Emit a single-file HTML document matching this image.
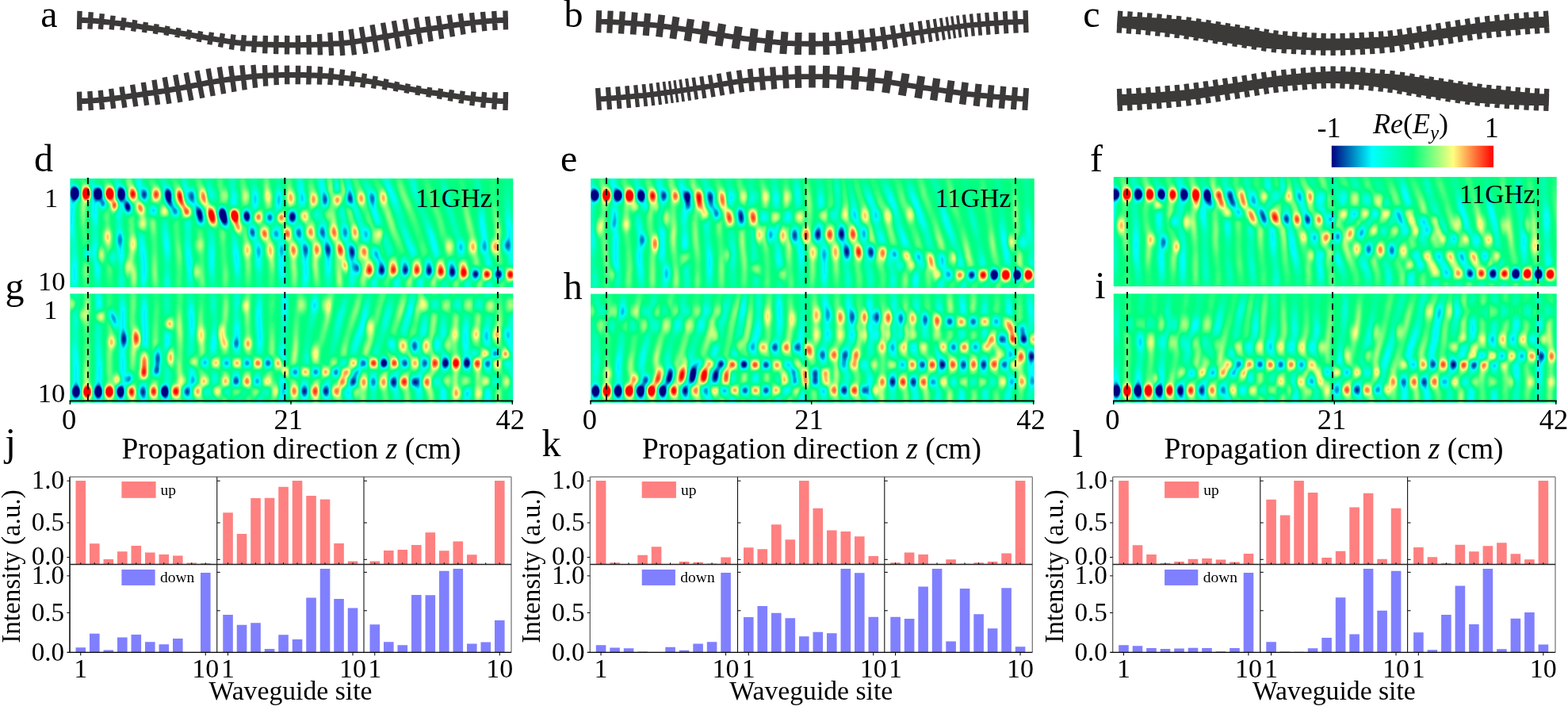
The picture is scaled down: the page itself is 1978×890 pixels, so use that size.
<!DOCTYPE html>
<html lang="en"><head><meta charset="utf-8"><title>Figure</title>
<style>html,body{margin:0;padding:0;background:#fff}body{width:1978px;height:890px;overflow:hidden}svg{display:block}text{font-family:"Liberation Serif",serif;fill:#000}.p1{fill:url(#p1)}.n1{fill:url(#n1)}.p2{fill:url(#p2)}.n2{fill:url(#n2)}.p3{fill:url(#p3)}.n3{fill:url(#n3)}.p4{fill:url(#p4)}.n4{fill:url(#n4)}.bg{fill:none;stroke-width:7.4;stroke-linecap:butt;stroke-linejoin:round;filter:url(#bb)}.w{stroke:#fff;stroke-width:6.4}.k{stroke:#000;stroke-width:8.2}</style></head><body>
<svg width="1978" height="890" viewBox="0 0 1978 890">
<rect width="1978" height="890" fill="#fff"/>
<path fill="#3b3a39" d="M97.23,21.9 101.82,21.98 106.39,22.12 110.94,22.3 115.56,22.55 120.14,22.9 124.69,23.28 129.27,23.7 133.83,24.17 138.36,24.66 142.9,25.16 147.46,25.67 152.03,26.24 156.62,26.87 161.19,27.57 165.72,28.29 170.25,28.99 174.78,29.71 179.31,30.42 183.82,31.11 188.33,31.77 192.86,32.41 197.41,33.07 201.98,33.77 206.54,34.52 211.09,35.29 215.63,36.09 220.17,36.9 224.71,37.72 229.23,38.53 233.76,39.33 238.29,40.13 242.83,40.94 247.36,41.75 251.89,42.56 256.41,43.36 260.93,44.14 265.45,44.91 269.96,45.64 274.52,46.4 279.05,47.17 283.57,47.93 288.07,48.66 292.56,49.34 297.02,49.94 301.47,50.43 305.95,50.83 310.46,51.2 314.97,51.54 319.48,51.85 323.98,52.13 328.48,52.37 332.98,52.56 337.47,52.7 341.99,52.81 346.52,52.91 351.04,53.01 355.56,53.09 360.08,53.15 364.59,53.19 369.1,53.2 373.61,53.19 378.12,53.15 382.64,53.09 387.16,53.01 391.68,52.91 396.21,52.81 400.73,52.7 405.22,52.56 409.72,52.37 414.22,52.13 418.72,51.85 423.23,51.54 427.74,51.2 432.25,50.83 436.73,50.43 441.18,49.94 445.64,49.34 450.13,48.66 454.63,47.93 459.15,47.17 463.68,46.4 468.24,45.64 472.75,44.91 477.27,44.14 481.79,43.36 486.31,42.56 490.84,41.75 495.37,40.94 499.91,40.13 504.44,39.33 508.97,38.53 513.49,37.72 518.03,36.9 522.57,36.09 527.11,35.29 531.66,34.52 536.22,33.77 540.79,33.07 545.34,32.41 549.87,31.77 554.38,31.11 558.89,30.42 563.42,29.71 567.95,28.99 572.48,28.29 577.01,27.57 581.58,26.87 586.17,26.24 590.74,25.67 595.3,25.16 599.84,24.66 604.37,24.17 608.93,23.7 613.51,23.28 618.06,22.9 622.64,22.55 627.26,22.3 631.81,22.12 636.38,21.98 640.97,21.9 641.03,28.9 636.56,28.98 632.06,29.12 627.55,29.29 623.11,29.54 618.63,29.87 614.11,30.25 609.62,30.66 605.12,31.13 600.59,31.62 596.07,32.12 591.56,32.63 587.07,33.18 582.6,33.8 578.1,34.49 573.57,35.21 569.03,35.91 564.51,36.62 559.97,37.33 555.42,38.03 550.86,38.7 546.33,39.34 541.82,39.99 537.32,40.68 532.82,41.42 528.31,42.19 523.79,42.98 519.26,43.79 514.73,44.61 510.2,45.42 505.66,46.23 501.13,47.02 496.6,47.83 492.07,48.64 487.54,49.45 483,50.25 478.45,51.04 473.9,51.81 469.36,52.55 464.85,53.3 460.32,54.07 455.78,54.84 451.21,55.58 446.63,56.27 442.04,56.88 437.42,57.4 432.84,57.81 428.29,58.18 423.73,58.52 419.18,58.84 414.62,59.12 410.05,59.36 405.48,59.55 400.91,59.7 396.37,59.81 391.84,59.91 387.29,60.01 382.75,60.08 378.2,60.15 373.65,60.19 369.1,60.2 364.55,60.19 360,60.15 355.45,60.08 350.91,60.01 346.36,59.91 341.83,59.81 337.29,59.7 332.72,59.55 328.15,59.36 323.58,59.12 319.02,58.84 314.47,58.52 309.91,58.18 305.36,57.81 300.78,57.4 296.16,56.88 291.57,56.27 286.99,55.58 282.42,54.84 277.88,54.07 273.35,53.3 268.84,52.55 264.3,51.81 259.75,51.04 255.2,50.25 250.66,49.45 246.13,48.64 241.6,47.83 237.07,47.02 232.54,46.23 228,45.42 223.47,44.61 218.94,43.79 214.41,42.98 209.89,42.19 205.38,41.42 200.88,40.68 196.38,39.99 191.87,39.34 187.34,38.7 182.78,38.03 178.23,37.33 173.69,36.62 169.17,35.91 164.63,35.21 160.1,34.49 155.6,33.8 151.13,33.18 146.64,32.63 142.13,32.12 137.61,31.62 133.08,31.13 128.58,30.66 124.09,30.25 119.57,29.87 115.09,29.54 110.65,29.29 106.14,29.12 101.64,28.98 97.17,28.9ZM97.33,13.86 103.73,13.99 103.27,37.03 96.87,36.9ZM111.54,15.07 117.92,15.46 116.62,36.86 110.24,36.47ZM125.61,16.96 131.98,17.57 130.11,37.2 123.74,36.59ZM139.43,19.38 145.79,20.07 143.85,37.71 137.49,37.01ZM153.4,21.92 159.73,22.84 157.44,38.54 151.11,37.62ZM167.15,24.76 173.47,25.74 171.25,39.98 164.93,39ZM180.81,27.47 187.14,28.42 185.15,41.58 178.82,40.62ZM194.5,29.88 200.84,30.82 199.02,43.13 192.68,42.2ZM208.41,32.29 214.72,33.38 212.67,45.21 206.36,44.12ZM222.24,34.71 228.54,35.84 226.4,47.7 220.1,46.57ZM236.01,37.09 242.31,38.2 240.19,50.22 233.89,49.1ZM249.92,38.86 256.22,39.98 253.84,53.36 247.54,52.24ZM263.79,40.19 270.1,41.24 267.53,56.78 261.22,55.74ZM277.76,41.57 284.07,42.65 281.12,59.99 274.81,58.92ZM291.37,43.01 297.71,43.89 295.07,62.93 288.73,62.05ZM304.65,44.02 311.03,44.54 309.35,64.85 302.97,64.32ZM318.26,44.57 324.64,44.98 323.3,66.32 316.92,65.92ZM331.73,44.72 338.13,44.93 337.39,67.51 330.99,67.3ZM345.39,44.69 351.78,44.82 351.29,68.22 344.9,68.09ZM359.03,44.86 365.43,44.92 365.21,68.47 358.81,68.41ZM372.6,44.85 379,44.79 379.2,68.49 372.8,68.55ZM386.22,44.2 392.62,44.07 393.14,68.71 386.74,68.85ZM399.84,43.02 406.23,42.81 407.08,69.22 400.69,69.43ZM413.14,41.16 419.53,40.77 421.34,69.75 414.95,70.15ZM426.55,39.17 432.93,38.64 435.49,69.72 429.11,70.25ZM439.38,37.14 445.72,36.27 450.22,68.84 443.88,69.71ZM452.56,34.49 458.87,33.42 464.6,67.13 458.29,68.21ZM466.35,31.77 472.67,30.73 478.37,65.27 472.05,66.31ZM479.9,29.3 486.2,28.18 492.38,62.99 486.08,64.11ZM493.67,26.76 499.98,25.65 506.17,60.6 499.86,61.72ZM507.45,24.59 513.75,23.46 519.95,57.88 513.65,59.02ZM521.43,22.65 527.74,21.56 533.53,54.91 527.22,56.01ZM535.78,21.37 542.11,20.43 546.74,51.7 540.41,52.64ZM549.7,20.59 556.03,19.64 560.38,48.51 554.05,49.46ZM563.51,19.15 569.84,18.16 574.13,45.65 567.8,46.64ZM577.51,17.54 583.84,16.61 587.69,42.98 581.36,43.9ZM591.83,16.41 598.19,15.71 600.93,40.71 594.57,41.41ZM605.82,15.36 612.19,14.74 614.5,38.83 608.13,39.44ZM620.01,14.2 626.39,13.8 627.87,37.75 621.49,38.15ZM634.27,13.57 640.67,13.43 641.17,37.33 634.77,37.46Z"/>
<path fill="#3b3a39" d="M97.17,124.1 101.64,124.02 106.14,123.88 110.65,123.71 115.09,123.46 119.57,123.13 124.09,122.75 128.58,122.34 133.08,121.88 137.59,121.38 142.08,120.84 146.58,120.26 151.1,119.63 155.59,118.99 160.11,118.3 164.64,117.59 169.17,116.89 173.69,116.18 178.23,115.47 182.78,114.77 187.34,114.1 191.87,113.46 196.38,112.81 200.88,112.12 205.39,111.39 209.9,110.63 214.42,109.85 218.94,109.05 223.46,108.23 227.99,107.41 232.52,106.59 237.03,105.75 241.54,104.87 246.06,103.97 250.59,103.06 255.13,102.15 259.69,101.27 264.26,100.43 268.83,99.65 273.37,98.9 277.91,98.16 282.46,97.45 287.02,96.76 291.58,96.11 296.15,95.5 300.72,94.94 305.28,94.44 309.81,93.95 314.36,93.47 318.92,93.01 323.48,92.6 328.06,92.23 332.65,91.93 337.24,91.71 341.78,91.53 346.32,91.37 350.87,91.22 355.42,91.09 359.97,90.99 364.53,90.92 369.1,90.9 373.67,90.92 378.23,90.99 382.78,91.09 387.33,91.22 391.88,91.37 396.42,91.53 400.96,91.71 405.55,91.93 410.14,92.23 414.72,92.6 419.28,93.01 423.84,93.47 428.39,93.95 432.92,94.44 437.48,94.94 442.05,95.5 446.62,96.11 451.18,96.76 455.74,97.45 460.29,98.16 464.83,98.9 469.37,99.65 473.94,100.43 478.51,101.27 483.07,102.15 487.61,103.06 492.14,103.97 496.66,104.87 501.17,105.75 505.68,106.59 510.21,107.41 514.74,108.23 519.26,109.05 523.78,109.85 528.3,110.63 532.81,111.39 537.32,112.12 541.82,112.81 546.33,113.46 550.86,114.1 555.42,114.77 559.97,115.47 564.51,116.18 569.03,116.89 573.56,117.59 578.09,118.3 582.61,118.99 587.1,119.63 591.62,120.26 596.12,120.84 600.61,121.38 605.12,121.88 609.62,122.34 614.11,122.75 618.63,123.13 623.11,123.46 627.55,123.71 632.06,123.88 636.56,124.02 641.03,124.1 640.97,131.1 636.38,131.02 631.81,130.88 627.26,130.7 622.64,130.45 618.06,130.1 613.51,129.72 608.94,129.31 604.37,128.84 599.82,128.34 595.25,127.79 590.68,127.19 586.14,126.57 581.57,125.91 577.02,125.21 572.49,124.51 567.95,123.81 563.42,123.09 558.89,122.38 554.38,121.69 549.87,121.03 545.34,120.39 540.79,119.73 536.22,119.03 531.67,118.29 527.12,117.53 522.57,116.74 518.03,115.94 513.49,115.12 508.95,114.3 504.42,113.47 499.86,112.63 495.31,111.74 490.77,110.83 486.23,109.92 481.72,109.02 477.21,108.15 472.71,107.32 468.23,106.55 463.7,105.81 459.18,105.08 454.67,104.37 450.16,103.69 445.66,103.04 441.16,102.44 436.67,101.9 432.16,101.4 427.64,100.91 423.12,100.43 418.61,99.98 414.12,99.57 409.63,99.21 405.15,98.92 400.68,98.7 396.16,98.53 391.64,98.36 387.12,98.21 382.61,98.09 378.1,97.99 373.6,97.92 369.1,97.9 364.6,97.92 360.1,97.99 355.59,98.09 351.08,98.21 346.56,98.36 342.04,98.53 337.52,98.7 333.05,98.92 328.57,99.21 324.08,99.57 319.59,99.98 315.08,100.43 310.56,100.91 306.04,101.4 301.53,101.9 297.04,102.44 292.54,103.04 288.04,103.69 283.53,104.37 279.02,105.08 274.5,105.81 269.97,106.55 265.49,107.32 260.99,108.15 256.48,109.02 251.97,109.92 247.43,110.83 242.89,111.74 238.34,112.63 233.78,113.47 229.25,114.3 224.71,115.12 220.17,115.94 215.63,116.74 211.08,117.53 206.53,118.29 201.98,119.03 197.41,119.73 192.86,120.39 188.33,121.03 183.82,121.69 179.31,122.38 174.78,123.09 170.25,123.81 165.71,124.51 161.18,125.21 156.63,125.91 152.06,126.57 147.52,127.19 142.95,127.79 138.38,128.34 133.83,128.84 129.26,129.31 124.69,129.72 120.14,130.1 115.56,130.45 110.94,130.7 106.39,130.88 101.82,131.02 97.23,131.1ZM96.86,115.67 103.26,115.54 103.74,139.44 97.34,139.57ZM110.16,115.25 116.55,114.87 118,138.82 111.61,139.21ZM123.54,114.18 129.91,113.58 132.18,137.67 125.81,138.27ZM136.92,112.35 143.27,111.56 146.36,136.51 140.01,137.29ZM150.31,109.85 156.64,108.91 160.53,135.25 154.2,136.19ZM163.9,107.18 170.22,106.2 174.5,133.68 168.18,134.66ZM177.64,104.33 183.96,103.38 188.32,132.22 182,133.18ZM191.28,101.14 197.62,100.21 202.24,131.44 195.9,132.38ZM204.54,97.93 210.85,96.85 216.54,130.21 210.23,131.29ZM218.06,95 224.36,93.86 230.58,128.27 224.28,129.41ZM231.63,92.27 237.91,91.07 244.57,125.94 238.29,127.14ZM245.27,89.67 251.54,88.41 258.49,123.08 252.22,124.33ZM259.47,87.05 265.78,85.94 271.85,120.43 265.54,121.53ZM273.6,85.07 279.92,84.07 285.28,117.86 278.96,118.86ZM287.84,83.55 294.18,82.69 298.6,115.29 292.26,116.15ZM302.13,82.61 308.49,81.92 311.87,112.94 305.51,113.63ZM316.25,82.18 322.62,81.59 325.31,110.53 318.94,111.12ZM330.69,82.29 337.08,81.96 338.43,108.38 332.04,108.7ZM344.73,82.58 351.13,82.36 351.95,107.02 345.55,107.24ZM358.75,82.65 365.15,82.56 365.49,106.26 359.09,106.35ZM372.87,82.63 379.27,82.72 378.93,106.27 372.53,106.18ZM386.87,82.99 393.27,83.2 392.49,106.6 386.09,106.39ZM400.83,83.87 407.23,84.19 406.09,106.78 399.69,106.46ZM415.04,85.39 421.41,85.98 419.44,107.28 413.07,106.7ZM428.94,87.27 435.31,87.97 433.1,108.23 426.73,107.54ZM442.92,89.43 449.26,90.29 446.68,109.35 440.34,108.5ZM456.8,92.23 463.12,93.24 460.36,110.64 454.04,109.64ZM470.57,95.38 476.88,96.49 474.15,112.03 467.84,110.92ZM484.34,99.03 490.62,100.29 487.94,113.64 481.66,112.38ZM497.92,102.48 504.21,103.68 501.92,115.67 495.63,114.47ZM511.62,105.1 517.92,106.24 515.78,118.1 509.48,116.96ZM525.34,107.58 531.64,108.66 529.62,120.49 523.32,119.41ZM539.01,109.65 545.34,110.58 543.51,122.89 537.18,121.95ZM552.87,111.2 559.2,112.16 557.21,125.3 550.88,124.34ZM566.77,112.8 573.09,113.78 570.87,128.01 564.55,127.02ZM580.6,114.22 586.93,115.16 584.6,130.83 578.27,129.89ZM594.3,115.22 600.65,116.01 598.46,133.59 592.11,132.8ZM607.9,115.8 614.27,116.41 612.42,136.01 606.05,135.41ZM621.41,116.14 627.79,116.53 626.47,137.91 620.09,137.52ZM634.76,115.98 641.16,116.11 640.68,139.12 634.28,138.99Z"/>
<path fill="#3b3a39" d="M752.09,23.6 756.65,23.73 761.21,23.89 765.78,24.08 770.34,24.3 774.89,24.54 779.45,24.8 784.01,25.08 788.56,25.38 793.12,25.7 797.67,26.03 802.22,26.37 806.77,26.73 811.32,27.1 815.87,27.48 820.45,27.88 825.02,28.34 829.6,28.85 834.17,29.4 838.74,29.98 843.3,30.6 847.86,31.24 852.42,31.91 856.97,32.59 861.52,33.29 866.06,33.99 870.6,34.69 875.14,35.39 879.68,36.09 884.21,36.77 888.73,37.43 893.29,38.09 897.85,38.78 902.41,39.5 906.96,40.23 911.5,40.96 916.04,41.7 920.58,42.43 925.11,43.15 929.64,43.85 934.16,44.52 938.67,45.16 943.18,45.76 947.69,46.31 952.21,46.82 956.76,47.33 961.3,47.84 965.83,48.35 970.36,48.85 974.89,49.32 979.41,49.77 983.93,50.19 988.44,50.58 992.94,50.91 997.44,51.2 1001.94,51.42 1006.43,51.58 1010.96,51.7 1015.48,51.8 1020,51.87 1024.5,51.9 1029,51.87 1033.52,51.8 1038.04,51.7 1042.57,51.58 1047.06,51.42 1051.56,51.2 1056.06,50.91 1060.56,50.58 1065.07,50.19 1069.59,49.77 1074.11,49.32 1078.64,48.85 1083.17,48.35 1087.7,47.84 1092.24,47.33 1096.79,46.82 1101.31,46.31 1105.82,45.76 1110.33,45.16 1114.84,44.52 1119.36,43.85 1123.89,43.15 1128.42,42.43 1132.96,41.7 1137.5,40.96 1142.04,40.23 1146.59,39.5 1151.15,38.78 1155.71,38.09 1160.27,37.43 1164.79,36.77 1169.32,36.09 1173.86,35.39 1178.4,34.69 1182.94,33.99 1187.48,33.29 1192.03,32.59 1196.58,31.91 1201.14,31.24 1205.7,30.6 1210.26,29.98 1214.83,29.4 1219.4,28.85 1223.98,28.34 1228.55,27.88 1233.13,27.48 1237.68,27.1 1242.23,26.73 1246.78,26.37 1251.33,26.03 1255.88,25.7 1260.44,25.38 1264.99,25.08 1269.55,24.8 1274.11,24.54 1278.66,24.3 1283.22,24.08 1287.79,23.89 1292.35,23.73 1296.91,23.6 1297.09,30.4 1292.57,30.53 1288.05,30.69 1283.53,30.88 1279,31.09 1274.48,31.32 1269.95,31.58 1265.43,31.86 1260.9,32.16 1256.37,32.48 1251.84,32.81 1247.3,33.15 1242.77,33.51 1238.24,33.88 1233.7,34.25 1229.2,34.65 1224.69,35.1 1220.18,35.6 1215.67,36.14 1211.15,36.72 1206.63,37.33 1202.11,37.97 1197.58,38.63 1193.05,39.31 1188.52,40.01 1183.98,40.71 1179.44,41.41 1174.89,42.11 1170.34,42.81 1165.79,43.49 1161.23,44.16 1156.71,44.82 1152.19,45.5 1147.66,46.21 1143.12,46.94 1138.59,47.67 1134.04,48.41 1129.5,49.14 1124.94,49.87 1120.39,50.57 1115.82,51.25 1111.26,51.9 1106.68,52.51 1102.1,53.07 1097.54,53.58 1093.01,54.09 1088.46,54.6 1083.92,55.11 1079.36,55.61 1074.81,56.09 1070.24,56.54 1065.68,56.97 1061.1,57.35 1056.53,57.7 1051.94,57.99 1047.36,58.22 1042.76,58.38 1038.21,58.5 1033.65,58.6 1029.08,58.67 1024.5,58.7 1019.92,58.67 1015.35,58.6 1010.79,58.5 1006.24,58.38 1001.64,58.22 997.06,57.99 992.47,57.7 987.9,57.35 983.32,56.97 978.76,56.54 974.19,56.09 969.64,55.61 965.08,55.11 960.54,54.6 955.99,54.09 951.46,53.58 946.9,53.07 942.32,52.51 937.74,51.9 933.18,51.25 928.61,50.57 924.06,49.87 919.5,49.14 914.96,48.41 910.41,47.67 905.88,46.94 901.34,46.21 896.81,45.5 892.29,44.82 887.77,44.16 883.21,43.49 878.66,42.81 874.11,42.11 869.56,41.41 865.02,40.71 860.48,40.01 855.95,39.31 851.42,38.63 846.89,37.97 842.37,37.33 837.85,36.72 833.33,36.14 828.82,35.6 824.31,35.1 819.8,34.65 815.3,34.25 810.76,33.88 806.23,33.51 801.7,33.15 797.16,32.81 792.63,32.48 788.1,32.16 783.57,31.86 779.05,31.58 774.52,31.32 770,31.09 765.47,30.88 760.95,30.69 756.43,30.53 751.91,30.4ZM752.25,12.99 759.2,13.2 758.35,41.19 751.4,40.98ZM766.62,13.5 773.75,13.85 772.38,41.82 765.25,41.47ZM781.61,14.3 788.99,14.78 787.19,42.72 779.81,42.24ZM796.91,15.34 804.61,15.92 802.49,43.84 794.79,43.26ZM812.99,16.6 821.15,17.28 818.81,45.18 810.65,44.5ZM830.55,18.27 839.06,19.32 835.65,47.11 827.14,46.06ZM848.56,20.62 857.33,21.92 853.24,49.62 844.47,48.32ZM866.86,23.39 876.03,24.81 871.74,52.48 862.57,51.06ZM886,26.33 895.58,27.7 891.6,55.42 882.02,54.04ZM906.09,29.35 915.99,30.95 911.51,58.59 901.61,56.99ZM926.78,32.7 936.81,34.21 932.62,61.9 922.59,60.38ZM946.84,35.57 956.63,36.65 953.56,64.48 943.77,63.4ZM966.69,37.79 976.11,38.8 973.11,66.64 963.69,65.63ZM985.47,39.71 994.51,40.42 992.33,68.33 983.29,67.63ZM1002.91,40.89 1011.63,41.12 1010.89,69.11 1002.17,68.88ZM1020.19,41.3 1028.81,41.3 1028.81,69.3 1020.19,69.3ZM1037.64,41.11 1045.82,40.89 1046.56,68.89 1038.38,69.1ZM1053.07,40.51 1060.69,39.95 1062.73,67.87 1055.11,68.43ZM1068.27,39.26 1075.51,38.53 1078.33,66.38 1071.09,67.12ZM1082.59,37.75 1089.48,36.98 1092.61,64.8 1085.72,65.58ZM1096.64,36.19 1103.31,35.41 1106.56,63.22 1099.89,64ZM1109.83,34.54 1116.16,33.62 1120.17,61.33 1113.84,62.25ZM1122.47,32.64 1128.52,31.68 1132.93,59.33 1126.88,60.3ZM1134.91,30.64 1140.61,29.72 1145.09,57.36 1139.39,58.28ZM1146.47,28.78 1151.84,27.95 1156.13,55.62 1150.76,56.45ZM1157.65,27.1 1162.72,26.36 1166.75,54.07 1161.68,54.81ZM1167.82,25.59 1172.35,24.9 1176.58,52.58 1172.05,53.27ZM1176.73,24.22 1180.78,23.6 1185.07,51.27 1181.02,51.89ZM1184.94,22.95 1188.62,22.39 1192.86,50.06 1189.18,50.63ZM1192.36,21.82 1195.71,21.32 1199.84,49.02 1196.49,49.51ZM1199.07,20.83 1202.37,20.36 1206.33,48.08 1203.03,48.55ZM1206.03,19.85 1209.67,19.37 1213.37,47.12 1209.73,47.61ZM1214.01,18.81 1218.07,18.33 1221.39,46.13 1217.33,46.61ZM1222.82,17.8 1227.18,17.36 1229.98,45.22 1225.62,45.66ZM1232.06,16.93 1236.83,16.53 1239.14,44.44 1234.37,44.83ZM1242.22,16.1 1247.4,15.69 1249.58,43.61 1244.4,44.01ZM1253.04,15.27 1258.58,14.88 1260.56,42.81 1255.02,43.2ZM1264.79,14.46 1270.71,14.11 1272.41,42.05 1266.49,42.41ZM1277.23,13.75 1283.45,13.46 1284.77,41.42 1278.55,41.72ZM1290.4,13.18 1296.77,12.99 1297.6,40.98 1291.23,41.17Z"/>
<path fill="#3b3a39" d="M751.8,121.71 756.33,121.43 760.86,121.14 765.39,120.83 769.92,120.51 774.45,120.17 778.98,119.81 783.51,119.43 788.04,119.05 792.57,118.64 797.1,118.23 801.64,117.8 806.17,117.36 810.7,116.91 815.23,116.45 819.75,115.96 824.27,115.44 828.79,114.89 833.32,114.32 837.84,113.73 842.37,113.12 846.9,112.5 851.44,111.86 855.97,111.21 860.51,110.55 865.05,109.88 869.59,109.21 874.13,108.54 878.67,107.87 883.22,107.21 887.76,106.55 892.26,105.87 896.78,105.14 901.31,104.38 905.84,103.61 910.38,102.82 914.93,102.03 919.48,101.26 924.04,100.51 928.61,99.8 933.19,99.12 937.78,98.51 942.37,97.96 946.97,97.49 951.52,97.06 956.07,96.64 960.62,96.24 965.17,95.85 969.73,95.47 974.29,95.12 978.85,94.79 983.41,94.48 987.97,94.2 992.54,93.95 997.1,93.74 1001.67,93.56 1006.24,93.42 1010.79,93.31 1015.35,93.2 1019.92,93.13 1024.5,93.1 1029.08,93.13 1033.65,93.2 1038.21,93.31 1042.76,93.42 1047.33,93.56 1051.9,93.74 1056.46,93.95 1061.03,94.2 1065.59,94.48 1070.15,94.79 1074.71,95.12 1079.27,95.47 1083.83,95.85 1088.38,96.24 1092.93,96.64 1097.48,97.06 1102.03,97.49 1106.63,97.96 1111.22,98.51 1115.81,99.12 1120.39,99.8 1124.96,100.51 1129.52,101.26 1134.07,102.03 1138.62,102.82 1143.16,103.61 1147.69,104.38 1152.22,105.14 1156.74,105.87 1161.24,106.55 1165.78,107.21 1170.33,107.87 1174.87,108.54 1179.41,109.21 1183.95,109.88 1188.49,110.55 1193.03,111.21 1197.56,111.86 1202.1,112.5 1206.63,113.12 1211.16,113.73 1215.68,114.32 1220.21,114.89 1224.73,115.44 1229.25,115.96 1233.77,116.45 1238.3,116.91 1242.83,117.36 1247.36,117.8 1251.9,118.23 1256.43,118.64 1260.96,119.05 1265.49,119.43 1270.02,119.81 1274.55,120.17 1279.08,120.51 1283.61,120.83 1288.14,121.14 1292.67,121.43 1297.2,121.71 1296.8,128.49 1292.25,128.22 1287.69,127.93 1283.14,127.62 1278.58,127.29 1274.03,126.95 1269.48,126.59 1264.92,126.21 1260.37,125.82 1255.82,125.42 1251.27,125 1246.72,124.57 1242.17,124.13 1237.62,123.68 1233.06,123.21 1228.5,122.72 1223.94,122.19 1219.38,121.64 1214.82,121.07 1210.26,120.47 1205.71,119.86 1201.15,119.23 1196.6,118.59 1192.06,117.94 1187.51,117.28 1182.96,116.61 1178.42,115.94 1173.88,115.27 1169.34,114.6 1164.8,113.94 1160.26,113.28 1155.68,112.59 1151.11,111.85 1146.56,111.09 1142,110.31 1137.46,109.52 1132.93,108.74 1128.4,107.97 1123.88,107.23 1119.36,106.52 1114.86,105.86 1110.36,105.25 1105.87,104.72 1101.39,104.26 1096.85,103.83 1092.32,103.42 1087.79,103.01 1083.26,102.62 1078.73,102.25 1074.2,101.9 1069.68,101.57 1065.16,101.26 1060.64,100.99 1056.12,100.74 1051.6,100.53 1047.09,100.35 1042.58,100.22 1038.04,100.1 1033.52,100 1029,99.93 1024.5,99.9 1020,99.93 1015.48,100 1010.96,100.1 1006.42,100.22 1001.91,100.35 997.4,100.53 992.88,100.74 988.36,100.99 983.84,101.26 979.32,101.57 974.8,101.9 970.27,102.25 965.74,102.62 961.21,103.01 956.68,103.42 952.15,103.83 947.61,104.26 943.13,104.72 938.64,105.25 934.14,105.86 929.64,106.52 925.12,107.23 920.6,107.97 916.07,108.74 911.54,109.52 907,110.31 902.44,111.09 897.89,111.85 893.32,112.59 888.74,113.28 884.2,113.94 879.66,114.6 875.12,115.27 870.58,115.94 866.04,116.61 861.49,117.28 856.94,117.94 852.4,118.59 847.85,119.23 843.29,119.86 838.74,120.47 834.18,121.07 829.62,121.64 825.06,122.19 820.5,122.72 815.94,123.21 811.38,123.68 806.83,124.13 802.28,124.57 797.73,125 793.18,125.42 788.63,125.82 784.08,126.21 779.52,126.59 774.97,126.95 770.42,127.29 765.86,127.62 761.31,127.93 756.75,128.22 752.2,128.49ZM750.97,111.14 757.33,110.75 759.03,138.7 752.67,139.09ZM763.89,110.32 770.1,109.87 772.11,137.8 765.9,138.24ZM776.31,109.39 782.22,108.91 784.49,136.82 778.58,137.3ZM788.18,108.4 793.72,107.9 796.22,135.79 790.68,136.28ZM799.17,107.39 804.35,106.89 807.03,134.76 801.85,135.26ZM809.6,106.37 814.36,105.89 817.2,133.75 812.44,134.23ZM818.82,105.4 823.18,104.9 826.38,132.72 822.02,133.22ZM827.52,104.37 831.58,103.86 835.08,131.64 831.02,132.15ZM835.62,103.34 839.27,102.85 842.98,130.6 839.33,131.09ZM842.72,102.38 846.02,101.92 849.88,129.65 846.58,130.11ZM849.25,101.46 852.59,100.98 856.55,128.7 853.21,129.18ZM856.24,100.46 859.92,99.92 863.96,127.63 860.28,128.16ZM864.04,99.32 868.08,98.72 872.16,126.42 868.12,127.02ZM872.5,98.07 877.03,97.4 881.1,125.1 876.57,125.77ZM882.27,96.64 887.34,95.91 891.33,123.62 886.26,124.35ZM892.74,95.06 898.1,94.18 902.66,121.8 897.3,122.69ZM903.76,93.21 909.46,92.22 914.24,119.81 908.54,120.8ZM915.99,91.1 922.03,90.09 926.61,117.72 920.57,118.72ZM928.89,89.02 935.23,88.14 939.11,115.87 932.77,116.75ZM942.74,87.24 949.43,86.61 952.06,114.48 945.37,115.12ZM956.73,85.94 963.64,85.33 966.07,113.23 959.16,113.83ZM971.04,84.73 978.29,84.19 980.36,112.11 973.11,112.65ZM986.54,83.65 994.17,83.25 995.66,111.21 988.03,111.61ZM1002.46,82.91 1010.64,82.7 1011.34,110.7 1003.16,110.9ZM1020.19,82.5 1028.81,82.5 1028.81,110.5 1020.19,110.5ZM1038.09,82.7 1046.81,82.92 1046.11,110.91 1037.39,110.69ZM1056.37,83.32 1065.42,83.83 1063.83,111.79 1054.78,111.27ZM1075.49,84.54 1084.95,85.29 1082.71,113.2 1073.25,112.45ZM1095.2,86.2 1105.01,87.12 1102.4,115 1092.59,114.08ZM1116.37,88.47 1126.4,89.98 1122.23,117.67 1112.2,116.16ZM1137.65,91.89 1147.53,93.6 1142.75,121.19 1132.87,119.48ZM1157.47,95.28 1167.04,96.7 1162.93,124.4 1153.36,122.97ZM1177.15,98.16 1186.34,99.52 1182.25,127.22 1173.06,125.86ZM1195.68,100.88 1204.46,102.13 1200.52,129.85 1191.74,128.61ZM1213.42,103.35 1221.93,104.44 1218.38,132.21 1209.87,131.12ZM1230.5,105.45 1238.64,106.31 1235.7,134.15 1227.56,133.29ZM1246.77,107.1 1254.46,107.83 1251.83,135.7 1244.14,134.98ZM1262.09,108.51 1269.47,109.13 1267.11,137.03 1259.73,136.41ZM1276.97,109.73 1284.08,110.25 1282.03,138.17 1274.92,137.65ZM1291.08,110.72 1298.03,111.14 1296.32,139.09 1289.37,138.67Z"/>
<path fill="#3b3a39" d="M1409.58,20.4 1414.17,20.51 1418.75,20.63 1423.33,20.78 1427.91,20.94 1432.5,21.12 1437.08,21.32 1441.66,21.54 1446.24,21.77 1450.82,22.02 1455.4,22.28 1459.98,22.56 1464.56,22.84 1469.14,23.14 1473.71,23.45 1478.29,23.78 1482.86,24.11 1487.43,24.46 1492.08,24.83 1496.72,25.23 1501.36,25.66 1506,26.13 1510.62,26.63 1515.23,27.19 1519.82,27.8 1524.4,28.46 1528.96,29.18 1533.51,29.91 1538.04,30.64 1542.57,31.37 1547.08,32.08 1551.59,32.78 1556.08,33.46 1560.56,34.12 1565.16,34.79 1569.77,35.49 1574.35,36.21 1578.91,36.98 1583.43,37.8 1587.92,38.67 1592.39,39.55 1596.82,40.43 1601.24,41.29 1605.64,42.09 1610.03,42.83 1614.4,43.5 1618.75,44.13 1623.15,44.7 1627.67,45.24 1632.19,45.71 1636.7,46.12 1641.21,46.49 1645.71,46.84 1650.21,47.16 1654.71,47.46 1659.2,47.72 1663.69,47.95 1668.17,48.14 1672.65,48.29 1677.13,48.41 1681.6,48.48 1686.07,48.51 1690.55,48.5 1695.03,48.45 1699.52,48.35 1704.02,48.23 1708.52,48.08 1713.02,47.9 1717.53,47.71 1722.05,47.49 1726.57,47.27 1731.1,47.04 1735.63,46.81 1740.17,46.58 1744.62,46.34 1749.05,46.03 1753.49,45.64 1757.95,45.18 1762.42,44.66 1766.91,44.09 1771.42,43.48 1775.94,42.83 1780.47,42.15 1785.02,41.45 1789.57,40.75 1794.14,40.04 1798.72,39.34 1803.29,38.67 1807.8,38 1812.31,37.3 1816.82,36.58 1821.35,35.85 1825.87,35.1 1830.41,34.35 1834.95,33.59 1839.5,32.84 1844.05,32.1 1848.61,31.36 1853.17,30.65 1857.75,29.96 1862.33,29.3 1866.91,28.67 1871.51,28.08 1876.1,27.54 1880.65,27.02 1885.2,26.51 1889.75,26.01 1894.3,25.53 1898.86,25.05 1903.41,24.58 1907.97,24.12 1912.53,23.68 1917.09,23.25 1921.65,22.83 1926.21,22.43 1930.78,22.05 1935.34,21.69 1939.91,21.34 1944.47,21.01 1949.04,20.7 1953.62,20.41 1954.38,34.59 1949.88,34.81 1945.37,35.06 1940.85,35.33 1936.34,35.61 1931.82,35.92 1927.31,36.24 1922.79,36.58 1918.27,36.93 1913.75,37.3 1909.23,37.69 1904.71,38.09 1900.18,38.5 1895.66,38.92 1891.13,39.36 1886.6,39.8 1882.07,40.26 1877.54,40.73 1873.05,41.21 1868.57,41.73 1864.07,42.29 1859.57,42.88 1855.07,43.5 1850.55,44.15 1846.03,44.81 1841.5,45.5 1836.97,46.19 1832.43,46.9 1827.89,47.61 1823.33,48.32 1818.78,49.02 1814.21,49.71 1809.64,50.39 1805.07,51.05 1800.56,51.7 1796.06,52.39 1791.55,53.11 1787.02,53.87 1782.49,54.64 1777.94,55.42 1773.38,56.19 1768.81,56.95 1764.22,57.67 1759.61,58.36 1754.99,58.99 1750.35,59.55 1745.7,60.03 1741.07,60.43 1736.53,60.79 1731.98,61.13 1727.43,61.46 1722.87,61.78 1718.31,62.07 1713.74,62.34 1709.16,62.6 1704.58,62.82 1700,63.02 1695.41,63.19 1690.81,63.34 1686.21,63.44 1681.6,63.52 1676.99,63.55 1672.39,63.54 1667.79,63.5 1663.19,63.43 1658.6,63.34 1654.01,63.22 1649.43,63.08 1644.85,62.94 1640.27,62.78 1635.7,62.62 1631.13,62.46 1626.57,62.36 1622.01,62.3 1617.33,62.24 1612.6,62.08 1607.89,61.8 1603.2,61.45 1598.52,61.05 1593.86,60.61 1589.21,60.12 1584.6,59.58 1580.01,58.98 1575.45,58.34 1570.93,57.64 1566.43,56.93 1561.96,56.25 1557.48,55.6 1552.88,54.93 1548.29,54.23 1543.72,53.52 1539.15,52.8 1534.6,52.07 1530.05,51.34 1525.52,50.61 1521,49.88 1516.5,49.11 1512.01,48.32 1507.54,47.52 1503.08,46.71 1498.64,45.93 1494.2,45.17 1489.76,44.46 1485.33,43.81 1480.82,43.17 1476.31,42.54 1471.81,41.92 1467.3,41.31 1462.8,40.7 1458.3,40.11 1453.8,39.52 1449.3,38.96 1444.8,38.41 1440.3,37.87 1435.8,37.35 1431.3,36.84 1426.81,36.36 1422.31,35.89 1417.81,35.44 1413.31,35.01 1408.82,34.6ZM1410.16,13.53 1416.45,13.89 1414.84,41.84 1408.55,41.48ZM1422.56,14.28 1428.84,14.71 1426.9,42.65 1420.62,42.21ZM1434.94,15.17 1441.22,15.67 1438.99,43.58 1432.71,43.08ZM1447.3,16.19 1453.58,16.75 1451.09,44.64 1444.82,44.08ZM1459.64,17.31 1465.91,17.92 1463.21,45.79 1456.94,45.18ZM1471.97,18.53 1478.23,19.18 1475.35,47.03 1469.08,46.38ZM1484.27,19.82 1490.54,20.5 1487.51,48.34 1481.25,47.66ZM1496.82,21.25 1503.07,22.07 1499.42,49.83 1493.18,49.01ZM1509.3,22.95 1515.53,23.88 1511.41,51.58 1505.18,50.65ZM1521.67,24.83 1527.89,25.82 1523.51,53.47 1517.28,52.48ZM1533.93,26.79 1540.15,27.79 1535.7,55.44 1529.48,54.43ZM1546.09,28.74 1552.32,29.71 1548.01,57.38 1541.78,56.41ZM1558.15,30.59 1564.39,31.49 1560.41,59.2 1554.18,58.31ZM1570.6,32.43 1576.82,33.42 1572.43,61.07 1566.2,60.08ZM1582.86,34.4 1589.08,35.4 1584.64,63.04 1578.41,62.04ZM1594.88,36.3 1601.12,37.21 1597.07,64.92 1590.84,64.01ZM1606.68,37.96 1612.94,38.68 1609.74,66.49 1603.48,65.77ZM1618.25,39.18 1624.53,39.61 1622.63,67.54 1616.35,67.12ZM1630.4,39.98 1636.69,40.37 1634.95,68.32 1628.66,67.93ZM1642.52,40.72 1648.81,41.06 1647.29,69.02 1641,68.68ZM1654.56,41.34 1660.86,41.6 1659.71,69.57 1653.41,69.31ZM1666.54,41.78 1672.84,41.93 1672.19,69.92 1665.9,69.78ZM1678.45,42 1684.75,42 1684.75,70 1678.45,70ZM1690.36,41.93 1696.66,41.78 1697.3,69.78 1691.01,69.92ZM1702.34,41.6 1708.64,41.34 1709.79,69.31 1703.49,69.57ZM1714.39,41.06 1720.68,40.72 1722.2,68.68 1715.91,69.02ZM1726.51,40.37 1732.8,39.98 1734.54,67.93 1728.25,68.32ZM1738.67,39.61 1744.95,39.18 1746.85,67.12 1740.57,67.54ZM1750.26,38.68 1756.52,37.96 1759.72,65.77 1753.46,66.49ZM1762.08,37.21 1768.32,36.3 1772.36,64.01 1766.13,64.92ZM1774.12,35.4 1780.34,34.4 1784.79,62.04 1778.56,63.04ZM1786.38,33.42 1792.6,32.43 1797,60.08 1790.77,61.07ZM1798.81,31.49 1805.05,30.59 1809.02,58.31 1802.79,59.2ZM1810.88,29.71 1817.11,28.74 1821.42,56.41 1815.19,57.38ZM1823.05,27.79 1829.27,26.79 1833.72,54.43 1827.5,55.44ZM1835.31,25.82 1841.53,24.83 1845.92,52.48 1839.69,53.47ZM1847.67,23.88 1853.9,22.95 1858.02,50.65 1851.79,51.58ZM1860.13,22.07 1866.38,21.25 1870.02,49.01 1863.78,49.83ZM1872.66,20.5 1878.93,19.82 1881.95,47.66 1875.69,48.34ZM1884.97,19.18 1891.23,18.53 1894.12,46.38 1887.85,47.03ZM1897.29,17.92 1903.56,17.31 1906.26,45.18 1899.99,45.79ZM1909.62,16.75 1915.9,16.19 1918.38,44.08 1912.11,44.64ZM1921.98,15.67 1928.26,15.17 1930.49,43.08 1924.21,43.58ZM1934.36,14.71 1940.64,14.28 1942.58,42.21 1936.3,42.65ZM1946.75,13.89 1953.04,13.53 1954.65,41.48 1948.36,41.84Z"/>
<path fill="#3b3a39" d="M1408.99,118.9 1413.49,118.79 1417.99,118.64 1422.5,118.48 1427,118.29 1431.51,118.07 1436.02,117.84 1440.54,117.58 1445.05,117.31 1449.57,117.02 1454.09,116.72 1458.61,116.4 1463.13,116.06 1467.66,115.71 1472.19,115.36 1476.72,114.99 1481.25,114.62 1485.76,114.23 1490.23,113.81 1494.71,113.35 1499.2,112.85 1503.7,112.31 1508.2,111.73 1512.71,111.13 1517.23,110.51 1521.75,109.87 1526.28,109.21 1530.81,108.54 1535.35,107.86 1539.9,107.18 1544.45,106.5 1549.01,105.83 1553.57,105.17 1558.1,104.52 1562.6,103.84 1567.1,103.12 1571.61,102.37 1576.14,101.59 1580.67,100.78 1585.22,99.98 1589.77,99.17 1594.34,98.38 1598.92,97.61 1603.51,96.88 1608.12,96.19 1612.75,95.56 1617.39,95.01 1621.92,94.51 1626.45,94.01 1630.99,93.51 1635.54,93.04 1640.1,92.57 1644.67,92.13 1649.25,91.72 1653.84,91.34 1658.44,90.99 1663.05,90.69 1667.67,90.43 1672.3,90.22 1676.95,90.07 1681.6,89.98 1686.26,89.97 1690.9,90.01 1695.54,90.12 1700.17,90.28 1704.79,90.48 1709.4,90.72 1714.01,90.98 1718.6,91.27 1723.19,91.57 1727.77,91.88 1732.34,92.19 1736.9,92.44 1741.46,92.64 1746.02,92.8 1750.74,93.04 1755.43,93.38 1760.11,93.79 1764.78,94.23 1769.43,94.72 1774.06,95.25 1778.67,95.82 1783.26,96.44 1787.81,97.12 1792.34,97.84 1796.84,98.58 1801.31,99.29 1805.77,99.97 1810.29,100.63 1814.87,101.31 1819.43,102 1823.99,102.7 1828.54,103.4 1833.07,104.1 1837.6,104.79 1842.11,105.48 1846.61,106.21 1851.08,106.95 1855.55,107.71 1860,108.47 1864.45,109.2 1868.88,109.9 1873.31,110.56 1877.73,111.15 1882.21,111.7 1886.72,112.25 1891.23,112.79 1895.74,113.33 1900.24,113.86 1904.75,114.37 1909.25,114.88 1913.75,115.36 1918.25,115.83 1922.75,116.29 1927.25,116.72 1931.74,117.14 1936.24,117.54 1940.73,117.91 1945.22,118.27 1949.72,118.59 1954.21,118.9 1953.79,133.1 1949.2,133.11 1944.62,133.09 1940.03,133.04 1935.44,132.98 1930.86,132.88 1926.27,132.77 1921.69,132.64 1917.11,132.49 1912.53,132.32 1907.95,132.14 1903.37,131.95 1898.8,131.74 1894.22,131.52 1889.65,131.29 1885.08,131.05 1880.51,130.79 1875.91,130.52 1871.25,130.21 1866.6,129.87 1861.95,129.5 1857.32,129.08 1852.69,128.62 1848.08,128.12 1843.47,127.55 1838.89,126.93 1834.32,126.24 1829.77,125.54 1825.22,124.84 1820.69,124.14 1816.17,123.45 1811.65,122.77 1807.15,122.1 1802.59,121.44 1797.97,120.73 1793.36,120 1788.78,119.25 1784.23,118.46 1779.7,117.6 1775.21,116.7 1770.74,115.79 1766.29,114.87 1761.86,113.97 1757.45,113.12 1753.05,112.32 1748.66,111.59 1744.3,110.88 1739.78,110.19 1735.26,109.52 1730.74,108.9 1726.23,108.35 1721.73,107.82 1717.24,107.33 1712.75,106.87 1708.28,106.45 1703.81,106.08 1699.35,105.75 1694.9,105.48 1690.46,105.26 1686.02,105.1 1681.6,105.02 1677.17,105 1672.74,105.05 1668.29,105.17 1663.83,105.34 1659.36,105.57 1654.88,105.83 1650.39,106.14 1645.89,106.47 1641.38,106.82 1636.86,107.19 1632.33,107.57 1627.79,107.95 1623.24,108.32 1618.69,108.68 1614.25,109.06 1609.8,109.52 1605.33,110.03 1600.84,110.6 1596.34,111.21 1591.83,111.86 1587.3,112.55 1582.77,113.26 1578.22,113.99 1573.67,114.72 1569.1,115.46 1564.52,116.19 1559.94,116.89 1555.39,117.57 1550.87,118.25 1546.35,118.95 1541.82,119.66 1537.29,120.38 1532.75,121.1 1528.2,121.83 1523.65,122.54 1519.09,123.25 1514.53,123.93 1509.96,124.6 1505.38,125.24 1500.8,125.85 1496.21,126.42 1491.61,126.95 1487,127.44 1482.43,127.88 1477.88,128.3 1473.33,128.72 1468.78,129.13 1464.23,129.53 1459.67,129.92 1455.11,130.3 1450.55,130.66 1445.99,131.01 1441.42,131.34 1436.86,131.66 1432.29,131.95 1427.72,132.23 1423.14,132.48 1418.57,132.71 1413.99,132.92 1409.41,133.1ZM1408.88,112.01 1415.17,111.8 1416.12,139.78 1409.83,139.99ZM1420.91,111.56 1427.2,111.25 1428.56,139.22 1422.26,139.52ZM1432.97,110.93 1439.26,110.55 1440.96,138.5 1434.67,138.88ZM1445.06,110.16 1451.34,109.72 1453.33,137.65 1447.05,138.09ZM1457.17,109.27 1463.45,108.77 1465.68,136.68 1459.4,137.18ZM1469.32,108.28 1475.6,107.74 1478,135.64 1471.72,136.18ZM1481.46,107.23 1487.73,106.65 1490.32,134.53 1484.05,135.11ZM1493.34,106.05 1499.59,105.3 1502.91,133.1 1496.65,133.85ZM1505.32,104.56 1511.56,103.69 1515.39,131.43 1509.15,132.29ZM1517.39,102.84 1523.62,101.91 1527.78,129.6 1521.55,130.53ZM1529.57,101 1535.79,100.04 1540.07,127.71 1533.84,128.67ZM1541.84,99.1 1548.07,98.16 1552.26,125.84 1546.03,126.79ZM1554.11,97.28 1560.34,96.36 1564.45,124.05 1558.22,124.98ZM1566.12,95.43 1572.34,94.41 1576.9,122.03 1570.69,123.06ZM1578.33,93.39 1584.54,92.35 1589.16,119.97 1582.95,121.01ZM1590.72,91.34 1596.95,90.38 1601.23,118.05 1595.01,119.01ZM1603.31,89.46 1609.56,88.66 1613.11,116.44 1606.86,117.24ZM1615.99,87.98 1622.26,87.38 1624.9,115.26 1618.62,115.85ZM1628.21,86.81 1634.49,86.21 1637.13,114.09 1630.86,114.68ZM1640.57,85.65 1646.85,85.12 1649.24,113.01 1642.96,113.55ZM1653.06,84.63 1659.35,84.21 1661.21,112.15 1654.92,112.57ZM1665.69,83.87 1671.98,83.63 1673.05,111.61 1666.75,111.85ZM1678.45,83.5 1684.75,83.5 1684.75,111.5 1678.45,111.5ZM1691.22,83.63 1697.51,83.87 1696.45,111.85 1690.15,111.61ZM1703.85,84.21 1710.14,84.63 1708.28,112.57 1701.99,112.15ZM1716.35,85.12 1722.63,85.65 1720.24,113.55 1713.96,113.01ZM1728.71,86.21 1734.99,86.81 1732.34,114.68 1726.07,114.09ZM1740.94,87.38 1747.21,87.98 1744.58,115.85 1738.3,115.26ZM1753.64,88.66 1759.89,89.46 1756.34,117.24 1750.09,116.44ZM1766.25,90.38 1772.48,91.34 1768.19,119.01 1761.97,118.05ZM1778.66,92.35 1784.87,93.39 1780.25,121.01 1774.04,119.97ZM1790.86,94.41 1797.08,95.43 1792.51,123.06 1786.3,122.03ZM1802.86,96.36 1809.09,97.28 1804.98,124.98 1798.75,124.05ZM1815.13,98.16 1821.36,99.1 1817.17,126.79 1810.94,125.84ZM1827.41,100.04 1833.63,101 1829.36,128.67 1823.13,127.71ZM1839.58,101.91 1845.81,102.84 1841.65,130.53 1835.42,129.6ZM1851.64,103.69 1857.88,104.56 1854.05,132.29 1847.81,131.43ZM1863.61,105.3 1869.86,106.05 1866.55,133.85 1860.29,133.1ZM1875.47,106.65 1881.74,107.23 1879.15,135.11 1872.88,134.53ZM1887.6,107.74 1893.88,108.28 1891.48,136.18 1885.2,135.64ZM1899.75,108.77 1906.03,109.27 1903.8,137.18 1897.52,136.68ZM1911.86,109.72 1918.14,110.16 1916.15,138.09 1909.87,137.65ZM1923.94,110.55 1930.23,110.93 1928.53,138.88 1922.24,138.5ZM1936,111.25 1942.29,111.56 1940.94,139.52 1934.64,139.22ZM1948.03,111.8 1954.32,112.01 1953.37,139.99 1947.08,139.78Z"/>
<defs><filter id="jet" x="0" y="0" width="100%" height="100%" filterUnits="objectBoundingBox" color-interpolation-filters="sRGB">
<feGaussianBlur stdDeviation="1.5 3"/>
<feComponentTransfer><feFuncR type="table" tableValues="0 0 0 0 1 1 1"/><feFuncG type="table" tableValues="0 0 1 1 1 0 0"/><feFuncB type="table" tableValues="0.5 0.5 1 0.5 0.5 0 0"/><feFuncA type="linear" slope="0" intercept="1"/></feComponentTransfer></filter>
<clipPath id="cd"><rect x="88.4" y="225" width="558.85" height="137.1"/></clipPath>
<clipPath id="cg"><rect x="88.4" y="370.3" width="558.85" height="137.5"/></clipPath>
<clipPath id="ce"><rect x="745.1" y="225" width="559.65" height="137.9"/></clipPath>
<clipPath id="ch"><rect x="745.1" y="370.6" width="559.65" height="137.2"/></clipPath>
<clipPath id="cf"><rect x="1404.75" y="223.1" width="559" height="137.9"/></clipPath>
<clipPath id="ci"><rect x="1404.75" y="370.3" width="559" height="137.5"/></clipPath>
<radialGradient id="p1"><stop offset="0" stop-color="#fff" stop-opacity="1"/><stop offset=".1" stop-color="#fff" stop-opacity=".99"/><stop offset=".2" stop-color="#fff" stop-opacity=".95"/><stop offset=".3" stop-color="#fff" stop-opacity=".89"/><stop offset=".4" stop-color="#fff" stop-opacity=".81"/><stop offset=".5" stop-color="#fff" stop-opacity=".71"/><stop offset=".6" stop-color="#fff" stop-opacity=".59"/><stop offset=".7" stop-color="#fff" stop-opacity=".45"/><stop offset=".8" stop-color="#fff" stop-opacity=".31"/><stop offset=".9" stop-color="#fff" stop-opacity=".16"/><stop offset="1" stop-color="#fff" stop-opacity="0"/></radialGradient><radialGradient id="n1"><stop offset="0" stop-color="#000" stop-opacity="1"/><stop offset=".1" stop-color="#000" stop-opacity=".99"/><stop offset=".2" stop-color="#000" stop-opacity=".95"/><stop offset=".3" stop-color="#000" stop-opacity=".89"/><stop offset=".4" stop-color="#000" stop-opacity=".81"/><stop offset=".5" stop-color="#000" stop-opacity=".71"/><stop offset=".6" stop-color="#000" stop-opacity=".59"/><stop offset=".7" stop-color="#000" stop-opacity=".45"/><stop offset=".8" stop-color="#000" stop-opacity=".31"/><stop offset=".9" stop-color="#000" stop-opacity=".16"/><stop offset="1" stop-color="#000" stop-opacity="0"/></radialGradient><radialGradient id="p2"><stop offset="0" stop-color="#fff" stop-opacity="1"/><stop offset=".3" stop-color="#fff" stop-opacity="1"/><stop offset=".4" stop-color="#fff" stop-opacity=".97"/><stop offset=".5" stop-color="#fff" stop-opacity=".85"/><stop offset=".6" stop-color="#fff" stop-opacity=".71"/><stop offset=".7" stop-color="#fff" stop-opacity=".54"/><stop offset=".8" stop-color="#fff" stop-opacity=".37"/><stop offset=".9" stop-color="#fff" stop-opacity=".19"/><stop offset="1" stop-color="#fff" stop-opacity="0"/></radialGradient><radialGradient id="n2"><stop offset="0" stop-color="#000" stop-opacity="1"/><stop offset=".3" stop-color="#000" stop-opacity="1"/><stop offset=".4" stop-color="#000" stop-opacity=".97"/><stop offset=".5" stop-color="#000" stop-opacity=".85"/><stop offset=".6" stop-color="#000" stop-opacity=".71"/><stop offset=".7" stop-color="#000" stop-opacity=".54"/><stop offset=".8" stop-color="#000" stop-opacity=".37"/><stop offset=".9" stop-color="#000" stop-opacity=".19"/><stop offset="1" stop-color="#000" stop-opacity="0"/></radialGradient><radialGradient id="p3"><stop offset="0" stop-color="#fff" stop-opacity="1"/><stop offset=".5" stop-color="#fff" stop-opacity="1"/><stop offset=".6" stop-color="#fff" stop-opacity=".88"/><stop offset=".7" stop-color="#fff" stop-opacity=".68"/><stop offset=".8" stop-color="#fff" stop-opacity=".46"/><stop offset=".9" stop-color="#fff" stop-opacity=".23"/><stop offset="1" stop-color="#fff" stop-opacity="0"/></radialGradient><radialGradient id="n3"><stop offset="0" stop-color="#000" stop-opacity="1"/><stop offset=".5" stop-color="#000" stop-opacity="1"/><stop offset=".6" stop-color="#000" stop-opacity=".88"/><stop offset=".7" stop-color="#000" stop-opacity=".68"/><stop offset=".8" stop-color="#000" stop-opacity=".46"/><stop offset=".9" stop-color="#000" stop-opacity=".23"/><stop offset="1" stop-color="#000" stop-opacity="0"/></radialGradient><radialGradient id="p4"><stop offset="0" stop-color="#fff" stop-opacity="1"/><stop offset=".6" stop-color="#fff" stop-opacity="1"/><stop offset=".7" stop-color="#fff" stop-opacity=".82"/><stop offset=".8" stop-color="#fff" stop-opacity=".56"/><stop offset=".9" stop-color="#fff" stop-opacity=".28"/><stop offset="1" stop-color="#fff" stop-opacity="0"/></radialGradient><radialGradient id="n4"><stop offset="0" stop-color="#000" stop-opacity="1"/><stop offset=".6" stop-color="#000" stop-opacity="1"/><stop offset=".7" stop-color="#000" stop-opacity=".82"/><stop offset=".8" stop-color="#000" stop-opacity=".56"/><stop offset=".9" stop-color="#000" stop-opacity=".28"/><stop offset="1" stop-color="#000" stop-opacity="0"/></radialGradient>
<filter id="bb" x="-5%" y="-10%" width="110%" height="120%"><feGaussianBlur stdDeviation="0.8 3.5"/></filter>
</defs>
<g clip-path="url(#cd)"><g filter="url(#jet)">
<rect x="68.4" y="205" width="598.85" height="177.1" fill="#808080"/>
<g class="bg"><path class="w" opacity=".04" d="M76 271L76 275L77 283L77 291L77 295M79 359L79 363M102 219L103 227L105 231M108 311L109 315L109 323L109 327M133 219L133 227L134 231M135 255L134 259L134 263M138 319L138 323L138 327M138 351L139 355L139 363M164 255L164 259L164 263M190 219L191 227L192 231M192 263L191 267L192 271M219 219L219 227L221 231M249 219L249 223M251 279L251 283L252 287M280 263L281 267L281 275L281 283L281 287M306 219L306 223M309 263L310 267L310 271M313 359L312 363M364 219L364 223M367 263L367 267L367 271M392 219L392 227L392 231M429 219L430 223M485 335L487 339L487 343M470 219L473 227L475 231M508 319L510 323L511 327M501 219L502 223M528 295L529 299L530 303M543 335L544 339L546 343M535 219L537 227L538 231M570 327L571 331L574 339L576 347L575 351M580 219L582 227L583 235L584 239M603 343L604 347L604 351M621 219L622 227L622 235L622 243L623 251L623 255M631 335L631 339L632 343M654 219L655 227L656 235L656 239"/><path class="w" opacity=".08" d="M73 219L73 223M75 263L75 267L76 271M77 295L76 299L76 303M80 351L80 355L79 359M106 287L106 291L107 299L108 307L108 311M108 351L109 355L109 363M135 279L135 283L136 287M138 327L138 331L138 335M138 343L138 347L138 351M164 263L164 267L165 271M193 255L192 259L192 263M194 295L194 299L195 307L195 315L195 319M223 271L223 275L222 283L223 291L223 299L224 303M226 335L226 339L226 347L225 355L225 359M249 223L250 227L251 231M253 295L253 299L254 307L254 315L254 323L254 331L254 335M278 219L277 227L278 231M278 239L278 243L279 251L280 259L280 263M281 303L281 307L282 315L282 323L283 331L284 335M306 223L306 227L306 231M310 279L310 283L310 287M313 351L313 355L313 359M336 219L336 223M339 263L339 267L339 271M343 343L343 347L342 355L342 363M364 223L364 227L364 231M367 279L367 283L366 287M394 263L394 267L395 275L394 279M400 359L400 363M415 219L415 223M430 223L430 227L431 231M448 303L448 307L449 311M445 219L448 227L449 231M461 263L463 267L464 271M476 311L478 315L479 319M488 351L488 355L487 363M475 231L477 235L479 239M505 311L507 315L508 319M502 223L503 227L504 231M523 279L524 283L527 291L528 295M530 303L532 307L533 311M536 319L538 323L539 327M538 231L539 235L541 239M559 295L560 299L562 303M584 239L585 243L585 247M623 255L623 259L624 263M656 239L657 243L657 247"/><path class="w" opacity=".12" d="M73 223L73 227L73 231M74 255L74 259L75 263M76 303L76 307L76 311M79 335L79 339L80 347L80 351M105 231L106 235L107 239M105 279L105 283L106 287M109 327L109 331L109 335M134 231L135 235L136 239M134 263L134 267L135 275L135 279M136 287L136 291L136 295M137 311L138 315L138 319M138 335L138 339L138 343M162 219L162 223M165 247L165 251L164 255M165 271L165 275L166 283L166 291L166 295M192 231L193 235L194 239M195 319L195 323L195 327M196 359L196 363M221 231L222 235L223 239M225 255L223 259L223 263M224 303L224 307L224 311M226 327L226 331L226 335M225 359L225 363M254 255L252 259L251 263M252 287L252 291L253 295M254 335L254 339L254 343M278 231L278 235L278 239M284 335L284 339L284 343M284 351L284 355L284 363M306 231L307 235L307 239M308 247L308 251L309 259L309 263M310 287L310 291L310 295M313 343L313 347L313 351M336 223L336 227L336 231M339 279L338 283L337 287M371 359L371 363M392 231L392 235L393 239M399 351L400 355L400 359M415 223L416 227L416 231M418 255L418 259L418 263M437 255L439 259L440 263M442 271L443 275L445 283L446 287M447 295L447 299L448 303M454 327L456 331L456 335M449 231L451 235L454 243L455 247M457 255L458 259L461 263M464 271L465 275L467 283L468 287M487 343L488 347L488 351M502 303L503 307L505 311M516 263L518 267L521 275L523 279M533 311L534 315L536 319M541 239L542 243L545 251L548 259L551 267L554 275L556 283L558 291L559 295M562 303L565 307L566 315L568 323L570 327M585 247L586 251L586 255M602 335L602 339L603 343M624 263L624 267L625 271M629 327L630 331L631 335M633 351L633 355L633 359M657 247L658 251L658 255M658 279L658 283L659 291L659 299L660 303M662 351L662 355L662 359"/><path class="w" opacity=".16" d="M73 247L73 251L74 255M76 311L77 315L77 323L78 331L79 335M107 239L108 243L107 247M105 271L105 275L105 279M108 343L108 347L108 351M136 239L137 243L137 247M136 295L136 299L137 307L137 311M162 223L162 227L163 231M165 239L166 243L165 247M166 295L167 299L167 307L167 311M168 359L168 363M194 239L195 243L194 251L193 255M192 271L192 275L192 279M193 287L194 291L194 295M195 327L195 331L195 335M196 351L196 355L196 359M223 239L225 243L227 251L225 255M224 311L225 315L226 323L226 327M251 231L252 235L255 243L257 251L254 255M254 343L254 347L255 355L255 363M281 287L281 291L281 299L281 303M284 343L285 347L284 351M307 239L307 243L308 247M310 295L310 299L311 307L312 315L312 323L312 327M313 335L313 339L313 343M337 287L336 291L336 295M341 311L341 315L341 319M343 335L343 339L343 343M364 231L364 235L365 239M366 247L367 251L367 259L367 263M366 287L365 291L365 299L368 307L370 315L370 319M371 351L371 355L371 359M394 247L395 251L394 259L394 263M394 279L394 283L393 291L395 299L398 307L399 315L398 319M417 247L417 251L418 255M418 263L419 267L419 271M421 287L422 291L422 295M427 311L428 315L427 323L426 331L426 335M446 287L447 291L447 295M458 359L458 363M455 247L456 251L457 255M479 319L481 323L482 327M479 239L482 243L484 251L484 255M498 295L500 299L502 303M504 231L505 235L507 239M586 255L587 259L588 267L589 271M595 295L596 299L597 307L597 315L599 323L600 327M625 271L626 275L626 279M627 303L626 307L627 315L629 323L629 327M658 255L658 259L659 267L658 275L658 279M663 343L662 347L662 351M662 359L662 363"/><path class="w" opacity=".2" d="M73 231L73 235L73 243L73 247M107 247L107 251L106 255M105 263L105 267L105 271M109 335L108 339L108 343M137 247L136 251L135 255M167 311L167 315L166 319M165 327L164 331L166 335M195 335L195 339L195 347L196 351M312 327L313 331L313 335M336 231L336 235L337 239M338 247L338 251L339 259L339 263M336 295L336 299L338 303M365 239L366 243L366 247M370 319L370 323L370 327M371 343L372 347L371 351M393 239L394 243L394 247M399 343L399 347L399 351M416 231L417 235L417 243L417 247M424 303L426 307L427 311M426 335L427 339L427 343M431 231L432 235L433 239M440 263L441 267L442 271M449 311L450 315L452 319M458 351L458 355L458 359M468 287L469 291L471 295M473 303L475 307L476 311M484 255L485 259L487 263M495 287L496 291L498 295M507 239L508 243L511 251L515 259L516 263M546 359L546 363M575 351L575 355L575 359M589 271L590 275L592 283L594 291L595 295M626 279L627 283L628 287M633 359L633 363M660 303L660 307L661 311"/><path class="w" opacity=".24" d="M106 255L105 259L105 263M163 231L164 235L165 239M166 319L166 323L165 327M169 351L169 355L168 359M192 279L193 283L193 287M337 239L337 243L338 247M341 319L342 323L343 331L343 335M370 327L370 331L371 339L371 343M398 319L398 323L398 327M398 335L398 339L399 343M419 271L420 275L421 283L421 287M422 295L423 299L424 303M429 359L429 363M452 319L453 323L454 327M471 295L472 299L473 303M487 263L489 267L491 275L494 283L495 287M516 343L517 347L516 355L516 363M547 351L547 355L546 359M575 359L575 363M600 327L601 331L602 335M604 351L605 355L605 359M628 295L628 299L627 303M663 335L663 339L663 343"/><path class="w" opacity=".28" d="M166 335L168 339L169 347L169 351M338 303L340 307L341 311M398 327L397 331L398 335M427 343L428 347L428 355L429 359M433 239L434 243L435 247M456 335L457 339L459 347L458 351M546 343L547 347L547 351M605 359L605 363M628 287L628 291L628 295M661 311L661 315L662 323L663 331L663 335"/><path class="k" opacity=".04" d="M178 279L178 283L178 287M210 263L208 267L208 271M264 263L264 267L264 275L264 279M324 271L324 275L323 279M352 271L352 275L352 279M382 271L382 275L381 279M427 247L428 251L429 255M470 335L471 339L472 343M456 219L458 223M497 335L498 339L499 343M525 327L526 331L529 339L530 343M553 327L555 331L558 339L561 347L561 351M586 335L587 339L589 347L589 351M617 343L617 347L617 351M638 219L639 227L640 231M669 219L670 227L671 235L672 243L672 247"/><path class="k" opacity=".08" d="M117 219L117 223M147 219L147 223M205 219L205 223M233 219L233 223M262 219L263 227L263 231M264 255L264 259L264 263M264 279L265 283L265 287M296 271L296 275L297 283L297 287M320 219L320 227L320 231M350 219L351 227L351 231M382 263L382 267L382 271M423 219L423 223M435 219L436 223M461 311L462 315L464 319M458 223L459 227L461 231M480 287L482 291L483 295M556 219L558 227L559 231M583 327L584 331L586 335M605 247L606 251L606 255M640 231L640 235L640 243L640 247M672 247L673 251L673 255"/><path class="k" opacity=".12" d="M58 219L59 227L59 231M63 303L64 307L64 315L65 323L65 327M87 219L88 227L89 231M117 223L116 227L116 231M123 359L123 363M179 255L178 259L178 267L178 275L178 279M178 287L178 291L178 295M205 223L205 227L207 231M208 271L208 275L208 279M211 335L211 339L211 343M233 223L233 227L233 231M264 247L264 251L264 255M268 351L268 355L269 363M297 287L296 291L296 295M300 351L300 355L299 363M320 231L320 235L320 239M327 343L327 347L327 355L326 363M351 231L352 235L352 239M357 359L357 363M414 359L414 363M531 263L533 267L535 271M600 219L601 227L602 231M604 239L604 243L605 247M606 255L607 259L607 263M640 247L640 251L640 255M645 335L646 339L646 343M647 351L647 355L647 359M673 255L673 259L673 263M676 319L676 323L677 331L676 339L676 343"/><path class="k" opacity=".16" d="M59 231L60 235L61 243L61 251L62 255M62 295L63 299L63 303M65 327L65 331L65 335M65 359L65 363M92 239L93 243L92 247M120 287L120 291L120 295M123 351L123 355L123 359M147 223L147 227L148 231M154 343L154 347L154 351M175 219L175 223M212 255L212 259L210 263M211 327L211 331L211 335M240 359L239 363M265 287L266 291L266 295M293 219L293 227L293 231M293 239L293 243L294 247M296 295L296 299L296 303M323 279L322 283L320 291L321 295M325 311L326 315L326 319M355 311L355 315L355 319M378 219L378 223M381 247L381 251L381 255M381 279L381 283L380 287M384 311L385 315L385 319M404 219L404 223M409 247L410 251L409 255M408 287L407 291L408 295M413 311L413 315L413 319M414 351L414 355L414 359M423 223L424 227L424 231M429 255L430 259L431 263M434 279L434 283L435 291L435 299L436 303M439 311L442 315L442 319M443 359L443 363M436 223L437 227L438 231M442 247L442 251L443 255M492 319L493 323L494 327M484 219L485 223M504 271L505 275L506 279M517 219L518 223M528 255L530 259L531 263M535 271L536 275L538 279M561 351L561 355L561 359M559 231L560 235L561 239M566 263L568 267L570 275L573 283L575 291L578 299L581 307L581 315L582 319M602 231L603 235L604 239M612 311L612 315L613 319M640 255L640 259L640 263M673 263L673 267L673 271M676 311L676 315L676 319"/><path class="k" opacity=".2" d="M62 255L62 259L62 263M62 287L62 291L62 295M65 335L65 339L65 347L65 355L65 359M89 231L91 235L92 239M92 303L93 307L93 315L94 319M120 279L120 283L120 287M120 295L120 299L120 303M150 239L151 243L151 247M150 271L150 275L150 283L150 287M151 295L151 299L151 303M154 335L154 339L154 343M181 359L181 363M209 239L211 243L212 251L212 255M208 279L208 283L208 287M211 343L211 347L211 351M234 247L234 251L235 255M236 271L237 275L237 279M237 287L237 291L237 299L237 303M240 351L240 355L240 359M263 231L264 235L264 239M266 295L267 299L267 303M267 343L268 347L268 351M293 231L293 235L293 239M295 263L296 267L296 271M300 343L300 347L300 351M323 263L323 267L324 271M321 295L321 299L323 303M352 279L352 283L351 291L353 295M355 303L355 307L355 311M356 351L357 355L357 359M378 223L378 227L378 231M381 255L381 259L382 263M380 287L378 291L379 295M409 255L409 259L408 267L408 275L408 279M432 271L433 275L434 279M451 271L452 275L453 279M468 247L469 251L470 255M487 303L488 307L490 311M499 343L500 347L500 351M501 263L503 267L504 271M506 279L507 283L509 287M530 343L531 347L531 351M518 223L520 227L521 231M525 247L527 251L528 255M538 279L539 283L541 287M564 255L565 259L566 263M582 319L582 323L583 327M607 263L607 267L607 271M611 303L612 307L612 311M640 263L641 267L641 271M642 303L642 307L642 311M647 359L647 363M673 271L673 275L673 279M676 343L676 347L676 351"/><path class="k" opacity=".24" d="M62 263L62 267L62 275L62 283L62 287M91 295L92 299L92 303M94 319L94 323L94 327M120 303L120 307L120 311M150 287L151 291L151 295M153 327L153 331L154 335M154 351L153 355L153 359M178 239L180 243L180 251L179 255M178 295L178 299L179 303M207 231L208 235L209 239M208 287L208 291L209 295M211 319L211 323L211 327M237 303L237 307L237 311M267 303L267 307L267 311M296 303L296 307L297 311M327 335L327 339L327 343M352 239L352 243L352 247M353 295L355 299L355 303M379 295L379 299L381 303M385 359L385 363M404 223L405 227L405 231M408 279L408 283L408 287M414 343L414 347L414 351M453 279L454 283L455 287M458 295L461 299L460 303M472 343L473 347L472 351M461 231L462 235L467 243L468 247M483 295L485 299L487 303M490 311L491 315L492 319M485 223L486 227L488 231M509 287L510 291L512 295M523 239L524 243L525 247M561 359L561 363M561 239L562 243L564 251L564 255M613 319L615 323L615 327M642 311L643 315L644 319M645 327L645 331L645 335M673 279L673 283L673 287M675 303L675 307L676 311M676 351L676 355L676 363"/><path class="k" opacity=".28" d="M92 247L92 251L91 255M94 359L94 363M116 231L116 235L117 239M122 327L122 331L123 335M123 343L123 347L123 351M151 303L151 307L151 311M153 359L153 363M175 223L175 227L175 231M211 351L211 355L211 359M235 255L236 259L236 263M237 279L237 283L237 287M264 239L264 243L264 247M267 335L267 339L267 343M294 247L294 251L294 255M320 239L321 243L321 247M323 303L324 307L325 311M326 319L326 323L326 327M352 263L352 267L352 271M379 239L380 243L381 247M381 303L383 307L384 311M408 295L409 299L411 303M426 239L426 243L427 247M431 263L432 267L432 271M436 303L436 307L439 311M442 319L442 323L442 327M445 343L446 347L444 355L443 359M472 351L472 355L472 359M477 279L478 283L480 287M498 255L500 259L501 263M512 295L513 299L515 303M521 231L522 235L523 239M551 319L552 323L553 327M616 335L617 339L617 343M641 271L641 275L642 279M673 287L673 291L674 299L675 303"/><path class="k" opacity=".32" d="M91 287L91 291L91 295M94 327L94 331L94 335M118 247L120 251L119 255M148 231L149 235L150 239M151 247L151 251L150 255M179 303L179 307L180 311M181 351L181 355L181 359M209 295L209 299L210 303M210 311L211 315L211 319M211 359L211 363M233 231L233 235L233 239M237 311L237 315L237 319M240 343L240 347L240 351M267 311L267 315L267 323L267 331L267 335M299 335L299 339L300 343M355 319L355 323L355 327M356 343L356 347L356 351M386 351L385 355L385 359M407 239L408 243L409 247M411 303L412 307L413 311M443 255L445 259L450 267L451 271M455 287L456 291L458 295M460 303L460 307L461 311M464 319L465 323L467 327M515 303L516 307L518 311M522 319L523 323L525 327M530 359L530 363M541 287L542 291L543 295M589 351L589 355L590 359M607 271L608 275L608 279M610 295L611 299L611 303M617 351L617 355L617 359M644 319L645 323L645 327"/><path class="k" opacity=".36" d="M91 255L91 259L91 267L90 275L90 283L91 287M94 335L94 339L94 347L94 355L94 359M117 239L117 243L118 247M119 255L119 259L119 267L120 275L120 279M120 311L120 315L121 323L122 327M123 335L123 339L123 343M150 255L150 259L150 267L150 271M151 311L152 315L153 323L153 327M175 231L175 235L178 239M180 311L180 315L181 323L182 331L182 339L182 347L181 351M210 303L210 307L210 311M233 239L233 243L234 247M237 319L238 323L239 331L240 339L240 343M294 255L295 259L295 263M297 311L297 315L298 323L299 331L299 335M321 247L321 251L322 259L323 263M326 327L326 331L327 335M352 247L352 251L351 259L352 263M355 327L355 331L355 339L356 343M378 231L379 235L379 239M385 319L385 323L385 331L386 339L386 347L386 351M405 231L406 235L407 239M413 319L414 323L414 331L414 339L414 343M424 231L425 235L426 239M442 327L442 331L443 339L445 343M438 231L439 235L441 243L442 247M472 359L472 363M470 255L470 259L472 267L475 275L477 279M500 351L501 355L501 363M488 231L490 235L493 243L497 251L498 255M518 311L520 315L522 319M531 351L530 355L530 359M543 295L545 299L547 307L549 315L551 319M590 359L590 363M608 279L608 283L610 291L610 295M615 327L616 331L616 335M617 359L617 363M642 279L642 283L643 291L643 299L642 303"/></g><ellipse class="n1" cx="297.4" cy="247" rx="7" ry="10.5" opacity=".14"/><ellipse class="n1" cx="324.5" cy="247.6" rx="7" ry="10.5" opacity=".14"/><ellipse class="n1" cx="351.6" cy="248.2" rx="7" ry="10.5" opacity=".14"/><ellipse class="n1" cx="270.3" cy="246.4" rx="7" ry="10.5" opacity=".19"/><ellipse class="p1" cx="365.1" cy="248.5" rx="7" ry="10.5" opacity=".19"/><ellipse class="p1" cx="283.9" cy="246.7" rx="7" ry="10.5" opacity=".24"/><ellipse class="p1" cx="310.9" cy="247.3" rx="7" ry="10.5" opacity=".24"/><ellipse class="p1" cx="338" cy="247.9" rx="7" ry="10.5" opacity=".24"/><ellipse class="p1" cx="251.9" cy="308.7" rx="7" ry="11" opacity=".24"/><ellipse class="p1" cx="411.4" cy="270.2" rx="7" ry="11" opacity=".24" transform="rotate(-10 411.4 270.2)"/><ellipse class="p1" cx="168.3" cy="307.1" rx="7" ry="12" opacity=".29"/><ellipse class="n1" cx="141.8" cy="324.8" rx="7" ry="12" opacity=".29"/><ellipse class="p1" cx="160.3" cy="337.7" rx="7" ry="12" opacity=".29"/><ellipse class="p1" cx="247" cy="342.5" rx="7" ry="11" opacity=".29"/><ellipse class="p1" cx="368" cy="250.1" rx="7" ry="11" opacity=".29"/><ellipse class="n1" cx="381.7" cy="250.9" rx="7" ry="11" opacity=".29"/><ellipse class="n1" cx="398.5" cy="270.2" rx="7" ry="11" opacity=".29" transform="rotate(-10 398.5 270.2)"/><ellipse class="p1" cx="567.2" cy="310.4" rx="7.6" ry="11" opacity=".29"/><ellipse class="p1" cx="135.4" cy="298.3" rx="7" ry="12" opacity=".35"/><ellipse class="p1" cx="126.6" cy="321.6" rx="7" ry="12" opacity=".35"/><ellipse class="n1" cx="110.5" cy="320" rx="7" ry="12" opacity=".35"/><ellipse class="p1" cx="312.1" cy="315.2" rx="7" ry="11" opacity=".35"/><ellipse class="n1" cx="326.6" cy="316" rx="7" ry="11" opacity=".35"/><ellipse class="p1" cx="341" cy="316" rx="7" ry="11" opacity=".35"/><ellipse class="n1" cx="355.5" cy="314.4" rx="7" ry="11" opacity=".35"/><ellipse class="n1" cx="581.7" cy="311.2" rx="7.6" ry="11" opacity=".35"/><ellipse class="n1" cx="244.6" cy="255.7" rx="6" ry="10" opacity=".4" transform="rotate(-25 244.6 255.7)"/><ellipse class="p1" cx="259.9" cy="255.7" rx="6" ry="10" opacity=".4" transform="rotate(-25 259.9 255.7)"/><ellipse class="p1" cx="179.6" cy="281.4" rx="7" ry="13" opacity=".4"/><ellipse class="n1" cx="151.5" cy="301.5" rx="7" ry="12" opacity=".4"/><ellipse class="p1" cx="483.7" cy="249.3" rx="7" ry="11" opacity=".4"/><ellipse class="n1" cx="463.6" cy="293.5" rx="7" ry="11" opacity=".4" transform="rotate(-8 463.6 293.5)"/><ellipse class="p1" cx="478.8" cy="294.3" rx="7" ry="11" opacity=".4" transform="rotate(-8 478.8 294.3)"/><ellipse class="p1" cx="465.3" cy="332" rx="6.5" ry="11" opacity=".4" transform="rotate(-8 465.3 332)"/><ellipse class="p1" cx="495.6" cy="332" rx="6.5" ry="11" opacity=".4" transform="rotate(-8 495.6 332)"/><ellipse class="n1" cx="510.5" cy="332" rx="6.5" ry="11" opacity=".4" transform="rotate(-8 510.5 332)"/><ellipse class="p1" cx="525.3" cy="332" rx="6.5" ry="11" opacity=".4" transform="rotate(-8 525.3 332)"/><ellipse class="p1" cx="596.1" cy="311.2" rx="7.6" ry="11" opacity=".4"/><ellipse class="n1" cx="610.6" cy="311.2" rx="7.6" ry="11" opacity=".4"/><ellipse class="n1" cx="480.8" cy="332" rx="6.5" ry="11" opacity=".43" transform="rotate(-8 480.8 332)"/><ellipse class="n1" cx="540.5" cy="332.8" rx="6.5" ry="11" opacity=".43" transform="rotate(-8 540.5 332.8)"/><ellipse class="p1" cx="555.3" cy="333.6" rx="6.5" ry="11" opacity=".43" transform="rotate(-8 555.3 333.6)"/><ellipse class="p1" cx="256.4" cy="246.1" rx="7" ry="10.5" opacity=".46"/><ellipse class="p1" cx="207.7" cy="266.2" rx="7" ry="9.5" opacity=".46"/><ellipse class="p1" cx="396.1" cy="251.7" rx="7" ry="11" opacity=".46"/><ellipse class="p1" cx="455.6" cy="250.1" rx="7" ry="11" opacity=".46"/><ellipse class="n1" cx="470" cy="249.3" rx="7" ry="11" opacity=".46"/><ellipse class="n1" cx="435.5" cy="292.7" rx="7" ry="11" opacity=".46" transform="rotate(-8 435.5 292.7)"/><ellipse class="p1" cx="448.3" cy="292.7" rx="7" ry="11" opacity=".46" transform="rotate(-8 448.3 292.7)"/><ellipse class="n1" cx="569.8" cy="334.4" rx="6.5" ry="11" opacity=".46" transform="rotate(-8 569.8 334.4)"/><ellipse class="p1" cx="624.2" cy="311.2" rx="7.6" ry="11" opacity=".46"/><ellipse class="p1" cx="584.2" cy="335.3" rx="6.5" ry="11" opacity=".48" transform="rotate(-8 584.2 335.3)"/><ellipse class="n1" cx="193.2" cy="265.4" rx="7" ry="9.5" opacity=".51"/><ellipse class="n1" cx="347.4" cy="295.1" rx="6.5" ry="10" opacity=".51" transform="rotate(-12 347.4 295.1)"/><ellipse class="p1" cx="384.1" cy="272.6" rx="7" ry="11" opacity=".51" transform="rotate(-10 384.1 272.6)"/><ellipse class="n1" cx="376" cy="293.5" rx="7" ry="11" opacity=".51" transform="rotate(-8 376 293.5)"/><ellipse class="p1" cx="391.3" cy="292.7" rx="7" ry="11" opacity=".51" transform="rotate(-8 391.3 292.7)"/><ellipse class="n1" cx="406.2" cy="292.7" rx="7" ry="11" opacity=".51" transform="rotate(-8 406.2 292.7)"/><ellipse class="p1" cx="421" cy="292.7" rx="7" ry="11" opacity=".51" transform="rotate(-8 421 292.7)"/><ellipse class="p1" cx="370.4" cy="315.2" rx="7" ry="11" opacity=".51" transform="rotate(-8 370.4 315.2)"/><ellipse class="n1" cx="385.7" cy="314.4" rx="7" ry="11" opacity=".51" transform="rotate(-8 385.7 314.4)"/><ellipse class="p1" cx="400.1" cy="314.4" rx="7" ry="11" opacity=".51" transform="rotate(-8 400.1 314.4)"/><ellipse class="n1" cx="474.8" cy="320" rx="7" ry="13" opacity=".51" transform="rotate(-10 474.8 320)"/><ellipse class="p1" cx="435.5" cy="334.4" rx="6.5" ry="11" opacity=".51" transform="rotate(-20 435.5 334.4)"/><ellipse class="n1" cx="639.5" cy="309.6" rx="7.6" ry="11" opacity=".51"/><ellipse class="n1" cx="410.6" cy="251.7" rx="7" ry="11" opacity=".55"/><ellipse class="n1" cx="182.7" cy="245" rx="7" ry="10.5" opacity=".6"/><ellipse class="n1" cx="241.6" cy="245.9" rx="7" ry="10.5" opacity=".6"/><ellipse class="n1" cx="130.1" cy="256.5" rx="7" ry="9.5" opacity=".6"/><ellipse class="n1" cx="221.3" cy="266.7" rx="7" ry="9.5" opacity=".6"/><ellipse class="n1" cx="214.9" cy="256.5" rx="6" ry="10" opacity=".6" transform="rotate(-25 214.9 256.5)"/><ellipse class="n1" cx="253.5" cy="277.4" rx="7" ry="9.5" opacity=".6"/><ellipse class="p1" cx="300" cy="286.3" rx="6.5" ry="10" opacity=".6" transform="rotate(-12 300 286.3)"/><ellipse class="n1" cx="317.7" cy="292.7" rx="6.5" ry="10" opacity=".6" transform="rotate(-12 317.7 292.7)"/><ellipse class="p1" cx="333" cy="294.3" rx="6.5" ry="10" opacity=".6" transform="rotate(-12 333 294.3)"/><ellipse class="p1" cx="425.8" cy="251.7" rx="7" ry="11" opacity=".6"/><ellipse class="n1" cx="441.1" cy="250.9" rx="7" ry="11" opacity=".6"/><ellipse class="n1" cx="369.6" cy="271.8" rx="7" ry="11" opacity=".6" transform="rotate(-10 369.6 271.8)"/><ellipse class="n1" cx="413.8" cy="314.4" rx="7" ry="11" opacity=".6" transform="rotate(-8 413.8 314.4)"/><ellipse class="n1" cx="368" cy="275" rx="7" ry="10" opacity=".63"/><ellipse class="p1" cx="361.9" cy="294.3" rx="6.5" ry="10" opacity=".63" transform="rotate(-12 361.9 294.3)"/><ellipse class="p1" cx="429.8" cy="315.2" rx="7" ry="13" opacity=".63" transform="rotate(-10 429.8 315.2)"/><ellipse class="p1" cx="459.9" cy="316.8" rx="7" ry="13" opacity=".63" transform="rotate(-10 459.9 316.8)"/><ellipse class="n1" cx="450.7" cy="337.7" rx="6.5" ry="11" opacity=".63" transform="rotate(-20 450.7 337.7)"/><ellipse class="p1" cx="197.5" cy="245.2" rx="7" ry="10.5" opacity=".66"/><ellipse class="p1" cx="177.2" cy="262.2" rx="7" ry="12" opacity=".66" transform="rotate(-14 177.2 262.2)"/><ellipse class="p1" cx="325.8" cy="273.4" rx="7" ry="10" opacity=".66"/><ellipse class="n1" cx="340.2" cy="274.2" rx="7" ry="10" opacity=".66"/><ellipse class="p1" cx="354.7" cy="274.2" rx="7" ry="10" opacity=".66"/><ellipse class="p1" cx="230.2" cy="256.5" rx="6" ry="10" opacity=".66" transform="rotate(-25 230.2 256.5)"/><ellipse class="p1" cx="268.7" cy="278.2" rx="7" ry="9.5" opacity=".66"/><ellipse class="p1" cx="226.9" cy="245.7" rx="7" ry="10.5" opacity=".69"/><ellipse class="n1" cx="444.8" cy="316.8" rx="7" ry="13" opacity=".69" transform="rotate(-10 444.8 316.8)"/><ellipse class="p1" cx="145" cy="258.9" rx="7" ry="9.5" opacity=".72"/><ellipse class="p1" cx="235.8" cy="267" rx="7" ry="9.5" opacity=".72"/><ellipse class="n1" cx="284" cy="279.8" rx="7" ry="9.5" opacity=".72"/><ellipse class="p1" cx="466.3" cy="341.7" rx="7.6" ry="9.5" opacity=".72"/><ellipse class="p1" cx="496.5" cy="341.7" rx="7.6" ry="9.5" opacity=".72"/><ellipse class="n1" cx="511.5" cy="341.7" rx="7.6" ry="9.5" opacity=".72"/><ellipse class="p1" cx="526.2" cy="341.7" rx="7.6" ry="9.5" opacity=".72"/><ellipse class="p1" cx="168" cy="244.8" rx="7" ry="10.5" opacity=".76"/><ellipse class="n1" cx="481.7" cy="341.7" rx="7.6" ry="9.5" opacity=".76"/><ellipse class="n1" cx="541.5" cy="342.5" rx="7.6" ry="9.5" opacity=".76"/><ellipse class="p1" cx="556.3" cy="343.3" rx="7.6" ry="9.5" opacity=".76"/><ellipse class="n1" cx="251.1" cy="267.8" rx="7" ry="11.5" opacity=".79" transform="rotate(-8 251.1 267.8)"/><ellipse class="n1" cx="570.7" cy="344.1" rx="7.6" ry="9.5" opacity=".79"/><ellipse class="n1" cx="161.1" cy="260.6" rx="7" ry="12" opacity=".83" transform="rotate(-14 161.1 260.6)"/><ellipse class="p1" cx="585.2" cy="344.9" rx="7.6" ry="9.5" opacity=".83"/><ellipse class="n1" cx="600.1" cy="345.4" rx="7.6" ry="9.5" opacity=".83"/><ellipse class="n1" cx="212.2" cy="245.4" rx="7" ry="10.5" opacity=".87"/><ellipse class="p1" cx="266.3" cy="269.4" rx="7" ry="11.5" opacity=".87" transform="rotate(-8 266.3 269.4)"/><ellipse class="p1" cx="614.6" cy="345.7" rx="7.6" ry="9.5" opacity=".87"/><ellipse class="n1" cx="629" cy="345.7" rx="7.6" ry="9.5" opacity=".87"/><ellipse class="p1" cx="644" cy="346" rx="7.6" ry="9.5" opacity=".87"/><ellipse class="n1" cx="311.3" cy="272.6" rx="7" ry="11.5" opacity=".91" transform="rotate(-8 311.3 272.6)"/><ellipse class="n2" cx="153.3" cy="244.6" rx="7" ry="10.5"/><ellipse class="n2" cx="280.8" cy="270.2" rx="7" ry="11.5" transform="rotate(-8 280.8 270.2)"/><ellipse class="p2" cx="296" cy="271.8" rx="7" ry="11.5" transform="rotate(-8 296 271.8)"/><ellipse class="p2" cx="109.1" cy="243.9" rx="7.6" ry="10.5"/><ellipse class="n2" cx="123.9" cy="244.1" rx="7.6" ry="10.5"/><ellipse class="p2" cx="138.6" cy="244.3" rx="7.6" ry="10.5"/><ellipse class="n3" cx="94.4" cy="243.7" rx="7.6" ry="10.5"/>
</g></g>
<g clip-path="url(#cg)"><g filter="url(#jet)">
<rect x="68.4" y="350.3" width="598.85" height="177.5" fill="#808080"/>
<g class="bg"><path class="w" opacity=".04" d="M80 364L81 372L81 376M139 364L138 372L138 376M138 384L138 388L138 392M138 400L138 404L139 408M196 364L197 372L197 380L197 384M255 364L255 372L254 380L254 384M254 456L254 460L254 464M284 364L284 368M284 448L285 452L285 460L284 464M284 488L283 492L283 496M314 364L314 368M313 456L313 460L313 464M344 364L344 372L344 376M342 392L342 396L342 404L342 408M342 456L341 460L341 464M431 456L430 460L430 464M458 456L458 460L458 464M512 364L511 368M495 424L494 428L493 436L492 440M516 456L515 460L515 464M548 364L548 368M549 376L549 380L549 384M574 364L574 372L574 380L575 388L575 392M602 364L602 372L602 380L603 384M602 440L602 444L602 448M629 364L630 372L630 376M629 440L629 444L629 452L629 456M630 472L630 476L629 484L629 488M659 504L659 508"/><path class="w" opacity=".08" d="M80 424L80 428L80 436L80 440M110 364L110 368M109 416L109 420L110 428L110 432M138 376L138 380L138 384M168 364L168 368M167 464L167 468L167 472M167 480L167 484L167 488M197 384L198 388L197 396L197 404L197 408M197 456L198 460L197 464M196 504L196 508M227 364L227 372L227 380L226 388L226 392M254 384L254 388L254 392M254 448L254 452L254 456M284 368L284 372L284 376M313 448L313 452L313 456M314 504L314 508M344 376L343 380L343 388L342 392M342 408L343 412L343 416M342 448L342 452L342 456M344 504L343 508M379 364L378 372L378 380L376 388L375 396L374 404L374 408M419 364L418 368M456 364L454 372L453 376M440 416L439 420L438 424M485 364L484 368M511 368L510 372L509 376M488 456L487 460L487 464M530 364L530 368M525 400L525 404L523 412L522 416M548 368L548 372L549 376M549 384L549 388L548 392M603 384L603 388L603 392M602 448L602 452L602 456M630 376L630 380L630 384M659 364L659 372L658 376M658 400L659 404L659 412L659 420L659 428L659 432M659 496L659 500L659 504"/><path class="w" opacity=".12" d="M81 376L81 380L81 384M80 416L80 420L80 424M80 440L81 444L81 448M110 368L110 372L110 376M109 408L109 412L109 416M110 432L110 436L110 444L110 448M139 408L139 412L139 416M138 472L139 476L139 484L139 488M138 496L138 500L138 508M168 368L168 372L168 376M167 392L167 396L167 404L167 408M197 408L196 412L196 420L196 424M197 440L197 444L197 448M197 472L197 476L196 480M195 496L195 500L196 504M227 440L227 444L227 448M225 496L225 500L227 508M254 392L253 396L253 400M254 464L254 468L255 472M284 440L284 444L284 448M284 464L284 468L284 472M283 496L283 500L284 504M314 368L313 372L313 376M312 408L312 412L313 420L313 428L313 432M313 440L314 444L313 448M343 416L343 420L343 424M341 464L341 468L340 472M342 480L344 484L345 488M346 496L345 500L344 504M374 408L374 412L373 420L373 424M370 472L370 476L370 480M371 504L371 508M418 368L418 372L417 376M409 416L408 420L406 428L402 436L400 440M399 456L400 460L400 464M443 408L442 412L440 416M438 424L437 428L436 432M433 448L432 452L431 456M484 368L483 372L480 380L478 388L476 396L474 404L471 408M460 448L459 452L458 456M458 464L458 468L459 472M500 408L498 412L496 420L495 424M490 448L489 452L488 456M485 488L485 492L486 500L487 504M520 424L519 428L518 432M517 448L516 452L516 456M515 464L515 468L513 472M573 440L574 444L574 448M601 424L601 428L601 436L602 440M630 384L630 388L630 392M629 456L628 460L630 468L630 472M658 392L658 396L658 400M659 432L659 436L659 440M659 488L659 492L659 496"/><path class="w" opacity=".16" d="M81 448L81 452L81 456M80 480L80 484L80 492L80 496M110 448L110 452L110 456M109 488L110 492L110 500L110 508M139 416L140 420L140 428L140 436L139 440M138 448L138 452L138 460L138 468L138 472M139 488L138 492L138 496M168 376L168 380L168 388L167 392M167 408L168 412L169 416M170 424L171 428L170 432M168 456L167 460L167 464M167 488L166 492L167 496M196 424L196 428L196 432M196 480L195 484L194 492L195 496M226 392L226 396L226 400M227 432L227 436L227 440M227 448L226 452L226 456M227 480L227 484L225 492L225 496M253 400L253 404L253 412L254 420L254 424M255 472L256 476L255 484L250 492L252 500L255 508M284 376L285 380L285 384M284 400L284 404L282 412L280 420L282 428L284 436L284 440M284 472L284 476L284 484L284 488M313 376L312 380L311 388L312 392M312 400L312 404L312 408M313 432L313 436L313 440M313 464L312 468L312 472M312 480L312 484L312 488M313 496L313 500L314 504M343 424L343 428L343 432M340 472L339 476L342 480M345 488L347 492L346 496M371 488L371 492L371 500L371 504M411 408L410 412L409 416M400 440L399 444L399 452L399 456M400 472L401 476L400 480M399 488L398 492L398 496M453 376L452 380L451 384M446 400L444 404L443 408M436 432L435 436L434 440M431 472L433 476L430 484L427 492L427 500L429 508M471 408L468 412L469 420L468 424M459 472L459 476L459 484L459 492L458 496M502 400L501 404L500 408M492 440L492 444L490 448M485 480L484 484L485 488M487 504L487 508M530 368L530 372L532 380L530 384M527 392L526 396L525 400M522 416L521 420L520 424M513 472L512 476L512 484L513 492L513 496M545 424L545 428L545 436L545 444L547 452L547 460L547 464M544 504L544 508M575 392L575 396L575 400M574 416L574 420L573 428L573 436L573 440M574 448L575 452L575 460L575 464M574 504L573 508M602 408L602 412L601 420L601 424M602 456L602 460L603 464M603 480L603 484L603 492L603 500L602 508M630 392L630 396L630 400M628 416L627 420L628 424M629 432L629 436L629 440M658 376L658 380L658 388L658 392M659 480L659 484L659 488"/><path class="w" opacity=".2" d="M81 408L80 412L80 416M81 472L81 476L80 480M110 376L110 380L110 384M109 400L109 404L109 408M110 456L109 460L109 464M139 440L138 444L138 448M169 416L170 420L170 424M168 448L168 452L168 456M196 432L196 436L197 440M227 424L227 428L227 432M226 456L226 460L226 464M227 472L228 476L227 480M254 424L254 428L254 432M285 384L285 388L284 396L284 400M312 392L312 396L312 400M312 472L312 476L312 480M312 488L313 492L313 496M343 432L343 436L343 444L342 448M373 424L373 428L373 432M371 456L370 460L370 464M370 480L370 484L371 488M413 400L412 404L411 408M451 384L450 388L447 396L446 400M430 464L430 468L431 472M458 496L458 500L458 504M509 376L509 380L507 384M487 464L486 468L485 476L485 480M513 496L514 500L514 504M548 392L548 396L548 400M547 408L546 412L545 420L545 424M544 472L541 476L540 484L541 488M575 408L574 412L574 416M575 464L575 468L575 472M575 488L575 492L575 500L574 504M603 392L603 396L603 400M603 472L603 476L603 480M628 424L628 428L629 432M629 488L629 492L629 496M629 504L629 508M659 440L658 444L658 448M658 464L658 468L659 476L659 480"/><path class="w" opacity=".24" d="M81 384L81 388L81 392M81 400L81 404L81 408M81 456L81 460L81 468L81 472M80 496L80 500L80 504M109 392L109 396L109 400M109 464L109 468L109 472M109 480L109 484L109 488M167 496L167 500L168 504M226 400L226 404L226 408M226 464L226 468L227 472M254 432L255 436L255 444L254 448M284 504L284 508M373 432L373 436L373 440M417 376L416 380L415 384M414 392L414 396L413 400M400 480L399 484L399 488M434 440L434 444L433 448M468 424L467 428L466 432M458 504L458 508M505 392L504 396L502 400M530 384L527 388L527 392M514 504L514 508M548 400L547 404L547 408M547 464L546 468L544 472M543 496L544 500L544 504M575 400L575 404L575 408M575 472L574 476L574 484L575 488M603 400L603 404L602 408M603 464L603 468L603 472M630 400L630 404L629 412L628 416M629 496L629 500L629 504M658 448L658 452L658 460L658 464"/><path class="w" opacity=".28" d="M81 392L81 396L81 400M80 504L80 508M110 384L110 388L109 392M109 472L109 476L109 480M170 432L169 436L168 444L168 448M168 504L168 508M226 408L226 412L227 420L227 424M373 440L372 444L371 452L371 456M415 384L415 388L414 392M398 496L398 500L399 508M466 432L464 436L461 444L460 448M507 384L506 388L505 392M518 440L518 444L517 448M541 488L542 492L543 496"/><path class="k" opacity=".04" d="M183 364L183 368M182 456L181 460L182 468L182 472M210 448L210 452L211 456M241 364L241 368M269 456L270 460L270 464M271 488L270 492L270 496M298 456L298 460L298 464M326 456L326 460L326 464M440 364L439 368M417 448L416 452L415 456M469 364L468 368M443 456L442 460L443 464M498 364L495 372L494 376M537 376L537 380L537 388L537 392M561 384L561 388L561 392M589 376L589 380L589 388L589 392M588 472L588 476L588 484L589 488M617 384L617 388L617 392M616 440L616 444L616 448M645 364L645 372L645 380L646 388L646 392M672 364L673 372L673 376"/><path class="k" opacity=".08" d="M67 364L68 368M95 376L95 380L95 384M125 392L125 396L125 400M182 448L182 452L182 456M211 364L211 368M211 400L212 404L212 412L212 416M241 368L240 372L240 376M270 364L269 368M269 448L269 452L269 456M299 448L299 452L298 456M299 488L299 492L300 496M328 364L328 368M327 448L327 452L326 456M326 488L327 492L327 496M391 416L390 420L389 424M439 368L438 372L436 376M468 368L467 372L465 376M445 448L443 452L443 456M472 456L471 460L471 464M523 364L522 368M508 424L508 428L507 432M502 456L502 460L501 464M539 364L538 372L537 376M562 376L561 380L561 384M560 432L560 436L560 440M559 472L558 476L558 480M588 364L588 372L589 376M616 448L616 452L616 456M616 472L616 476L616 484L615 488M643 448L642 452L642 456"/><path class="k" opacity=".12" d="M67 408L67 412L67 416M68 464L68 468L68 472M95 384L96 388L96 392M125 400L125 404L124 408M154 364L154 372L154 376M153 488L153 492L153 496M183 368L182 372L182 376M182 472L182 476L182 480M211 368L211 372L211 376M211 392L211 396L211 400M240 448L241 452L241 456M269 368L269 372L269 376M270 392L270 396L271 404L271 408M270 464L270 468L270 472M328 368L328 372L327 376M326 464L326 468L326 472M399 364L398 368M392 408L391 412L391 416M389 424L389 428L388 436L388 440M422 432L421 436L419 444L417 448M443 464L443 468L445 472M494 376L493 380L492 384M481 424L480 428L478 432M473 448L472 452L472 456M522 368L522 372L521 376M506 440L506 444L504 448M501 504L501 508M537 392L537 396L536 400M561 392L560 396L560 400M558 480L558 484L558 488M589 392L589 396L589 400M589 464L589 468L588 472M616 376L616 380L617 384M617 392L617 396L617 400M646 392L646 396L646 400M646 488L645 492L645 500L645 508M673 376L673 380L674 384M673 448L674 452L674 460L674 464"/><path class="k" opacity=".16" d="M68 400L67 404L67 408M67 416L67 420L67 424M68 456L68 460L68 464M95 368L95 372L95 376M95 416L95 420L95 424M96 488L96 492L95 496M124 364L124 368M155 424L156 428L155 432M211 376L210 380L211 388L211 392M211 440L210 444L210 448M211 456L211 460L211 464M210 488L209 492L209 496M240 376L240 380L241 384M241 456L241 460L241 464M240 488L239 492L239 496M271 408L271 412L271 416M270 496L270 500L270 504M300 364L300 368M298 392L298 396L298 400M300 496L300 500L300 504M325 480L325 484L326 488M359 364L359 368M357 416L357 420L357 428L356 432M398 368L398 372L397 380L397 388L396 392M394 400L393 404L392 408M388 440L387 444L387 448M384 488L384 492L384 496M436 376L435 380L434 384M424 424L423 428L422 432M415 456L414 460L414 464M413 488L412 492L413 496M465 376L464 380L463 384M445 472L447 476L444 484L440 492L440 496M484 416L483 420L481 424M478 432L477 436L476 440M471 480L471 484L471 492L471 500L471 504M533 424L532 428L532 432M531 440L531 444L533 452L534 460L533 464M529 504L529 508M561 364L562 372L562 376M560 400L560 404L559 408M561 456L561 460L559 468L559 472M589 448L589 452L589 460L589 464M589 488L589 492L589 496M615 364L616 368M614 416L614 420L614 424M616 456L616 460L616 468L616 472M643 416L642 420L642 424M642 456L642 460L644 464M646 480L646 484L646 488M673 440L673 444L673 448M674 464L674 468L674 472"/><path class="k" opacity=".2" d="M68 368L68 372L68 376M67 424L67 428L67 432M68 448L68 452L68 456M68 472L67 476L67 480M94 364L95 368M96 408L95 412L95 416M95 424L95 428L94 432M95 496L95 500L95 508M124 408L124 412L124 420L123 428L124 432M124 488L124 492L124 496M154 376L154 380L155 384M155 432L155 436L154 440M153 496L153 500L153 504M181 488L181 492L181 496M211 464L211 468L212 476L211 484L210 488M241 424L241 428L241 436L240 444L240 448M242 480L242 484L240 488M239 496L239 500L240 504M269 376L269 380L269 388L270 392M270 504L269 508M300 368L299 372L299 376M299 384L298 388L298 392M298 400L299 404L299 408M299 432L299 436L299 440M298 480L298 484L299 488M300 504L300 508M327 440L327 444L327 448M326 472L325 476L325 480M327 496L328 500L328 504M358 408L358 412L357 416M396 392L395 396L394 400M386 456L386 460L385 464M385 472L385 476L384 480M425 416L425 420L424 424M414 472L414 476L413 480M471 472L471 476L471 480M471 504L471 508M498 480L498 484L498 488M533 464L532 468L531 472M560 424L560 428L560 432M561 448L561 452L561 456M589 400L588 404L588 408M616 368L616 372L616 376M617 400L616 404L616 408M644 464L645 468L646 476L646 480M674 384L674 388L674 392M674 472L673 476L673 480"/><path class="k" opacity=".24" d="M68 392L68 396L68 400M67 432L68 436L68 444L68 448M96 392L96 396L96 404L96 408M94 432L94 436L95 440M124 368L124 372L124 376M124 432L124 436L124 440M182 376L182 380L182 384M183 440L182 444L182 448M182 480L182 484L181 488M242 472L243 476L242 480M240 504L240 508M271 480L271 484L271 488M299 440L299 444L299 448M298 464L298 468L298 472M327 376L327 380L327 384M359 368L359 372L359 376M359 400L359 404L358 408M356 432L356 436L356 440M387 448L387 452L386 456M384 496L384 500L385 508M434 384L433 388L431 392M427 408L426 412L425 416M413 496L413 500L415 508M463 384L462 388L462 392M447 440L446 444L445 448M492 384L491 388L490 392M486 408L485 412L484 416M476 440L474 444L473 448M471 464L471 468L471 472M510 416L509 420L508 424M500 496L501 500L501 504M536 400L536 404L535 408M559 408L559 412L559 416M560 440L560 444L561 448M589 496L589 500L589 504M616 408L615 412L614 416M646 400L646 404L644 412L643 416M642 424L643 428L644 432M674 392L674 396L674 400M672 432L672 436L673 440M672 504L673 508"/><path class="k" opacity=".28" d="M124 440L124 444L125 452L125 456M124 496L124 500L124 504M154 480L154 484L153 488M209 496L210 500L210 504M271 416L271 420L270 424M269 440L269 444L269 448M270 472L271 476L271 480M299 376L299 380L299 384M299 424L299 428L299 432M298 472L298 476L298 480M355 504L356 508M384 480L384 484L384 488M431 392L430 396L428 404L427 408M413 480L413 484L413 488M440 496L440 500L441 504M490 392L489 396L487 404L486 408M521 376L520 380L519 384M515 400L513 404L511 412L510 416M501 464L501 468L498 476L498 480M498 488L499 492L500 496M535 408L535 412L534 416M532 432L531 436L531 440M529 496L529 500L529 504M588 440L588 444L589 448M674 400L674 404L673 408M672 424L672 428L672 432M673 480L673 484L672 492L672 500L672 504"/><path class="k" opacity=".32" d="M95 440L95 444L95 452L96 456M155 416L155 420L155 424M154 440L154 444L154 448M212 416L212 420L212 424M241 384L241 388L241 392M242 416L242 420L241 424M327 384L327 388L327 392M328 432L328 436L327 440M359 392L359 396L359 400M357 456L357 460L357 464M462 392L461 396L460 400M452 424L451 428L448 436L447 440M504 448L503 452L502 456M529 488L528 492L529 496M588 408L588 412L587 416M589 504L588 508M614 424L614 428L615 436L616 440M673 408L673 412L672 420L672 424"/><path class="k" opacity=".36" d="M68 376L68 380L68 388L68 392M67 480L67 484L67 492L67 500L68 508M96 456L96 460L96 468L96 476L96 484L96 488M124 376L125 380L125 388L125 392M125 456L125 460L125 468L125 476L124 484L124 488M124 504L124 508M155 384L155 388L155 396L155 404L155 412L155 416M154 448L155 452L155 460L155 468L155 476L154 480M153 504L154 508M182 384L182 388L182 396L182 404L183 412L183 420L183 428L183 436L183 440M181 496L182 500L182 508M212 424L211 428L211 436L211 440M210 504L211 508M241 392L241 396L242 404L242 412L242 416M241 464L242 468L242 472M270 424L270 428L269 436L269 440M299 408L299 412L299 420L299 424M327 392L326 396L327 404L327 412L328 420L328 428L328 432M328 504L327 508M359 376L359 380L359 388L359 392M356 440L356 444L357 452L357 456M357 472L357 476L356 484L356 492L355 500L355 504M460 400L459 404L457 412L454 420L452 424M441 504L442 508M519 384L518 388L516 396L515 400M534 416L534 420L533 424M531 472L530 476L530 484L529 488M559 416L559 420L560 424M558 488L559 492L559 500L560 508M587 416L587 420L587 428L588 436L588 440M615 488L615 492L615 500L616 508M644 432L644 436L644 444L643 448"/></g><ellipse class="n1" cx="311.1" cy="493.1" rx="7" ry="9" opacity=".24"/><ellipse class="n1" cx="336.1" cy="493.1" rx="7" ry="9" opacity=".24"/><ellipse class="n1" cx="361.1" cy="493.1" rx="7" ry="9" opacity=".24"/><ellipse class="p1" cx="103.3" cy="397.5" rx="7" ry="9.5" opacity=".24"/><ellipse class="p1" cx="449.9" cy="493.9" rx="7.6" ry="9" opacity=".24"/><ellipse class="p1" cx="380.9" cy="384.7" rx="7.6" ry="12" opacity=".24"/><ellipse class="p1" cx="411.4" cy="384.7" rx="7.6" ry="12" opacity=".24"/><ellipse class="n1" cx="261.1" cy="493.1" rx="7" ry="9" opacity=".29"/><ellipse class="n1" cx="286.1" cy="493.1" rx="7" ry="9" opacity=".29"/><ellipse class="p1" cx="298.6" cy="493.1" rx="7" ry="9" opacity=".29"/><ellipse class="p1" cx="323.6" cy="493.1" rx="7" ry="9" opacity=".29"/><ellipse class="p1" cx="348.6" cy="493.1" rx="7" ry="9" opacity=".29"/><ellipse class="p1" cx="229.4" cy="481.1" rx="7.6" ry="8.5" opacity=".29"/><ellipse class="p1" cx="309.7" cy="385.5" rx="7" ry="9.5" opacity=".29"/><ellipse class="p1" cx="91.2" cy="383.1" rx="7" ry="9.5" opacity=".29"/><ellipse class="p1" cx="253.5" cy="421.6" rx="7.6" ry="14" opacity=".29"/><ellipse class="p1" cx="279.2" cy="420" rx="7.6" ry="14" opacity=".29"/><ellipse class="n1" cx="437.1" cy="493.1" rx="7.6" ry="9" opacity=".29"/><ellipse class="n1" cx="590.5" cy="495.5" rx="7.6" ry="9" opacity=".29"/><ellipse class="p1" cx="604.1" cy="495.5" rx="7.6" ry="9" opacity=".29"/><ellipse class="n1" cx="551.1" cy="481.4" rx="7.6" ry="9" opacity=".29"/><ellipse class="p1" cx="563.2" cy="480.3" rx="7.6" ry="9" opacity=".29"/><ellipse class="p1" cx="587.3" cy="480.3" rx="7.6" ry="9" opacity=".29"/><ellipse class="n1" cx="625.8" cy="481.1" rx="7.6" ry="9" opacity=".29"/><ellipse class="p1" cx="420.2" cy="457.8" rx="7.6" ry="9" opacity=".29"/><ellipse class="n1" cx="639.5" cy="457" rx="7.6" ry="9" opacity=".29"/><ellipse class="p1" cx="564" cy="434.5" rx="7" ry="13" opacity=".29"/><ellipse class="p1" cx="573.6" cy="421.6" rx="7.6" ry="10" opacity=".29"/><ellipse class="n1" cx="613" cy="421.6" rx="7.6" ry="10" opacity=".29"/><ellipse class="p1" cx="562.4" cy="384.7" rx="7.6" ry="12" opacity=".29"/><ellipse class="p1" cx="590.5" cy="384.7" rx="7.6" ry="12" opacity=".29"/><ellipse class="n1" cx="548.7" cy="384.7" rx="7.6" ry="12" opacity=".29"/><ellipse class="n1" cx="576.8" cy="384.7" rx="7.6" ry="12" opacity=".29"/><ellipse class="n1" cx="604.1" cy="384.7" rx="7.6" ry="12" opacity=".29"/><ellipse class="p1" cx="644.3" cy="384.7" rx="7.6" ry="12" opacity=".29"/><ellipse class="n1" cx="396.9" cy="384.7" rx="7.6" ry="12" opacity=".29"/><ellipse class="p1" cx="466" cy="412" rx="7.6" ry="14" opacity=".29"/><ellipse class="p1" cx="396.9" cy="445.7" rx="7.6" ry="14" opacity=".29"/><ellipse class="n1" cx="243.8" cy="480.3" rx="7.6" ry="8.5" opacity=".36"/><ellipse class="p1" cx="283.2" cy="432.9" rx="7" ry="9.5" opacity=".35"/><ellipse class="p1" cx="639.5" cy="481.1" rx="7.6" ry="9" opacity=".36"/><ellipse class="n1" cx="433.1" cy="457.8" rx="7.6" ry="9" opacity=".36"/><ellipse class="n1" cx="599.3" cy="445.7" rx="7.6" ry="8.5" opacity=".36"/><ellipse class="p1" cx="600.1" cy="421.6" rx="7.6" ry="10" opacity=".35"/><ellipse class="n1" cx="639.5" cy="421.6" rx="7.6" ry="10" opacity=".35"/><ellipse class="p1" cx="535.1" cy="384.7" rx="7.6" ry="12" opacity=".35"/><ellipse class="p1" cx="617.8" cy="385.5" rx="7.6" ry="12" opacity=".35"/><ellipse class="p1" cx="258.3" cy="481.1" rx="7.6" ry="8.5" opacity=".42"/><ellipse class="p1" cx="284.8" cy="481.1" rx="7.6" ry="8.5" opacity=".42"/><ellipse class="n1" cx="324.1" cy="481.4" rx="7.6" ry="8.5" opacity=".42"/><ellipse class="p1" cx="336.7" cy="481.4" rx="7.6" ry="8.5" opacity=".42"/><ellipse class="p1" cx="243.8" cy="456.2" rx="7.6" ry="8.5" opacity=".42"/><ellipse class="n1" cx="145.8" cy="407.2" rx="7" ry="9.5" opacity=".4"/><ellipse class="p1" cx="141" cy="431.3" rx="7" ry="9.5" opacity=".4"/><ellipse class="p1" cx="576" cy="495.5" rx="7.6" ry="9" opacity=".42"/><ellipse class="p1" cx="613" cy="481.1" rx="7.6" ry="9" opacity=".42"/><ellipse class="n1" cx="494.1" cy="434.5" rx="7" ry="13" opacity=".4"/><ellipse class="n1" cx="551.1" cy="434.5" rx="7" ry="13" opacity=".4"/><ellipse class="p1" cx="626.6" cy="421.6" rx="7.6" ry="10" opacity=".4"/><ellipse class="p1" cx="248.6" cy="493.1" rx="7" ry="9" opacity=".48"/><ellipse class="p1" cx="273.6" cy="493.1" rx="7" ry="9" opacity=".48"/><ellipse class="p1" cx="148.2" cy="478.6" rx="7.6" ry="8.5" opacity=".48"/><ellipse class="p1" cx="126.6" cy="399.1" rx="7" ry="9.5" opacity=".46"/><ellipse class="n1" cx="297.6" cy="433.2" rx="7" ry="9.5" opacity=".46"/><ellipse class="p1" cx="312.6" cy="433.2" rx="7" ry="9.5" opacity=".46"/><ellipse class="p1" cx="458.8" cy="481.9" rx="7.6" ry="9" opacity=".48"/><ellipse class="n1" cx="470.8" cy="481.9" rx="7.6" ry="9" opacity=".48"/><ellipse class="p1" cx="483.2" cy="481.9" rx="7.6" ry="9" opacity=".48"/><ellipse class="p1" cx="627" cy="457.8" rx="7.6" ry="9" opacity=".48"/><ellipse class="p1" cx="311.3" cy="481.1" rx="7.6" ry="8.5" opacity=".53"/><ellipse class="n1" cx="258.3" cy="457" rx="7.6" ry="8.5" opacity=".53"/><ellipse class="p1" cx="271.9" cy="457.3" rx="7.6" ry="8.5" opacity=".53"/><ellipse class="p1" cx="214.9" cy="450.5" rx="6" ry="15" opacity=".51"/><ellipse class="n1" cx="141.8" cy="398.3" rx="6.5" ry="10" opacity=".51" transform="rotate(-20 141.8 398.3)"/><ellipse class="p1" cx="371.2" cy="493.1" rx="7.6" ry="9" opacity=".53"/><ellipse class="p1" cx="432.3" cy="481.9" rx="7.6" ry="9" opacity=".53"/><ellipse class="n1" cx="450.4" cy="469" rx="6.5" ry="9" opacity=".53" transform="rotate(25 450.4 469)"/><ellipse class="p1" cx="445.6" cy="457.8" rx="7.6" ry="9" opacity=".53"/><ellipse class="p1" cx="523.5" cy="457.8" rx="7.6" ry="9" opacity=".53"/><ellipse class="p1" cx="612.2" cy="446" rx="7.6" ry="8.5" opacity=".53"/><ellipse class="p1" cx="508.2" cy="436.1" rx="7" ry="13" opacity=".51"/><ellipse class="p1" cx="536.7" cy="436.1" rx="7" ry="13" opacity=".51"/><ellipse class="n1" cx="297.6" cy="481.1" rx="7.6" ry="8.5" opacity=".58"/><ellipse class="n1" cx="285.6" cy="457.8" rx="7.6" ry="8.5" opacity=".58"/><ellipse class="p1" cx="298.9" cy="457.8" rx="7.6" ry="8.5" opacity=".58"/><ellipse class="p1" cx="351.5" cy="457.8" rx="7.6" ry="8.5" opacity=".58"/><ellipse class="p1" cx="359.5" cy="468.2" rx="6.5" ry="10" opacity=".55" transform="rotate(-15 359.5 468.2)"/><ellipse class="p1" cx="213.8" cy="408.4" rx="7" ry="9.5" opacity=".55"/><ellipse class="p1" cx="423.9" cy="493.1" rx="7.6" ry="9" opacity=".58"/><ellipse class="p1" cx="537.5" cy="481.4" rx="7.6" ry="9" opacity=".58"/><ellipse class="p1" cx="385.3" cy="469" rx="7.6" ry="8.5" opacity=".58"/><ellipse class="p1" cx="411.1" cy="469" rx="7.6" ry="8.5" opacity=".58"/><ellipse class="p1" cx="437.1" cy="469" rx="7.6" ry="8.5" opacity=".58"/><ellipse class="n1" cx="536.4" cy="457.8" rx="7.6" ry="9" opacity=".58"/><ellipse class="n1" cx="614.9" cy="457.8" rx="7.6" ry="9" opacity=".58"/><ellipse class="n1" cx="179.7" cy="493.6" rx="7" ry="9.5" opacity=".6"/><ellipse class="n1" cx="162.7" cy="477.8" rx="6.5" ry="10" opacity=".6" transform="rotate(20 162.7 477.8)"/><ellipse class="n1" cx="311.8" cy="457.8" rx="7.6" ry="8.5" opacity=".63"/><ellipse class="p1" cx="172.3" cy="426.4" rx="7" ry="14" opacity=".6" transform="rotate(-5 172.3 426.4)"/><ellipse class="p1" cx="182" cy="457" rx="6.5" ry="22" opacity=".6"/><ellipse class="n1" cx="197.2" cy="468.2" rx="7" ry="9" opacity=".63"/><ellipse class="p1" cx="397.2" cy="493.1" rx="7.6" ry="9" opacity=".63"/><ellipse class="n1" cx="372" cy="469" rx="7.6" ry="8.5" opacity=".63"/><ellipse class="n1" cx="398.5" cy="469" rx="7.6" ry="8.5" opacity=".63"/><ellipse class="n1" cx="423.9" cy="469" rx="7.6" ry="8.5" opacity=".63"/><ellipse class="n1" cx="625" cy="446" rx="7.6" ry="8.5" opacity=".63"/><ellipse class="p1" cx="638.4" cy="446.5" rx="7.6" ry="8.5" opacity=".63"/><ellipse class="p1" cx="181.2" cy="471.4" rx="7" ry="10" opacity=".63"/><ellipse class="n1" cx="156.3" cy="428" rx="7" ry="13" opacity=".63"/><ellipse class="n1" cx="198.8" cy="452.1" rx="6.5" ry="18" opacity=".63"/><ellipse class="n1" cx="384.1" cy="493.1" rx="7.6" ry="9" opacity=".66"/><ellipse class="n1" cx="445.6" cy="481.4" rx="7.6" ry="9" opacity=".66"/><ellipse class="n1" cx="522.5" cy="436.1" rx="7" ry="13" opacity=".63"/><ellipse class="n1" cx="235.5" cy="493.4" rx="7" ry="9.5" opacity=".66"/><ellipse class="p1" cx="325.4" cy="457.8" rx="7.6" ry="8.5" opacity=".69"/><ellipse class="n1" cx="338.3" cy="457.8" rx="7.6" ry="8.5" opacity=".69"/><ellipse class="n1" cx="410.6" cy="493.1" rx="7.6" ry="9" opacity=".69"/><ellipse class="n1" cx="496" cy="481.9" rx="7.6" ry="9" opacity=".69"/><ellipse class="n1" cx="458.3" cy="457.8" rx="7.6" ry="9" opacity=".69"/><ellipse class="n1" cx="511" cy="457.8" rx="7.6" ry="9" opacity=".69"/><ellipse class="p1" cx="549.2" cy="457.8" rx="7.6" ry="9" opacity=".69"/><ellipse class="p1" cx="602.1" cy="457.8" rx="7.6" ry="9" opacity=".69"/><ellipse class="p1" cx="509.4" cy="481.4" rx="7.6" ry="9" opacity=".72"/><ellipse class="p1" cx="165.8" cy="493.7" rx="7" ry="9.5" opacity=".72"/><ellipse class="p1" cx="193.6" cy="493.6" rx="7" ry="9.5" opacity=".72"/><ellipse class="n1" cx="523" cy="481.4" rx="7.6" ry="9" opacity=".76"/><ellipse class="p1" cx="497.8" cy="457.8" rx="7.6" ry="9" opacity=".76"/><ellipse class="p1" cx="471.3" cy="457.8" rx="7.6" ry="9" opacity=".8"/><ellipse class="p1" cx="221.5" cy="493.5" rx="7" ry="9.5" opacity=".83"/><ellipse class="n1" cx="562.1" cy="457.8" rx="7.6" ry="9" opacity=".87"/><ellipse class="n1" cx="588.9" cy="457.8" rx="7.6" ry="9" opacity=".87"/><ellipse class="p1" cx="575.2" cy="457.8" rx="7.6" ry="9" opacity=".91"/><ellipse class="n1" cx="484.5" cy="457.8" rx="7.6" ry="9" opacity=".99"/><ellipse class="n2" cx="207.6" cy="493.5" rx="7" ry="9.5"/><ellipse class="n2" cx="151.8" cy="493.7" rx="7" ry="9.5"/><ellipse class="n2" cx="123.9" cy="493.8" rx="7.6" ry="9.5"/><ellipse class="n2" cx="96" cy="493.9" rx="7.6" ry="9.5"/><ellipse class="p2" cx="110" cy="493.9" rx="7.6" ry="9.5"/><ellipse class="p2" cx="137.9" cy="493.8" rx="7.6" ry="9.5"/>
</g></g>
<g clip-path="url(#ce)"><g filter="url(#jet)">
<rect x="725.1" y="205" width="599.65" height="177.9" fill="#808080"/>
<g class="bg"><path class="w" opacity=".04" d="M759 219L759 223M787 219L787 223M816 219L817 223M904 219L904 227L905 231M910 263L909 267L908 271M932 219L932 223M936 279L936 283L936 287M961 219L961 227L962 231M965 271L965 275L965 279M991 219L991 227L991 231M1017 219L1018 227L1018 231M1045 219L1046 227L1047 235L1048 243L1048 247M1048 263L1049 267L1049 275L1049 279M1056 359L1056 363M1062 219L1063 227L1064 235L1065 239M1077 219L1079 227L1080 231M1103 311L1104 315L1105 319M1099 219L1101 227L1104 235L1105 239M1129 311L1130 315L1132 319M1135 327L1136 331L1139 339L1141 343M1128 219L1131 227L1132 231M1164 327L1165 331L1167 335M1190 319L1192 323L1193 327M1194 219L1195 223M1210 279L1211 283L1213 287M1238 223L1239 227L1239 231M1258 335L1259 339L1259 343M1277 219L1278 227L1279 235L1280 239M1308 219L1309 227L1309 231M1311 255L1310 259L1310 267L1311 271"/><path class="w" opacity=".08" d="M729 219L729 223M732 263L732 267L732 275L732 283L732 287M735 359L735 363M759 223L759 227L760 231M766 343L766 347L765 355L765 363M787 223L787 227L788 231M790 295L791 299L792 307L793 315L793 319M817 223L817 227L818 231M846 219L846 223M851 327L852 331L852 335M873 219L873 223M880 327L880 331L880 339L880 343M908 295L908 299L909 307L910 315L910 319M932 223L932 227L933 231M936 255L936 259L936 263M938 359L938 363M967 319L967 323L968 331L968 339L968 347L968 351M991 231L991 235L991 239M992 263L993 267L993 271M994 279L994 283L995 287M996 335L996 339L997 347L997 351M1024 359L1024 363M1048 247L1048 251L1048 255M1055 351L1055 355L1056 359M1065 239L1065 243L1066 251L1067 255M1080 231L1081 235L1083 243L1086 251L1087 255M1113 343L1114 347L1114 355L1113 359M1105 239L1106 243L1107 247M1132 231L1134 235L1135 239M1149 279L1150 283L1153 291L1154 295M1172 359L1172 363M1158 219L1161 227L1162 231M1172 263L1174 267L1177 275L1179 279M1193 327L1195 331L1199 339L1200 343M1201 351L1201 355L1201 359M1195 223L1196 227L1197 231M1207 271L1209 275L1210 279M1213 287L1214 291L1215 295M1239 231L1240 235L1240 239M1246 263L1247 267L1248 275L1249 283L1249 287M1280 239L1280 243L1280 247M1309 231L1310 235L1310 243L1311 251L1311 255M1311 271L1311 275L1311 279"/><path class="w" opacity=".12" d="M729 223L729 227L729 231M731 255L731 259L732 263M732 287L732 291L732 299L733 307L733 315L734 319M735 351L735 355L735 359M762 263L762 267L761 275L759 283L759 291L761 299L762 303M766 335L766 339L766 343M790 287L790 291L790 295M793 319L793 323L794 331L794 335M820 279L820 283L820 291L823 299L824 303M825 311L824 315L824 319M849 255L849 259L849 267L849 271M850 319L851 323L851 327M873 223L874 227L874 231M880 263L879 267L877 275L877 279M879 319L880 323L880 327M880 343L880 347L880 351M905 231L906 235L908 239M908 271L907 275L907 279M910 319L910 323L910 327M910 359L910 363M933 231L933 235L936 243L937 251L936 255M939 343L939 347L939 355L938 359M962 231L962 235L963 239M965 263L965 267L965 271M966 311L966 315L967 319M968 351L968 355L967 363M995 287L995 291L995 295M995 327L996 331L996 335M997 351L998 355L998 359M1018 231L1018 235L1019 239M1021 271L1021 275L1020 283L1019 291L1019 295M1025 351L1024 355L1024 359M1048 255L1048 259L1048 263M1049 279L1049 283L1049 287M1051 303L1053 307L1054 311M1055 343L1055 347L1055 351M1077 303L1078 307L1080 311M1081 319L1081 323L1081 331L1082 339L1084 347L1084 355L1084 363M1087 255L1089 259L1090 263M1111 335L1112 339L1113 343M1113 359L1113 363M1107 247L1109 251L1110 255M1135 239L1136 243L1137 247M1147 271L1148 275L1149 279M1154 295L1156 299L1157 303M1159 311L1161 315L1162 319M1172 351L1171 355L1172 359M1162 231L1163 235L1164 239M1166 247L1168 251L1171 259L1172 263M1179 279L1180 283L1181 287M1201 359L1201 363M1197 231L1198 235L1199 239M1202 255L1203 259L1206 267L1207 271M1215 295L1216 299L1217 303M1229 351L1229 355L1229 363M1240 239L1241 243L1243 251L1245 259L1246 263M1249 287L1250 291L1250 295M1256 327L1257 331L1258 335M1259 351L1259 355L1259 359M1280 247L1280 251L1281 255M1283 287L1283 291L1284 299L1285 303M1286 311L1286 315L1286 319M1287 351L1287 355L1288 359M1311 279L1311 283L1312 287M1315 343L1315 347L1315 355L1315 363"/><path class="w" opacity=".16" d="M729 231L729 235L730 243L731 251L731 255M734 319L734 323L735 331L736 339L736 347L735 351M762 239L763 243L763 247M762 303L763 307L763 315L764 323L765 331L766 335M788 231L789 235L792 243L792 247M791 263L790 267L790 275L790 283L790 287M794 335L794 339L793 347L793 355L793 363M818 231L819 235L821 243L824 251L822 255M820 271L820 275L820 279M824 303L825 307L825 311M824 319L823 323L823 331L823 335M823 359L823 363M846 223L846 227L847 231M848 239L850 243L850 251L849 255M849 271L849 275L850 279M850 311L850 315L850 319M852 335L852 339L853 343M880 247L881 251L881 259L880 263M877 279L876 283L877 287M879 311L879 315L879 319M880 351L880 355L879 363M908 239L909 243L911 251L911 259L910 263M907 287L907 291L908 295M910 327L910 331L910 335M910 343L910 347L910 355L910 359M936 287L936 291L936 295M939 335L939 339L939 343M963 239L964 243L965 251L965 255M965 279L965 283L965 287M965 303L965 307L966 311M991 239L991 243L991 247M998 359L997 363M1019 239L1019 243L1020 247M1021 263L1021 267L1021 271M1019 295L1019 299L1022 307L1025 315L1025 323L1025 327M1025 343L1025 347L1025 351M1049 287L1049 291L1049 299L1051 303M1054 311L1054 315L1054 323L1054 327M1067 255L1067 259L1067 267L1068 275L1074 283L1075 291L1076 299L1077 303M1080 311L1081 315L1081 319M1090 263L1091 267L1092 275L1095 283L1096 287M1110 255L1112 259L1118 267L1120 275L1120 279M1126 303L1128 307L1129 311M1141 343L1142 347L1142 351M1137 247L1138 251L1141 259L1146 267L1147 271M1157 303L1158 307L1159 311M1170 343L1172 347L1172 351M1164 239L1165 243L1166 247M1181 287L1182 291L1183 295M1199 239L1200 243L1201 251L1202 255M1225 335L1226 339L1227 343M1254 319L1255 323L1256 327M1259 343L1260 347L1259 351M1281 255L1281 259L1281 263M1282 279L1282 283L1283 287M1288 359L1288 363M1312 287L1312 291L1313 295M1314 335L1314 339L1315 343"/><path class="w" opacity=".2" d="M760 231L760 235L762 239M763 247L763 251L762 259L762 263M792 247L792 251L791 259L791 263M820 263L820 267L820 271M823 335L823 339L823 347L823 355L823 359M847 231L847 235L848 239M850 279L850 283L850 287M853 343L853 347L853 351M877 239L879 243L880 247M877 287L877 291L877 299L878 307L879 311M907 279L907 283L907 287M910 335L910 339L910 343M937 311L937 315L938 323L939 331L939 335M965 255L965 259L965 263M965 295L965 299L965 303M991 247L991 251L992 259L992 263M995 295L995 299L995 303M995 319L995 323L995 327M1020 247L1020 251L1021 259L1021 263M1025 327L1025 331L1025 339L1025 343M1054 327L1054 331L1055 339L1055 343M1108 327L1110 331L1111 335M1120 279L1121 283L1123 291L1125 299L1126 303M1142 351L1142 355L1141 363M1167 335L1169 339L1170 343M1188 311L1189 315L1190 319M1217 303L1218 307L1219 311M1250 295L1251 299L1251 303M1252 311L1253 315L1254 319M1281 263L1281 267L1281 275L1282 279M1286 335L1287 339L1287 343M1313 295L1313 299L1314 303M1314 319L1315 323L1314 331L1314 335"/><path class="w" opacity=".24" d="M822 255L820 259L820 263M849 303L849 307L850 311M853 351L853 355L852 363M874 231L874 235L877 239M936 295L936 299L936 307L937 311M965 287L965 291L965 295M995 311L995 315L995 319M1100 303L1101 307L1103 311M1183 295L1184 299L1186 303M1219 311L1220 315L1221 319M1251 303L1252 307L1252 311M1286 319L1286 323L1286 327M1314 303L1314 307L1314 315L1314 319"/><path class="w" opacity=".28" d="M850 287L850 291L849 299L849 303M995 303L995 307L995 311M1096 287L1097 291L1099 299L1100 303M1105 319L1107 323L1108 327M1186 303L1187 307L1188 311M1221 319L1221 323L1224 331L1225 335M1259 359L1259 363M1286 327L1286 331L1286 335"/><path class="k" opacity=".04" d="M864 319L864 323L864 327M895 263L894 267L893 271M921 271L921 275L921 283L922 287M949 271L950 275L950 279M980 271L981 275L981 279M984 343L984 347L984 351M1069 219L1071 227L1071 231M1086 219L1088 227L1089 231M1112 219L1113 223M1147 319L1149 323L1152 331L1153 335M1143 219L1145 223M1176 319L1177 323L1179 327M1187 343L1187 347L1187 351M1214 343L1215 347L1215 351M1215 219L1217 227L1219 235L1219 239"/><path class="k" opacity=".08" d="M714 219L714 227L715 231M721 351L720 355L720 363M744 219L744 223M748 327L748 331L749 335M804 263L804 267L804 271M860 219L860 223M888 219L888 223M918 219L919 227L920 231M920 263L920 267L921 271M947 219L947 227L947 231M948 263L949 267L949 271M950 279L950 283L951 287M1003 219L1004 223M1007 263L1007 267L1007 271M1032 219L1033 227L1033 231M1055 219L1055 223M1060 271L1061 275L1061 279M1071 231L1072 235L1073 239M1113 223L1114 227L1116 231M1153 335L1154 339L1155 343M1145 223L1146 227L1147 231M1219 239L1220 243L1221 251L1222 255M1234 303L1235 307L1236 311M1257 219L1258 227L1259 235L1261 243L1262 251L1263 259L1263 267L1263 271M1271 351L1271 355L1271 359M1293 219L1294 227L1295 235L1296 243L1296 251L1296 259L1296 263"/><path class="k" opacity=".12" d="M715 231L715 235L715 239M721 335L721 339L721 347L721 351M744 223L744 227L745 231M746 271L747 275L747 279M748 319L748 323L748 327M749 335L749 339L750 343M831 219L831 223M835 279L835 283L835 287M860 223L860 227L860 231M888 223L889 227L890 231M920 231L920 235L920 239M922 287L922 291L923 295M924 343L924 347L925 355L925 359M947 231L947 235L947 243L947 247M954 359L954 363M977 219L977 227L977 231M984 351L984 355L984 359M1004 223L1004 227L1004 231M1007 279L1007 283L1006 287M1011 351L1010 355L1010 363M1033 231L1034 235L1034 239M1036 271L1036 275L1036 279M1055 223L1056 227L1056 231M1073 239L1074 243L1074 247M1089 231L1091 235L1092 239M1115 311L1117 315L1118 319M1179 327L1180 331L1184 335M1175 219L1178 227L1180 231M1183 239L1184 243L1186 251L1187 255M1205 311L1207 315L1208 319M1222 255L1223 259L1224 263M1232 295L1233 299L1234 303M1236 311L1236 315L1237 319M1263 271L1264 275L1264 279M1271 335L1271 339L1271 343M1300 311L1301 315L1301 319M1323 219L1324 227L1324 231M1326 247L1326 251L1326 259L1326 263"/><path class="k" opacity=".16" d="M715 239L716 243L717 251L717 255M720 319L720 323L721 331L721 335M746 263L746 267L746 271M747 279L747 283L748 287M750 343L750 347L750 351M775 263L775 267L775 275L775 283L776 287M779 359L779 363M803 219L803 223M805 239L806 243L806 251L805 255M809 359L809 363M834 263L834 267L834 275L835 279M836 327L837 331L839 339L840 347L839 351M866 255L867 259L865 263M864 327L865 331L865 335M896 255L896 259L895 263M892 295L892 299L893 303M894 359L894 363M923 295L923 299L923 303M924 335L924 339L924 343M925 359L925 363M951 303L951 307L951 315L951 319M951 327L952 331L952 335M953 343L953 347L953 351M977 231L977 235L977 243L978 247M983 335L984 339L984 343M984 359L983 363M1006 287L1005 291L1004 299L1007 303M1011 343L1011 347L1011 351M1034 295L1034 299L1036 303M1057 247L1057 251L1057 259L1059 267L1060 271M1067 319L1067 323L1067 331L1068 339L1069 343M1074 247L1075 251L1076 255M1085 287L1089 291L1089 295M1090 311L1090 315L1092 323L1094 331L1095 335M1104 271L1105 275L1106 283L1108 287M1125 335L1125 339L1126 343M1147 231L1148 235L1149 239M1174 311L1175 315L1176 319M1180 231L1181 235L1183 239M1224 263L1224 267L1225 271M1230 287L1231 291L1232 295M1243 351L1243 355L1244 359M1271 359L1271 363M1296 263L1296 267L1296 271M1300 303L1300 307L1300 311M1301 319L1301 323L1301 327M1325 239L1326 243L1326 247M1326 263L1326 267L1326 271M1329 311L1330 315L1330 319"/><path class="k" opacity=".2" d="M717 255L717 259L718 267L717 275L717 279M719 311L720 315L720 319M747 239L748 243L747 251L746 255M748 311L748 315L748 319M750 351L751 355L751 359M773 219L773 223M776 255L775 259L775 263M779 351L779 355L779 359M803 223L803 227L804 231M804 271L805 275L805 279M809 351L809 355L809 359M831 223L831 227L832 231M835 247L835 251L834 255M863 247L866 251L866 255M863 279L863 283L864 291L864 295M866 343L866 347L867 355L867 359M894 247L895 251L896 255M893 271L892 275L892 279M892 287L892 291L892 295M893 303L893 307L894 311M895 351L895 355L894 359M920 239L921 243L921 247M923 303L924 307L924 311M947 247L947 251L948 255M951 287L951 291L951 299L951 303M951 319L951 323L951 327M953 351L954 355L954 359M978 247L978 251L978 255M979 263L980 267L980 271M981 303L981 307L981 311M1011 335L1011 339L1011 343M1034 239L1035 243L1035 247M1036 263L1036 267L1036 271M1039 311L1040 315L1040 323L1040 327M1040 359L1040 363M1056 231L1056 235L1057 243L1057 247M1066 311L1067 315L1067 319M1069 343L1070 347L1070 351M1077 263L1078 267L1079 275L1080 279M1089 295L1089 299L1089 307L1090 311M1095 335L1096 339L1098 347L1098 355L1099 363M1102 263L1104 267L1104 271M1122 327L1124 331L1125 335M1126 343L1127 347L1127 351M1116 231L1117 235L1119 239M1131 271L1132 275L1134 283L1135 287M1167 287L1168 291L1170 299L1172 307L1174 311M1187 255L1188 259L1189 263M1203 303L1204 307L1205 311M1225 271L1227 275L1229 283L1230 287M1237 319L1238 323L1238 327M1240 335L1241 339L1242 343M1244 359L1244 363M1264 279L1264 283L1265 287M1301 335L1301 339L1301 343M1301 351L1301 355L1301 359M1324 231L1325 235L1325 239M1328 303L1329 307L1329 311M1330 319L1330 323L1330 327"/><path class="k" opacity=".24" d="M746 255L746 259L746 263M748 287L748 291L748 295M751 359L750 363M776 239L777 243L776 251L776 255M779 343L779 347L779 351M804 231L804 235L805 239M808 295L809 299L809 303M834 239L835 243L835 247M834 255L834 259L834 263M839 351L839 355L838 359M865 335L866 339L866 343M867 359L866 363M890 231L890 235L893 243L894 247M924 327L924 331L924 335M948 255L948 259L948 263M981 295L981 299L981 303M981 311L981 315L981 319M1004 231L1005 235L1005 239M1007 255L1007 259L1007 263M1035 287L1034 291L1034 295M1036 303L1039 307L1039 311M1061 279L1062 283L1062 291L1063 299L1064 303M1070 351L1070 355L1070 363M1076 255L1077 259L1077 263M1092 239L1094 243L1095 247M1108 287L1109 291L1110 295M1144 311L1146 315L1147 319M1184 335L1188 339L1187 343M1296 271L1297 275L1297 279M1298 295L1299 299L1300 303M1301 359L1302 363"/><path class="k" opacity=".28" d="M717 279L717 283L717 291L718 299L719 307L719 311M745 231L746 235L747 239M748 295L748 299L748 307L748 311M773 223L773 227L774 231M776 287L776 291L776 295M805 279L806 283L807 287M809 303L809 307L808 311M808 343L808 347L809 351M892 279L891 283L892 287M894 311L894 315L894 319M895 343L895 347L895 351M921 247L921 251L920 259L920 263M924 311L924 315L924 323L924 327M978 255L979 259L979 263M981 279L981 283L981 287M1006 247L1007 251L1007 255M1011 327L1011 331L1011 335M1040 351L1040 355L1040 359M1064 303L1065 307L1066 311M1127 351L1127 355L1126 363M1128 263L1130 267L1131 271M1135 287L1136 291L1138 295M1149 239L1150 243L1151 247M1189 263L1190 267L1191 271M1200 295L1201 299L1203 303M1208 319L1209 323L1210 327M1212 335L1213 339L1214 343M1215 351L1215 355L1215 359M1265 287L1265 291L1266 295M1271 327L1271 331L1271 335M1297 279L1297 283L1298 291L1298 295M1301 327L1301 331L1301 335M1326 271L1326 275L1326 279M1330 359L1330 363"/><path class="k" opacity=".32" d="M778 335L778 339L779 343M807 287L807 291L808 295M807 335L808 339L808 343M835 319L835 323L836 327M838 359L837 363M865 263L864 267L863 275L863 279M864 295L864 299L864 303M864 311L864 315L864 319M981 319L982 323L982 327M1005 239L1006 243L1006 247M1035 247L1035 251L1036 255M1036 279L1035 283L1035 287M1080 279L1082 283L1085 287M1099 255L1101 259L1102 263M1119 239L1121 243L1122 247M1155 343L1156 347L1156 351M1164 279L1165 283L1167 287M1194 279L1195 283L1198 291L1200 295M1238 327L1239 331L1240 335M1270 319L1270 323L1271 327M1327 295L1328 299L1328 303"/><path class="k" opacity=".36" d="M774 231L774 235L776 239M776 295L777 299L777 307L776 315L777 323L777 331L778 335M808 311L807 315L806 323L807 331L807 335M832 231L832 235L834 239M835 287L835 291L835 299L835 307L835 315L835 319M860 231L860 235L860 243L863 247M864 303L864 307L864 311M894 319L895 323L895 331L895 339L895 343M981 287L981 291L981 295M982 327L983 331L983 335M1007 303L1009 307L1010 315L1011 323L1011 327M1036 255L1036 259L1036 263M1040 327L1040 331L1040 339L1040 347L1040 351M1095 247L1097 251L1099 255M1110 295L1111 299L1114 307L1115 311M1118 319L1120 323L1122 327M1122 247L1124 251L1127 259L1128 263M1138 295L1139 299L1142 307L1144 311M1156 351L1155 355L1155 363M1151 247L1153 251L1156 259L1159 267L1162 275L1164 279M1187 351L1187 355L1187 363M1191 271L1192 275L1194 279M1210 327L1211 331L1212 335M1215 359L1216 363M1266 295L1266 299L1268 307L1269 315L1270 319M1326 279L1326 283L1327 291L1327 295M1330 327L1330 331L1330 339L1330 347L1330 355L1330 359"/></g><ellipse class="n1" cx="952.6" cy="247.7" rx="7" ry="10" opacity=".19"/><ellipse class="n1" cx="980.2" cy="247.7" rx="7" ry="10" opacity=".19"/><ellipse class="n1" cx="924.9" cy="247.7" rx="7" ry="10" opacity=".24"/><ellipse class="p1" cx="994" cy="247.7" rx="7" ry="10" opacity=".24"/><ellipse class="p1" cx="918.5" cy="321.6" rx="7" ry="9.5" opacity=".24"/><ellipse class="p1" cx="773.9" cy="345.7" rx="7" ry="9.5" opacity=".24"/><ellipse class="p1" cx="938.7" cy="247.7" rx="7" ry="10" opacity=".29"/><ellipse class="p1" cx="966.4" cy="247.7" rx="7" ry="10" opacity=".29"/><ellipse class="p1" cx="828.5" cy="259.8" rx="7" ry="9" opacity=".29" transform="rotate(-10 828.5 259.8)"/><ellipse class="n1" cx="775.5" cy="269.4" rx="7" ry="9.5" opacity=".29"/><ellipse class="p1" cx="756.2" cy="286.3" rx="7" ry="14" opacity=".29" transform="rotate(15 756.2 286.3)"/><ellipse class="p1" cx="790" cy="283" rx="7" ry="9.5" opacity=".29"/><ellipse class="p1" cx="839.8" cy="275" rx="7" ry="13" opacity=".29"/><ellipse class="p1" cx="863.9" cy="324.8" rx="7" ry="13" opacity=".29" transform="rotate(10 863.9 324.8)"/><ellipse class="p1" cx="953.8" cy="339.3" rx="7" ry="10" opacity=".29" transform="rotate(-20 953.8 339.3)"/><ellipse class="p1" cx="986.8" cy="345.7" rx="7" ry="9.5" opacity=".29"/><ellipse class="n1" cx="1163.2" cy="334.4" rx="6.5" ry="9" opacity=".29" transform="rotate(-15 1163.2 334.4)"/><ellipse class="n1" cx="1190.5" cy="335.3" rx="6.5" ry="9" opacity=".29" transform="rotate(-15 1190.5 335.3)"/><ellipse class="p1" cx="1064.4" cy="271" rx="7.6" ry="12" opacity=".29"/><ellipse class="n1" cx="1051.5" cy="271.8" rx="7.6" ry="12" opacity=".29"/><ellipse class="n1" cx="1077.2" cy="271.8" rx="7.6" ry="12" opacity=".29"/><ellipse class="p1" cx="1120.6" cy="271.8" rx="7.6" ry="12" opacity=".29"/><ellipse class="n1" cx="1105.3" cy="271.8" rx="7.6" ry="12" opacity=".29"/><ellipse class="p1" cx="1148.7" cy="270.2" rx="7.6" ry="12" opacity=".29"/><ellipse class="p1" cx="800.4" cy="259.8" rx="7" ry="9" opacity=".36" transform="rotate(-10 800.4 259.8)"/><ellipse class="n1" cx="814.1" cy="259.8" rx="7" ry="9" opacity=".36" transform="rotate(-10 814.1 259.8)"/><ellipse class="n1" cx="841.4" cy="344.1" rx="7" ry="14" opacity=".35"/><ellipse class="n1" cx="1135" cy="334.4" rx="6.5" ry="9" opacity=".36" transform="rotate(-15 1135 334.4)"/><ellipse class="p1" cx="1090.9" cy="271.8" rx="7.6" ry="12" opacity=".35"/><ellipse class="p1" cx="1275.6" cy="305.5" rx="7.6" ry="12" opacity=".35"/><ellipse class="n1" cx="1290.1" cy="305.5" rx="7.6" ry="12" opacity=".35"/><ellipse class="p1" cx="1025.8" cy="318.4" rx="7.6" ry="11" opacity=".35"/><ellipse class="n1" cx="1039.5" cy="320" rx="7.6" ry="11" opacity=".35"/><ellipse class="n1" cx="897.6" cy="258.9" rx="7" ry="9" opacity=".42" transform="rotate(-10 897.6 258.9)"/><ellipse class="p1" cx="912.9" cy="257.3" rx="7" ry="9" opacity=".42" transform="rotate(-10 912.9 257.3)"/><ellipse class="n1" cx="964.3" cy="273.4" rx="7.6" ry="12" opacity=".4"/><ellipse class="p1" cx="978.7" cy="273.4" rx="7.6" ry="12" opacity=".4"/><ellipse class="n1" cx="993.7" cy="273.4" rx="7.6" ry="12" opacity=".4"/><ellipse class="p1" cx="1008.5" cy="273.4" rx="7.6" ry="12" opacity=".4"/><ellipse class="n1" cx="774.7" cy="281.4" rx="6.5" ry="10" opacity=".4" transform="rotate(20 774.7 281.4)"/><ellipse class="n1" cx="1090.9" cy="293.5" rx="7" ry="12" opacity=".4"/><ellipse class="p1" cx="1053.9" cy="317.6" rx="7" ry="13" opacity=".4" transform="rotate(-5 1053.9 317.6)"/><ellipse class="p1" cx="1203.3" cy="324.8" rx="6.5" ry="10" opacity=".4" transform="rotate(-15 1203.3 324.8)"/><ellipse class="p1" cx="1149.5" cy="334.4" rx="6.5" ry="9" opacity=".42" transform="rotate(-15 1149.5 334.4)"/><ellipse class="p1" cx="1037.9" cy="271.8" rx="7.6" ry="12" opacity=".4"/><ellipse class="p1" cx="910.9" cy="247.7" rx="7" ry="10" opacity=".46"/><ellipse class="p1" cx="889.3" cy="269.4" rx="7" ry="11" opacity=".46" transform="rotate(-8 889.3 269.4)"/><ellipse class="p1" cx="957" cy="295.9" rx="7" ry="13" opacity=".46"/><ellipse class="n1" cx="810.9" cy="302.3" rx="7" ry="9.5" opacity=".46"/><ellipse class="n1" cx="1188.5" cy="324.8" rx="6.5" ry="10" opacity=".46" transform="rotate(-15 1188.5 324.8)"/><ellipse class="p1" cx="1176" cy="334.4" rx="6.5" ry="9" opacity=".48" transform="rotate(-15 1176 334.4)"/><ellipse class="p1" cx="1182.4" cy="345.7" rx="7.6" ry="9.5" opacity=".46"/><ellipse class="n1" cx="868.7" cy="258.9" rx="7" ry="9" opacity=".53" transform="rotate(-10 868.7 258.9)"/><ellipse class="p1" cx="920.9" cy="279" rx="7" ry="9" opacity=".53"/><ellipse class="p1" cx="950.6" cy="279" rx="7" ry="9" opacity=".53"/><ellipse class="n1" cx="971.8" cy="295.9" rx="7" ry="13" opacity=".51"/><ellipse class="p1" cx="986.8" cy="296.7" rx="7" ry="13" opacity=".51"/><ellipse class="p1" cx="826.9" cy="307.1" rx="7" ry="14" opacity=".51"/><ellipse class="p1" cx="1143.9" cy="321.6" rx="6.5" ry="10" opacity=".51" transform="rotate(-15 1143.9 321.6)"/><ellipse class="n1" cx="1158.8" cy="323.2" rx="6.5" ry="10" opacity=".51" transform="rotate(-15 1158.8 323.2)"/><ellipse class="p1" cx="1173.6" cy="324.8" rx="6.5" ry="10" opacity=".51" transform="rotate(-15 1173.6 324.8)"/><ellipse class="p1" cx="883.2" cy="258.1" rx="7" ry="9" opacity=".58" transform="rotate(-10 883.2 258.1)"/><ellipse class="n1" cx="935.4" cy="279" rx="7" ry="9" opacity=".58"/><ellipse class="n1" cx="1128.6" cy="320" rx="6.5" ry="10" opacity=".55" transform="rotate(-15 1128.6 320)"/><ellipse class="n1" cx="1196.6" cy="346" rx="7.6" ry="9.5" opacity=".55"/><ellipse class="p1" cx="852.6" cy="247.1" rx="7" ry="10" opacity=".6"/><ellipse class="n1" cx="904" cy="269.4" rx="7" ry="11" opacity=".6" transform="rotate(-8 904 269.4)"/><ellipse class="p1" cx="919" cy="270.2" rx="7" ry="11" opacity=".6" transform="rotate(-8 919 270.2)"/><ellipse class="p1" cx="949.5" cy="270.2" rx="7" ry="11" opacity=".6" transform="rotate(-8 949.5 270.2)"/><ellipse class="n1" cx="1001.7" cy="296.7" rx="7" ry="13" opacity=".6"/><ellipse class="p1" cx="1016.5" cy="296.7" rx="7" ry="13" opacity=".6"/><ellipse class="p1" cx="1076.1" cy="295.1" rx="7" ry="12" opacity=".6"/><ellipse class="n1" cx="838.1" cy="247" rx="7" ry="10" opacity=".63"/><ellipse class="n1" cx="896.4" cy="247.6" rx="7" ry="10" opacity=".63"/><ellipse class="p1" cx="1046.2" cy="295.9" rx="7" ry="12" opacity=".63"/><ellipse class="p1" cx="1114.2" cy="318.4" rx="7" ry="13" opacity=".63" transform="rotate(-5 1114.2 318.4)"/><ellipse class="n1" cx="934.2" cy="269.4" rx="7" ry="11" opacity=".66" transform="rotate(-8 934.2 269.4)"/><ellipse class="n1" cx="1068.4" cy="317.6" rx="7" ry="13" opacity=".66" transform="rotate(-5 1068.4 317.6)"/><ellipse class="p1" cx="1211.3" cy="346.5" rx="7.6" ry="9.5" opacity=".66"/><ellipse class="n1" cx="1031.1" cy="295.9" rx="7" ry="12" opacity=".69"/><ellipse class="n1" cx="1061.1" cy="295.1" rx="7" ry="12" opacity=".69"/><ellipse class="p1" cx="1083.6" cy="317.6" rx="7" ry="13" opacity=".69" transform="rotate(-5 1083.6 317.6)"/><ellipse class="p1" cx="881.8" cy="247.4" rx="7" ry="10" opacity=".72"/><ellipse class="n1" cx="1098.9" cy="317.6" rx="7" ry="13" opacity=".72" transform="rotate(-5 1098.9 317.6)"/><ellipse class="p1" cx="823.5" cy="246.8" rx="7" ry="10" opacity=".76"/><ellipse class="n1" cx="1225.8" cy="346.5" rx="7.6" ry="9.5" opacity=".79"/><ellipse class="n1" cx="867.2" cy="247.3" rx="7" ry="10" opacity=".87"/><ellipse class="p1" cx="1240.3" cy="346.5" rx="7.6" ry="9.5" opacity=".87"/><ellipse class="n2" cx="808.9" cy="246.7" rx="7" ry="10"/><ellipse class="n2" cx="1254.4" cy="346.5" rx="7.6" ry="9.5"/><ellipse class="p2" cx="1268.9" cy="346.5" rx="7.6" ry="9.5"/><ellipse class="p2" cx="1297.6" cy="346.5" rx="7.6" ry="9.5"/><ellipse class="n2" cx="779.8" cy="246.4" rx="7.6" ry="10"/><ellipse class="n2" cx="1283.2" cy="346.5" rx="7.6" ry="9.5"/><ellipse class="n2" cx="750.6" cy="246.1" rx="7.6" ry="10"/><ellipse class="p2" cx="765.2" cy="246.2" rx="7.6" ry="10"/><ellipse class="p2" cx="794.3" cy="246.5" rx="7.6" ry="10"/>
</g></g>
<g clip-path="url(#ch)"><g filter="url(#jet)">
<rect x="725.1" y="350.6" width="599.65" height="177.2" fill="#808080"/>
<g class="bg"><path class="w" opacity=".04" d="M738 365L738 373L738 377M769 369L769 373L768 377M767 433L767 437L767 445L766 449M808 365L808 369M883 365L880 373L877 381L874 389L873 393M911 365L908 373L905 381L904 385M886 449L884 453L882 461L881 465M935 365L934 369M913 457L913 461L914 465M912 489L911 493L911 497M948 365L948 373L948 377M971 365L971 369M997 365L997 373L997 377M996 449L997 453L997 457M993 489L994 493L995 497M1026 473L1026 477L1026 485L1026 489M1084 365L1084 373L1084 377M1113 365L1113 373L1113 377M1143 365L1143 373L1143 377M1169 365L1169 373L1169 377M1170 401L1170 405L1170 409M1198 365L1198 369M1198 433L1198 437L1198 441M1200 473L1199 477L1198 485L1198 489M1227 473L1228 477L1228 485L1228 489M1257 365L1258 373L1258 377M1256 473L1256 477L1256 485L1256 489M1287 365L1286 373L1286 377M1287 409L1287 413L1287 421L1287 425M1314 365L1315 373L1315 377"/><path class="w" opacity=".08" d="M738 417L737 421L737 429L737 437L738 441M768 377L768 381L768 385M766 425L767 429L767 433M766 449L766 453L766 457M808 369L807 373L806 377M802 409L802 413L801 421L800 429L799 437L799 441M849 365L847 373L846 377M841 401L840 405L839 409M873 393L872 397L869 405L868 409M904 385L903 389L901 393M934 369L933 373L932 377M919 433L918 437L917 441M915 449L914 453L913 457M948 377L947 381L947 385M940 449L940 453L940 457M938 497L938 501L938 505M971 369L971 373L970 377M968 481L968 485L968 489M969 497L969 501L969 505M1027 365L1027 373L1027 377M1056 365L1056 373L1056 377M1084 377L1084 381L1083 389L1083 393M1113 377L1114 381L1114 385M1142 393L1142 397L1142 405L1142 409M1141 465L1141 469L1141 473M1169 377L1170 381L1170 385M1170 393L1170 397L1170 401M1170 409L1170 413L1169 417M1199 409L1199 413L1198 417M1229 365L1228 369M1227 393L1227 397L1227 401M1228 409L1228 413L1228 417M1258 377L1258 381L1258 385M1257 393L1257 397L1257 401M1256 489L1256 493L1257 497M1286 377L1286 381L1286 385M1287 497L1287 501L1287 509"/><path class="w" opacity=".12" d="M738 377L738 381L739 385M738 409L738 413L738 417M738 441L738 445L738 449M737 497L737 501L737 509M768 385L768 389L767 393M766 417L766 421L766 425M766 457L766 461L766 465M766 505L766 509M806 377L805 381L805 385M803 393L803 397L802 405L802 409M799 441L798 445L797 449M795 497L795 501L796 509M846 377L845 381L844 389L842 397L841 401M839 409L838 413L835 421L834 425M868 409L867 413L866 421L865 425M852 473L852 477L852 485L851 489M851 497L852 501L853 509M922 417L921 421L920 429L919 433M917 441L916 445L915 449M947 385L947 389L947 393M941 433L941 437L940 445L940 449M938 505L938 509M969 417L969 421L969 429L969 437L968 441M967 449L968 453L968 457M969 505L969 509M997 377L997 381L997 385M991 481L992 485L993 489M995 497L996 501L996 505M1028 409L1027 413L1028 417M1029 425L1028 429L1026 437L1025 441M1025 457L1026 461L1026 465M1027 505L1027 509M1056 377L1056 381L1056 385M1058 401L1058 405L1057 413L1058 417M1058 425L1058 429L1057 433M1055 505L1056 509M1083 393L1083 397L1082 401M1080 465L1081 469L1082 477L1081 481M1114 385L1114 389L1114 393M1113 449L1114 453L1114 461L1113 469L1113 473M1143 377L1142 381L1142 385M1142 449L1142 453L1142 457M1170 385L1170 389L1170 393M1168 425L1167 429L1166 433M1166 441L1167 445L1169 453L1172 457M1173 465L1172 469L1170 473M1198 369L1198 373L1198 377M1199 393L1199 397L1199 401M1201 465L1200 469L1200 473M1228 369L1228 373L1228 377M1228 465L1227 469L1227 473M1228 489L1229 493L1229 497M1258 385L1257 389L1257 393M1256 409L1256 413L1255 417M1256 465L1256 469L1256 473M1286 385L1286 389L1286 397L1286 405L1287 409M1288 489L1288 493L1287 497M1315 377L1315 381L1315 385M1314 433L1314 437L1315 445L1315 453L1315 457"/><path class="w" opacity=".16" d="M739 385L739 389L739 393M739 401L738 405L738 409M738 449L738 453L738 457M737 489L737 493L737 497M767 393L767 397L766 405L766 413L766 417M766 465L766 469L766 477L765 481M765 489L765 493L766 501L766 505M805 385L804 389L803 393M797 473L798 477L797 485L795 493L795 497M834 425L833 429L832 433M829 465L830 469L830 477L827 485L823 493L823 501L823 505M865 425L864 429L862 437L861 441M853 465L852 469L852 473M851 489L851 493L851 497M901 393L900 397L899 401M889 441L887 445L886 449M881 465L881 469L881 473M879 489L878 493L879 497M932 377L931 381L930 385M925 401L924 405L922 413L922 417M914 465L915 469L915 477L913 485L912 489M911 497L911 501L911 505M939 465L939 469L939 473M938 481L938 485L938 489M970 377L970 381L969 385M969 393L968 397L968 405L969 413L969 417M968 441L966 445L967 449M967 465L967 469L967 473M997 385L997 389L998 397L998 405L997 409M994 433L993 437L995 445L996 449M993 473L990 477L991 481M1027 377L1027 381L1027 385M1028 393L1029 397L1028 405L1028 409M1028 417L1029 421L1029 425M1025 441L1023 445L1025 453L1025 457M1026 489L1027 493L1027 501L1027 505M1056 385L1056 389L1058 397L1058 401M1058 417L1059 421L1058 425M1057 433L1055 437L1053 445L1054 453L1054 457M1053 489L1053 493L1055 501L1055 505M1082 401L1082 405L1082 409M1082 441L1081 445L1080 453L1079 461L1080 465M1081 481L1081 485L1079 493L1080 497M1113 433L1113 437L1113 445L1113 449M1113 473L1113 477L1113 485L1113 489M1141 433L1140 437L1141 441M1141 473L1140 477L1140 485L1142 493L1143 501L1143 505M1166 433L1166 437L1166 441M1172 457L1174 461L1173 465M1170 473L1167 477L1167 485L1167 489M1169 505L1169 509M1198 417L1198 421L1198 429L1198 433M1198 441L1198 445L1199 449M1201 457L1201 461L1201 465M1228 417L1228 421L1229 429L1229 433M1228 441L1228 445L1228 449M1228 457L1228 461L1228 465M1253 425L1252 429L1255 433M1259 449L1258 453L1255 461L1256 465M1257 497L1257 501L1257 509M1287 433L1287 437L1287 441M1287 473L1288 477L1288 485L1288 489M1315 457L1315 461L1314 469L1314 473M1314 505L1314 509"/><path class="w" opacity=".2" d="M739 393L739 397L739 401M738 457L739 461L738 465M738 481L737 485L737 489M765 481L765 485L765 489M797 449L796 453L796 457M832 433L831 437L830 441M823 505L824 509M861 441L860 445L856 453L853 461L853 465M891 433L890 437L889 441M881 505L882 509M930 385L928 389L926 397L925 401M911 505L911 509M947 393L946 397L946 401M942 425L941 429L941 433M969 385L969 389L969 393M997 409L997 413L996 417M995 425L995 429L994 433M1027 385L1028 389L1028 393M1054 457L1055 461L1055 465M1054 481L1054 485L1053 489M1082 409L1083 413L1083 421L1084 429L1083 437L1082 441M1080 497L1082 501L1084 509M1114 393L1114 397L1113 401M1142 385L1142 389L1142 393M1141 441L1141 445L1142 449M1143 505L1143 509M1168 497L1169 501L1169 505M1199 449L1200 453L1201 457M1198 489L1198 493L1198 497M1228 377L1228 381L1227 389L1227 393M1228 449L1228 453L1228 457M1229 497L1229 501L1228 509M1255 417L1254 421L1253 425M1259 441L1260 445L1259 449M1287 441L1287 445L1287 453L1287 457M1315 385L1315 389L1314 393M1313 425L1314 429L1314 433M1314 497L1314 501L1314 505"/><path class="w" opacity=".24" d="M738 465L738 469L738 477L738 481M796 457L795 461L796 469L797 473M828 457L828 461L829 465M899 401L898 405L898 413L896 417M894 425L893 429L891 433M880 481L880 485L879 489M879 497L880 501L881 505M946 401L945 405L944 413L942 421L942 425M967 473L967 477L968 481M996 417L996 421L995 425M996 505L997 509M1055 473L1055 477L1054 481M1113 401L1113 405L1113 409M1112 425L1112 429L1113 433M1113 489L1112 493L1112 497M1142 425L1142 429L1141 433M1167 489L1168 493L1168 497M1198 377L1198 381L1199 385M1198 505L1198 509M1287 457L1286 461L1287 469L1287 473M1314 393L1314 397L1314 401M1313 417L1313 421L1313 425M1314 473L1313 477L1313 481"/><path class="w" opacity=".28" d="M830 441L829 445L827 453L828 457M896 417L895 421L894 425M881 473L881 477L880 481M939 473L939 477L938 481M1055 465L1055 469L1055 473M1113 409L1113 413L1112 421L1112 425M1112 497L1112 501L1113 509M1142 409L1142 413L1143 421L1142 425M1199 385L1199 389L1199 393M1198 497L1198 501L1198 505M1255 433L1258 437L1259 441M1314 401L1314 405L1313 413L1313 417M1313 481L1313 485L1313 493L1314 497"/><path class="k" opacity=".04" d="M788 365L787 369M923 365L922 369M897 457L896 461L895 465M925 457L924 461L924 465M925 489L925 493L925 497M953 489L952 493L952 497M982 457L983 461L983 469L983 473M983 489L982 493L982 497M1012 473L1012 477L1011 485L1011 489M1041 465L1041 469L1040 473M1128 457L1128 461L1127 465M1155 365L1156 369M1155 417L1155 421L1154 425M1183 365L1184 369M1185 401L1185 405L1185 409M1214 401L1214 405L1214 409M1242 401L1242 405L1242 409M1272 401L1272 405L1272 413L1272 417M1331 365L1331 369"/><path class="k" opacity=".08" d="M723 365L723 369M752 365L753 373L753 377M787 369L787 373L786 377M829 365L827 369M865 365L863 373L862 377M848 425L847 429L846 433M896 365L895 369M922 369L921 373L919 377M907 425L906 429L905 433M942 365L941 369M930 433L929 437L928 441M1012 365L1012 373L1013 377M1013 457L1013 461L1013 465M1040 365L1040 369M1040 473L1040 477L1040 481M1071 365L1071 369M1098 365L1098 369M1097 449L1097 453L1097 457M1156 369L1156 373L1156 377M1184 369L1184 373L1184 377M1184 425L1184 429L1184 433M1186 473L1185 477L1185 481M1213 365L1214 369M1214 441L1214 445L1214 449M1214 473L1214 477L1213 485L1213 489M1243 365L1243 373L1243 377M1271 365L1271 369M1274 449L1274 453L1271 457M1331 369L1331 373L1331 377"/><path class="k" opacity=".12" d="M723 369L723 373L723 377M722 401L722 405L722 413L722 417M722 457L722 461L721 469L722 473M752 401L752 405L751 413L751 421L751 425M827 369L826 373L825 377M820 409L819 413L819 417M854 409L852 413L850 421L848 425M846 433L845 437L844 441M895 369L893 373L892 377M884 409L883 413L880 421L877 429L875 437L874 441M957 365L957 369M953 449L954 453L954 457M982 365L982 369M1013 377L1013 381L1013 389L1013 393M1040 481L1039 485L1039 489M1098 369L1098 373L1098 377M1155 401L1155 405L1155 409M1155 449L1156 453L1156 457M1155 465L1155 469L1154 473M1185 409L1185 413L1184 417M1243 441L1243 445L1242 449M1242 481L1243 485L1243 489M1271 369L1272 373L1272 377M1299 365L1299 369M1300 417L1300 421L1300 425M1330 409L1330 413L1330 417M1330 465L1330 469L1330 477L1330 481"/><path class="k" opacity=".16" d="M722 393L722 397L722 401M753 377L753 381L753 389L752 397L752 401M751 425L751 429L751 437L752 441M751 481L751 485L751 493L751 501L751 505M784 417L784 421L784 429L784 433M780 489L780 493L781 497M821 401L820 405L820 409M819 417L818 421L817 425M811 473L812 477L812 485L809 493L809 497M862 377L862 381L861 385M856 401L855 405L854 409M844 441L843 445L843 449M843 465L844 469L844 477L842 481M838 489L836 493L836 497M892 377L891 381L891 385M887 401L885 405L884 409M872 465L873 469L873 477L869 481M865 489L865 493L865 497M910 409L909 413L908 421L907 425M895 465L894 469L895 473M892 489L891 493L893 497M941 369L940 373L939 377M934 409L934 413L933 417M932 425L931 429L930 433M924 465L924 469L924 473M957 369L957 373L957 377M957 393L957 397L957 401M951 433L950 437L951 441M982 369L982 373L982 377M980 433L979 437L979 441M981 449L982 453L982 457M1013 393L1013 397L1012 401M1009 433L1008 437L1010 441M1040 369L1040 373L1040 377M1043 393L1044 397L1043 401M1042 417L1043 421L1042 429L1040 433M1039 489L1039 493L1039 497M1040 505L1040 509M1071 369L1071 373L1071 377M1072 409L1072 413L1074 421L1073 429L1071 433M1066 457L1065 461L1067 465M1069 481L1068 485L1066 493L1069 501L1070 505M1127 365L1127 373L1127 377M1126 433L1126 437L1126 441M1127 505L1127 509M1156 393L1156 397L1155 401M1154 425L1154 429L1153 437L1154 441M1154 473L1153 477L1153 485L1154 489M1187 457L1188 461L1187 465M1214 369L1214 373L1214 377M1213 425L1213 429L1213 433M1214 449L1215 453L1215 461L1215 465M1243 377L1243 381L1242 385M1241 457L1241 461L1241 465M1242 473L1242 477L1242 481M1243 505L1243 509M1272 417L1271 421L1271 425M1271 457L1269 461L1270 465M1273 473L1275 477L1275 485L1274 489M1299 369L1299 373L1299 377M1300 497L1299 501L1299 509M1331 377L1331 381L1330 385M1330 401L1330 405L1330 409M1330 417L1330 421L1331 425"/><path class="k" opacity=".2" d="M723 377L723 381L722 389L722 393M722 417L722 421L723 425M723 449L722 453L722 457M722 473L722 477L722 481M752 441L752 445L752 449M751 473L751 477L751 481M751 505L751 509M784 409L784 413L784 417M784 433L783 437L783 441M781 481L781 485L780 489M825 377L824 381L824 385M822 393L821 397L821 401M817 425L816 429L815 433M809 465L810 469L811 473M861 385L860 389L858 397L856 401M842 481L840 485L838 489M891 385L890 389L888 397L887 401M874 441L872 445L872 449M919 377L918 381L917 385M900 449L898 453L897 457M895 473L895 477L893 485L892 489M935 401L935 405L934 409M933 417L933 421L932 425M925 481L925 485L925 489M957 385L957 389L957 393M954 465L954 469L953 473M982 425L981 429L980 433M979 441L980 445L981 449M983 473L983 477L983 481M1012 401L1012 405L1012 409M1013 449L1013 453L1013 457M1042 409L1042 413L1042 417M1040 433L1039 437L1038 445L1039 449M1039 497L1039 501L1040 505M1072 393L1073 397L1073 405L1072 409M1069 441L1068 445L1066 453L1066 457M1098 441L1098 445L1097 449M1097 457L1097 461L1095 469L1096 473M1126 481L1126 485L1126 489M1126 497L1126 501L1127 505M1155 409L1155 413L1155 417M1154 441L1154 445L1155 449M1184 377L1184 381L1184 385M1185 481L1184 485L1184 493L1184 497M1214 409L1214 413L1213 417M1215 465L1215 469L1214 473M1243 425L1243 429L1243 433M1242 449L1242 453L1241 457M1273 441L1274 445L1274 449M1270 465L1272 469L1273 473M1301 409L1300 413L1300 417M1299 433L1299 437L1300 441M1301 473L1302 477L1302 485L1300 493L1300 497M1330 393L1330 397L1330 401M1330 457L1330 461L1330 465M1330 481L1330 485L1330 489M1331 505L1331 509"/><path class="k" opacity=".24" d="M723 425L723 429L723 433M723 441L723 445L723 449M752 465L751 469L751 473M786 377L786 381L785 385M781 497L781 501L781 505M824 385L823 389L822 393M815 433L814 437L813 441M843 449L842 453L842 461L843 465M836 497L837 501L837 509M871 457L871 461L872 465M912 401L911 405L910 409M926 449L925 453L925 457M957 377L957 381L957 385M957 401L957 405L956 409M951 441L952 445L953 449M952 497L952 501L952 505M983 417L983 421L982 425M983 481L983 485L983 489M1012 409L1012 413L1011 417M1011 489L1011 493L1011 497M1043 401L1042 405L1042 409M1039 449L1039 453L1040 461L1041 465M1071 433L1070 437L1069 441M1067 465L1068 469L1069 477L1069 481M1070 505L1071 509M1098 425L1098 429L1098 437L1098 441M1128 393L1127 397L1127 405L1126 413L1126 417M1127 449L1128 453L1128 457M1127 473L1126 477L1126 481M1126 489L1126 493L1126 497M1156 377L1156 381L1156 385M1185 393L1185 397L1185 401M1184 433L1183 437L1184 441M1187 465L1186 469L1186 473M1301 401L1301 405L1301 409M1301 449L1301 453L1301 457M1330 385L1330 389L1330 393M1331 425L1331 429L1331 433"/><path class="k" opacity=".28" d="M723 433L723 437L723 441M752 449L752 453L752 461L752 465M784 401L784 405L784 409M783 441L782 445L782 449M780 473L781 477L781 481M810 457L809 461L809 465M809 497L809 501L809 505M872 449L871 453L871 457M869 481L866 485L865 489M865 497L866 501L866 509M917 385L915 389L913 397L912 401M924 473L924 477L925 481M953 481L953 485L953 489M952 505L952 509M983 409L983 413L983 417M982 497L982 501L982 505M1127 377L1128 381L1128 389L1128 393M1126 417L1126 421L1126 429L1126 433M1126 441L1127 445L1127 449M1127 465L1127 469L1127 473M1154 489L1154 493L1155 497M1185 449L1186 453L1187 457M1184 497L1183 501L1183 505M1213 489L1213 493L1213 497M1242 393L1242 397L1242 401M1242 409L1242 413L1243 417M1241 465L1241 469L1242 473M1243 489L1243 493L1243 501L1243 505M1272 377L1272 381L1272 385M1274 489L1272 493L1272 497M1299 377L1299 381L1300 385M1300 393L1301 397L1301 401M1300 441L1300 445L1301 449M1330 489L1331 493L1331 501L1331 505"/><path class="k" opacity=".32" d="M722 481L722 485L722 489M785 385L785 389L785 393M813 441L812 445L810 453L810 457M905 433L904 437L902 441M939 377L938 381L937 385M1011 417L1011 421L1010 429L1009 433M1010 441L1012 445L1013 449M1012 505L1012 509M1041 385L1042 389L1043 393M1071 377L1070 381L1071 385M1098 377L1097 381L1097 385M1098 417L1098 421L1098 425M1096 473L1097 477L1097 481M1156 385L1156 389L1156 393M1155 497L1155 501L1156 509M1183 505L1184 509M1214 377L1214 381L1214 385M1215 393L1215 397L1214 401M1213 417L1213 421L1213 425M1213 505L1214 509M1242 385L1242 389L1242 393M1272 497L1271 501L1271 509M1300 385L1300 389L1300 393M1331 433L1331 437L1331 441M1331 449L1330 453L1330 457"/><path class="k" opacity=".36" d="M722 489L723 493L723 501L723 509M785 393L784 397L784 401M782 449L781 453L780 461L780 469L780 473M781 505L781 509M809 505L809 509M902 441L901 445L900 449M893 497L894 501L896 509M937 385L937 389L936 397L935 401M928 441L927 445L926 449M925 497L924 501L924 509M956 409L956 413L955 421L952 429L951 433M953 473L953 477L953 481M982 377L983 381L983 389L983 397L984 405L983 409M982 505L981 509M1011 497L1012 501L1012 505M1040 377L1041 381L1041 385M1071 385L1071 389L1072 393M1097 385L1097 389L1097 397L1097 405L1097 413L1098 417M1097 481L1098 485L1098 493L1098 501L1098 509M1184 385L1185 389L1185 393M1184 441L1184 445L1185 449M1214 385L1215 389L1215 393M1213 497L1213 501L1213 505M1243 417L1243 421L1243 425M1272 385L1273 389L1273 397L1272 401M1271 425L1271 429L1272 437L1273 441M1301 457L1300 461L1301 469L1301 473M1331 441L1331 445L1331 449"/></g><ellipse class="p1" cx="748.2" cy="392.7" rx="7.6" ry="10" opacity=".21"/><ellipse class="p1" cx="774.7" cy="392.7" rx="7.6" ry="10" opacity=".21"/><ellipse class="p1" cx="800.4" cy="392.7" rx="7.6" ry="10" opacity=".21"/><ellipse class="p1" cx="826.9" cy="392.7" rx="7.6" ry="10" opacity=".21"/><ellipse class="p1" cx="853.4" cy="392.7" rx="7.6" ry="10" opacity=".21"/><ellipse class="p1" cx="879.9" cy="392.7" rx="7.6" ry="10" opacity=".21"/><ellipse class="p1" cx="907.2" cy="392.7" rx="7.6" ry="10" opacity=".21"/><ellipse class="n1" cx="761.1" cy="392.7" rx="7.6" ry="10" opacity=".21"/><ellipse class="n1" cx="787.6" cy="392.7" rx="7.6" ry="10" opacity=".21"/><ellipse class="n1" cx="813.8" cy="392.7" rx="7.6" ry="10" opacity=".21"/><ellipse class="n1" cx="840.1" cy="392.7" rx="7.6" ry="10" opacity=".21"/><ellipse class="n1" cx="866.6" cy="392.7" rx="7.6" ry="10" opacity=".21"/><ellipse class="n1" cx="893.6" cy="392.7" rx="7.6" ry="10" opacity=".21"/><ellipse class="p1" cx="756.2" cy="410.4" rx="7.6" ry="12" opacity=".24"/><ellipse class="p1" cx="785.2" cy="410.4" rx="7.6" ry="12" opacity=".24"/><ellipse class="p1" cx="813.3" cy="410.4" rx="7.6" ry="12" opacity=".24"/><ellipse class="p1" cx="841.4" cy="410.4" rx="7.6" ry="12" opacity=".24"/><ellipse class="p1" cx="870.3" cy="410.4" rx="7.6" ry="12" opacity=".24"/><ellipse class="n1" cx="770.7" cy="410.4" rx="7.6" ry="12" opacity=".24"/><ellipse class="n1" cx="799.3" cy="410.4" rx="7.6" ry="12" opacity=".24"/><ellipse class="n1" cx="827.2" cy="410.4" rx="7.6" ry="12" opacity=".24"/><ellipse class="n1" cx="855.8" cy="410.4" rx="7.6" ry="12" opacity=".24"/><ellipse class="n1" cx="884.8" cy="410.4" rx="7.6" ry="12" opacity=".24"/><ellipse class="p1" cx="987.6" cy="470.6" rx="6.5" ry="9" opacity=".29"/><ellipse class="p1" cx="933" cy="434.5" rx="7" ry="12" opacity=".29" transform="rotate(15 933 434.5)"/><ellipse class="p1" cx="902.4" cy="423.2" rx="7" ry="13" opacity=".29"/><ellipse class="p1" cx="968.3" cy="399.1" rx="7" ry="14" opacity=".29"/><ellipse class="p1" cx="999.6" cy="402.3" rx="7" ry="14" opacity=".29"/><ellipse class="p1" cx="864.7" cy="457" rx="7" ry="9.5" opacity=".29"/><ellipse class="p1" cx="766.7" cy="471.4" rx="7" ry="9.5" opacity=".29"/><ellipse class="p1" cx="1030.6" cy="421.6" rx="7" ry="13" opacity=".29"/><ellipse class="n1" cx="1045.1" cy="421.6" rx="7" ry="13" opacity=".29"/><ellipse class="p1" cx="1060.7" cy="421.6" rx="7" ry="13" opacity=".29"/><ellipse class="n1" cx="1075.9" cy="421.6" rx="7" ry="13" opacity=".29"/><ellipse class="n1" cx="1136.6" cy="421.6" rx="7" ry="13" opacity=".29"/><ellipse class="n1" cx="1167.2" cy="421.6" rx="7" ry="13" opacity=".29"/><ellipse class="p1" cx="1182.4" cy="421.6" rx="7" ry="13" opacity=".29"/><ellipse class="n1" cx="1151.9" cy="437.7" rx="7.6" ry="9" opacity=".29"/><ellipse class="p1" cx="1164" cy="437.7" rx="7.6" ry="9" opacity=".29"/><ellipse class="p1" cx="1262.8" cy="448.9" rx="7.6" ry="9" opacity=".29"/><ellipse class="n1" cx="1227.7" cy="481.4" rx="7.6" ry="8.5" opacity=".29"/><ellipse class="n1" cx="1252.8" cy="481.4" rx="7.6" ry="8.5" opacity=".29"/><ellipse class="p1" cx="1005.2" cy="491.5" rx="7.6" ry="8.5" opacity=".36"/><ellipse class="p1" cx="1006.8" cy="459.4" rx="7.6" ry="8.5" opacity=".36"/><ellipse class="p1" cx="1091.2" cy="421.6" rx="7" ry="13" opacity=".35"/><ellipse class="n1" cx="1106.1" cy="421.6" rx="7" ry="13" opacity=".35"/><ellipse class="p1" cx="1121.1" cy="421.6" rx="7" ry="13" opacity=".35"/><ellipse class="p1" cx="1151.9" cy="421.6" rx="7" ry="13" opacity=".35"/><ellipse class="n1" cx="1125.4" cy="437.7" rx="7.6" ry="9" opacity=".36"/><ellipse class="p1" cx="1139.1" cy="437.7" rx="7.6" ry="9" opacity=".36"/><ellipse class="n1" cx="1089.7" cy="459.7" rx="7.6" ry="8.5" opacity=".36"/><ellipse class="p1" cx="1101.8" cy="459.7" rx="7.6" ry="8.5" opacity=".36"/><ellipse class="n1" cx="1202.5" cy="481.4" rx="7.6" ry="8.5" opacity=".36"/><ellipse class="p1" cx="1215.4" cy="481.4" rx="7.6" ry="8.5" opacity=".36"/><ellipse class="p1" cx="1240.3" cy="481.4" rx="7.6" ry="8.5" opacity=".36"/><ellipse class="n1" cx="1038.7" cy="492" rx="7.6" ry="8.5" opacity=".36"/><ellipse class="n1" cx="948.2" cy="437.7" rx="7.6" ry="8.5" opacity=".42"/><ellipse class="p1" cx="1021.3" cy="445.7" rx="7.6" ry="8.5" opacity=".42"/><ellipse class="p1" cx="989.2" cy="481.1" rx="6.5" ry="9" opacity=".42"/><ellipse class="p1" cx="1030.6" cy="397.5" rx="7" ry="13" opacity=".4"/><ellipse class="n1" cx="1045.1" cy="397.5" rx="7" ry="13" opacity=".4"/><ellipse class="p1" cx="1112.6" cy="437.7" rx="7.6" ry="9" opacity=".42"/><ellipse class="n1" cx="1275.6" cy="448.9" rx="7.6" ry="9" opacity=".42"/><ellipse class="n1" cx="1063.6" cy="459.7" rx="7.6" ry="8.5" opacity=".42"/><ellipse class="p1" cx="1125.9" cy="459.7" rx="7.6" ry="8.5" opacity=".42"/><ellipse class="p1" cx="1264.8" cy="481.4" rx="7.6" ry="8.5" opacity=".42"/><ellipse class="n1" cx="1277.2" cy="481.1" rx="7.6" ry="8.5" opacity=".42"/><ellipse class="n1" cx="1302.6" cy="480.7" rx="7.6" ry="8.5" opacity=".42"/><ellipse class="n1" cx="889.3" cy="492.3" rx="7.6" ry="8.5" opacity=".48"/><ellipse class="p1" cx="901.6" cy="492.3" rx="7.6" ry="8.5" opacity=".48"/><ellipse class="n1" cx="992.4" cy="491.5" rx="7.6" ry="8.5" opacity=".48"/><ellipse class="p1" cx="832.6" cy="469.8" rx="6.8" ry="9.5" opacity=".46" transform="rotate(12 832.6 469.8)"/><ellipse class="n1" cx="880.7" cy="458.6" rx="7.6" ry="8.5" opacity=".48"/><ellipse class="n1" cx="994" cy="459.9" rx="7.6" ry="8.5" opacity=".48"/><ellipse class="p1" cx="1076.7" cy="459.7" rx="7.6" ry="8.5" opacity=".48"/><ellipse class="p1" cx="1278.8" cy="459" rx="7.6" ry="8.5" opacity=".48"/><ellipse class="p1" cx="1189.7" cy="481.4" rx="7.6" ry="8.5" opacity=".48"/><ellipse class="p1" cx="1289.7" cy="481.1" rx="7.6" ry="8.5" opacity=".48"/><ellipse class="p1" cx="1103.7" cy="492" rx="7.6" ry="8.5" opacity=".48"/><ellipse class="p1" cx="876.7" cy="492.3" rx="7.6" ry="8.5" opacity=".53"/><ellipse class="p1" cx="800.4" cy="478.6" rx="6.8" ry="9.5" opacity=".51" transform="rotate(14 800.4 478.6)"/><ellipse class="p1" cx="916.1" cy="479.4" rx="6.8" ry="9.5" opacity=".51" transform="rotate(14 916.1 479.4)"/><ellipse class="p1" cx="917.2" cy="469.8" rx="6.8" ry="9.5" opacity=".51" transform="rotate(12 917.2 469.8)"/><ellipse class="p1" cx="962.3" cy="437.7" rx="7.6" ry="8.5" opacity=".53"/><ellipse class="p1" cx="1019.4" cy="438.5" rx="7.6" ry="8.5" opacity=".53"/><ellipse class="p1" cx="1060.7" cy="399.9" rx="7" ry="13" opacity=".51"/><ellipse class="p1" cx="1271.3" cy="406.4" rx="7.6" ry="9.5" opacity=".51"/><ellipse class="p1" cx="1249.9" cy="428" rx="7.6" ry="9" opacity=".53"/><ellipse class="p1" cx="1303.7" cy="427.7" rx="7.6" ry="9" opacity=".53"/><ellipse class="p1" cx="1188.9" cy="437.7" rx="7.6" ry="9" opacity=".53"/><ellipse class="p1" cx="1244.3" cy="436.9" rx="7.6" ry="9" opacity=".53"/><ellipse class="n1" cx="1037" cy="447.3" rx="7.6" ry="9" opacity=".53"/><ellipse class="p1" cx="1079.6" cy="447.3" rx="7.6" ry="9" opacity=".53"/><ellipse class="n1" cx="1138.7" cy="459.7" rx="7.6" ry="8.5" opacity=".53"/><ellipse class="p1" cx="1041.9" cy="481.1" rx="7.6" ry="8.5" opacity=".53"/><ellipse class="p1" cx="1113" cy="481.4" rx="7.6" ry="8.5" opacity=".53"/><ellipse class="n1" cx="913.7" cy="492.3" rx="7.6" ry="8.5" opacity=".58"/><ellipse class="p1" cx="979.5" cy="492" rx="7.6" ry="8.5" opacity=".58"/><ellipse class="p1" cx="895.2" cy="458.6" rx="7.6" ry="8.5" opacity=".58"/><ellipse class="p1" cx="991.3" cy="438" rx="7.6" ry="8.5" opacity=".58"/><ellipse class="n1" cx="1001.2" cy="469" rx="6.5" ry="9" opacity=".58"/><ellipse class="n1" cx="1002.8" cy="481.1" rx="6.5" ry="9" opacity=".58"/><ellipse class="p1" cx="1014.9" cy="469.8" rx="6.5" ry="9" opacity=".58"/><ellipse class="p1" cx="1016.2" cy="481.1" rx="6.5" ry="9" opacity=".58"/><ellipse class="n1" cx="1075.9" cy="399.9" rx="7" ry="13" opacity=".55"/><ellipse class="p1" cx="1151.9" cy="401.5" rx="7" ry="13" opacity=".55"/><ellipse class="n1" cx="1256.6" cy="405.6" rx="7.6" ry="9.5" opacity=".55"/><ellipse class="p1" cx="1275.3" cy="415.2" rx="7.6" ry="9" opacity=".58"/><ellipse class="n1" cx="1289.3" cy="415.2" rx="7.6" ry="9" opacity=".58"/><ellipse class="n1" cx="1230.3" cy="437.4" rx="7.6" ry="9" opacity=".58"/><ellipse class="p1" cx="1051.5" cy="447.3" rx="7.6" ry="9" opacity=".58"/><ellipse class="n1" cx="1065.5" cy="447.3" rx="7.6" ry="9" opacity=".58"/><ellipse class="p1" cx="1288.5" cy="449.7" rx="7.6" ry="9" opacity=".58"/><ellipse class="p1" cx="1228.2" cy="459.7" rx="7.6" ry="8.5" opacity=".58"/><ellipse class="p1" cx="1041.1" cy="469.8" rx="7.6" ry="8.5" opacity=".58"/><ellipse class="n1" cx="1176.8" cy="481.4" rx="7.6" ry="8.5" opacity=".58"/><ellipse class="p1" cx="1051.5" cy="492" rx="7.6" ry="8.5" opacity=".58"/><ellipse class="p1" cx="926.5" cy="492" rx="7.6" ry="8.5" opacity=".63"/><ellipse class="p1" cx="829.3" cy="479.4" rx="6.8" ry="9.5" opacity=".6" transform="rotate(14 829.3 479.4)"/><ellipse class="p1" cx="980.3" cy="459.9" rx="7.6" ry="8.5" opacity=".63"/><ellipse class="n1" cx="976.8" cy="437.7" rx="7.6" ry="8.5" opacity=".63"/><ellipse class="n1" cx="1005.2" cy="438" rx="7.6" ry="8.5" opacity=".63"/><ellipse class="p1" cx="1091.2" cy="399.9" rx="7" ry="13" opacity=".6"/><ellipse class="n1" cx="1136.6" cy="401.5" rx="7" ry="13" opacity=".6"/><ellipse class="p1" cx="1242.2" cy="405.6" rx="7.6" ry="9.5" opacity=".6"/><ellipse class="n1" cx="1202.5" cy="437.7" rx="7.6" ry="9" opacity=".63"/><ellipse class="p1" cx="1216.2" cy="437.7" rx="7.6" ry="9" opacity=".63"/><ellipse class="p1" cx="1151.1" cy="459.7" rx="7.6" ry="8.5" opacity=".63"/><ellipse class="p1" cx="1202.5" cy="459.7" rx="7.6" ry="8.5" opacity=".63"/><ellipse class="n1" cx="1215.4" cy="459.7" rx="7.6" ry="8.5" opacity=".63"/><ellipse class="n1" cx="1266.4" cy="459" rx="7.6" ry="8.5" opacity=".63"/><ellipse class="p1" cx="1164.4" cy="481.4" rx="7.6" ry="8.5" opacity=".63"/><ellipse class="p1" cx="953" cy="492" rx="7.6" ry="8.5" opacity=".66"/><ellipse class="n1" cx="814.9" cy="479.4" rx="6.8" ry="9.5" opacity=".63" transform="rotate(14 814.9 479.4)"/><ellipse class="n1" cx="846.5" cy="469.8" rx="6.8" ry="9.5" opacity=".63" transform="rotate(12 846.5 469.8)"/><ellipse class="p1" cx="1121.1" cy="400.7" rx="7" ry="13" opacity=".63"/><ellipse class="n1" cx="1167.2" cy="403.1" rx="7" ry="13" opacity=".63"/><ellipse class="p1" cx="1213" cy="405.6" rx="7.6" ry="9.5" opacity=".63"/><ellipse class="n1" cx="1240.6" cy="459.4" rx="7.6" ry="8.5" opacity=".66"/><ellipse class="p1" cx="1253.6" cy="459" rx="7.6" ry="8.5" opacity=".66"/><ellipse class="n1" cx="902.1" cy="478.6" rx="6.8" ry="9.5" opacity=".66" transform="rotate(14 902.1 478.6)"/><ellipse class="n1" cx="1106.1" cy="399.9" rx="7" ry="13" opacity=".66"/><ellipse class="p1" cx="1182.4" cy="403.9" rx="7" ry="13" opacity=".66"/><ellipse class="n1" cx="1227.7" cy="405.6" rx="7.6" ry="9.5" opacity=".66"/><ellipse class="n1" cx="1263.6" cy="427.7" rx="7.6" ry="9" opacity=".69"/><ellipse class="n1" cx="1301.6" cy="449.2" rx="7.6" ry="9" opacity=".69"/><ellipse class="p1" cx="1176.5" cy="459.7" rx="7.6" ry="8.5" opacity=".69"/><ellipse class="n1" cx="1028.2" cy="469.8" rx="7.6" ry="8.5" opacity=".69"/><ellipse class="n1" cx="1028.2" cy="481.1" rx="7.6" ry="8.5" opacity=".69"/><ellipse class="n1" cx="1125.9" cy="481.4" rx="7.6" ry="8.5" opacity=".69"/><ellipse class="p1" cx="1138.7" cy="481.4" rx="7.6" ry="8.5" opacity=".69"/><ellipse class="n1" cx="1151.9" cy="481.4" rx="7.6" ry="8.5" opacity=".69"/><ellipse class="p1" cx="1077.2" cy="492" rx="7.6" ry="8.5" opacity=".69"/><ellipse class="n1" cx="1090.4" cy="492" rx="7.6" ry="8.5" opacity=".69"/><ellipse class="n1" cx="939.7" cy="492" rx="7.6" ry="8.5" opacity=".72"/><ellipse class="n1" cx="966.4" cy="492" rx="7.6" ry="8.5" opacity=".72"/><ellipse class="p1" cx="859.4" cy="477.8" rx="6.8" ry="9.5" opacity=".69" transform="rotate(14 859.4 477.8)"/><ellipse class="p1" cx="861" cy="469" rx="6.8" ry="9.5" opacity=".69" transform="rotate(12 861 469)"/><ellipse class="n1" cx="1198" cy="405.2" rx="7.6" ry="9.5" opacity=".69"/><ellipse class="n1" cx="1163.6" cy="459.7" rx="7.6" ry="8.5" opacity=".72"/><ellipse class="n1" cx="1064.4" cy="492" rx="7.6" ry="8.5" opacity=".72"/><ellipse class="n1" cx="863.9" cy="492.5" rx="7" ry="9.5" opacity=".72"/><ellipse class="n1" cx="843.8" cy="478.6" rx="6.8" ry="9.5" opacity=".72" transform="rotate(14 843.8 478.6)"/><ellipse class="n1" cx="903.2" cy="469.8" rx="6.8" ry="9.5" opacity=".72" transform="rotate(12 903.2 469.8)"/><ellipse class="p1" cx="924.1" cy="459.4" rx="7.6" ry="8.5" opacity=".76"/><ellipse class="p1" cx="952.6" cy="459.9" rx="7.6" ry="8.5" opacity=".76"/><ellipse class="n1" cx="966.4" cy="459.9" rx="7.6" ry="8.5" opacity=".76"/><ellipse class="p1" cx="1277.2" cy="427.7" rx="7.6" ry="9" opacity=".76"/><ellipse class="n1" cx="1189.3" cy="459.7" rx="7.6" ry="8.5" opacity=".76"/><ellipse class="p1" cx="888" cy="477.8" rx="6.8" ry="9.5" opacity=".76" transform="rotate(14 888 477.8)"/><ellipse class="n1" cx="909.7" cy="458.9" rx="7.6" ry="8.5" opacity=".8"/><ellipse class="n1" cx="873.5" cy="477.8" rx="6.8" ry="9.5" opacity=".79" transform="rotate(14 873.5 477.8)"/><ellipse class="p1" cx="889.1" cy="469.8" rx="6.8" ry="9.5" opacity=".79" transform="rotate(12 889.1 469.8)"/><ellipse class="n1" cx="1291.3" cy="427.7" rx="7.6" ry="9" opacity=".83"/><ellipse class="p1" cx="849.8" cy="492.5" rx="7" ry="9.5" opacity=".83"/><ellipse class="n1" cx="875.1" cy="469" rx="6.8" ry="9.5" opacity=".87" transform="rotate(12 875.1 469)"/><ellipse class="n1" cx="938.6" cy="459.4" rx="7.6" ry="8.5" opacity=".91"/><ellipse class="n2" cx="835.8" cy="492.6" rx="7" ry="9.5"/><ellipse class="p2" cx="821.7" cy="492.7" rx="7" ry="9.5"/><ellipse class="n2" cx="807.7" cy="492.8" rx="7.6" ry="9.5"/><ellipse class="n2" cx="751.4" cy="493.1" rx="7.6" ry="9.5"/><ellipse class="p2" cx="765.5" cy="493" rx="7.6" ry="9.5"/><ellipse class="n2" cx="779.5" cy="492.9" rx="7.6" ry="9.5"/><ellipse class="p2" cx="793.6" cy="492.9" rx="7.6" ry="9.5"/>
</g></g>
<g clip-path="url(#cf)"><g filter="url(#jet)">
<rect x="1384.75" y="203.1" width="599" height="177.9" fill="#808080"/>
<g class="bg"><path class="w" opacity=".04" d="M1385 217L1386 225L1387 229M1415 217L1416 221M1422 325L1422 329L1422 337L1422 345L1422 349M1449 341L1449 345L1449 353L1450 361M1476 277L1476 281L1476 285M1479 349L1479 353L1480 361M1530 217L1530 221M1536 333L1536 337L1536 341M1560 261L1560 265L1561 269M1565 349L1566 353L1565 361M1585 217L1585 225L1585 229M1586 237L1586 241L1586 245M1588 261L1588 265L1589 269M1593 333L1594 337L1594 341M1609 217L1610 225L1611 229M1612 237L1612 241L1612 245M1624 349L1624 353L1625 361M1622 217L1624 225L1625 229M1639 217L1640 221M1683 269L1684 273L1686 277M1699 237L1700 241L1702 245M1708 261L1708 265L1711 273L1712 277M1726 309L1727 313L1729 317M1720 217L1721 221M1749 293L1750 297L1751 301M1757 317L1758 321L1760 325M1747 217L1750 225L1752 229M1765 261L1766 265L1767 269M1777 217L1780 225L1782 229M1800 277L1801 281L1804 289L1805 293M1819 325L1820 329L1821 333M1811 217L1812 221M1848 325L1849 329L1851 337L1852 341M1876 317L1877 321L1878 325M1895 217L1895 221M1930 217L1930 225L1930 229M1962 221L1962 225L1962 233L1962 237M1966 301L1966 305L1966 313L1966 317M1991 217L1991 225L1992 229M1992 269L1993 273L1993 277"/><path class="w" opacity=".08" d="M1387 229L1387 233L1387 237M1390 301L1391 305L1391 313L1391 317M1391 349L1392 353L1392 361M1416 221L1416 225L1417 229M1419 261L1419 265L1418 269M1422 317L1422 321L1422 325M1422 349L1422 353L1422 361M1443 217L1443 221M1445 261L1445 265L1445 273L1446 281L1447 285M1448 333L1448 337L1449 341M1473 217L1474 225L1476 233L1477 237M1476 285L1477 289L1478 297L1480 301M1480 341L1480 345L1479 349M1502 217L1503 221M1508 309L1508 313L1508 317M1509 357L1509 361M1534 317L1534 321L1535 329L1536 333M1536 341L1537 345L1537 353L1536 357M1559 217L1559 225L1559 233L1559 237M1559 245L1559 249L1559 253M1561 269L1561 273L1562 277M1562 293L1563 297L1562 305L1562 313L1563 321L1563 325M1565 341L1565 345L1565 349M1585 229L1585 233L1586 237M1586 245L1586 249L1587 253M1590 277L1590 281L1590 285M1591 317L1591 321L1592 329L1593 333M1594 341L1594 345L1594 353L1594 361M1611 229L1611 233L1612 237M1622 333L1622 337L1624 345L1624 349M1644 309L1645 313L1647 321L1649 325M1640 221L1642 225L1643 229M1677 333L1677 337L1678 341M1671 237L1672 241L1674 245M1679 261L1681 265L1683 269M1709 341L1711 345L1711 353L1711 361M1690 217L1693 225L1695 229M1715 285L1717 289L1720 297L1722 301M1738 349L1738 353L1738 361M1721 221L1723 225L1724 229M1738 261L1738 265L1740 269M1751 301L1753 305L1754 309M1752 229L1754 233L1755 237M1776 293L1777 297L1779 301M1794 341L1795 345L1795 349M1782 229L1784 233L1786 237M1825 349L1824 353L1824 357M1812 221L1814 225L1815 229M1821 245L1823 249L1825 257L1826 261M1837 293L1838 297L1839 301M1843 309L1845 313L1846 317M1850 217L1852 225L1854 233L1857 241L1859 249L1860 253M1876 309L1875 313L1876 317M1895 221L1895 225L1896 229M1898 245L1899 249L1901 257L1902 265L1903 269M1911 333L1912 337L1912 341M1930 229L1930 233L1931 241L1931 249L1932 257L1933 261M1938 333L1939 337L1939 341M1962 237L1962 241L1962 249L1963 253M1966 285L1966 289L1966 297L1966 301M1966 317L1966 321L1967 325M1992 229L1992 233L1992 237M1992 261L1992 265L1992 269M1993 277L1993 281L1994 289L1995 293M1996 333L1996 337L1996 341"/><path class="w" opacity=".12" d="M1390 293L1390 297L1390 301M1391 317L1391 321L1391 329L1391 337L1391 345L1391 349M1420 253L1419 257L1419 261M1418 269L1418 273L1417 277M1443 221L1444 225L1445 229M1447 253L1446 257L1445 261M1503 221L1503 225L1504 229M1507 301L1507 305L1508 309M1508 317L1508 321L1508 325M1508 349L1508 353L1509 357M1530 221L1530 225L1530 229M1530 245L1530 249L1531 253M1532 261L1532 265L1533 273L1533 277M1536 357L1536 361M1559 237L1559 241L1559 245M1562 285L1562 289L1562 293M1563 325L1563 329L1564 337L1565 341M1589 269L1589 273L1590 277M1590 309L1591 313L1591 317M1612 253L1612 257L1612 261M1620 317L1621 321L1621 329L1622 333M1625 229L1626 233L1626 237M1637 285L1638 289L1640 293M1643 301L1643 305L1644 309M1649 325L1651 329L1650 333M1651 349L1651 353L1650 361M1662 285L1662 289L1664 293M1678 341L1679 345L1679 349M1665 217L1666 221M1676 253L1678 257L1679 261M1706 333L1707 337L1709 341M1695 229L1697 233L1699 237M1702 245L1703 249L1708 257L1708 261M1737 341L1738 345L1738 349M1724 229L1725 233L1728 241L1730 245M1743 277L1745 281L1746 285M1760 325L1762 329L1766 337L1767 341M1783 309L1784 313L1786 317M1786 237L1787 241L1789 245M1797 269L1799 273L1800 277M1813 309L1815 313L1816 317M1815 229L1817 233L1820 241L1821 245M1826 261L1827 265L1828 269M1860 253L1861 257L1862 261M1882 349L1882 353L1882 357M1896 229L1896 233L1897 241L1898 245M1903 269L1903 273L1904 277M1908 317L1909 321L1911 329L1911 333M1933 261L1933 265L1934 269M1936 317L1936 321L1938 329L1938 333M1940 349L1940 353L1940 357M1963 253L1963 257L1964 265L1965 273L1966 281L1966 285M1967 325L1967 329L1967 333M1992 237L1992 241L1992 249L1992 257L1992 261M1995 293L1995 297L1995 301M1996 325L1996 329L1996 333M1996 341L1996 345L1997 349"/><path class="w" opacity=".16" d="M1387 237L1388 241L1388 245M1389 285L1389 289L1390 293M1419 237L1420 241L1420 249L1420 253M1417 277L1416 281L1416 289L1418 293M1420 301L1420 305L1421 313L1422 317M1447 237L1448 241L1448 249L1447 253M1447 285L1447 289L1450 297L1450 305L1450 309M1448 325L1448 329L1448 333M1477 237L1478 241L1478 249L1477 253M1480 301L1482 305L1483 313L1482 317M1480 333L1480 337L1480 341M1506 237L1506 241L1508 249L1508 257L1506 265L1505 269M1506 293L1507 297L1507 301M1508 325L1508 329L1508 337L1508 345L1508 349M1531 253L1532 257L1532 261M1533 277L1533 281L1533 285M1533 301L1533 305L1534 313L1534 317M1562 277L1562 281L1562 285M1590 301L1590 305L1590 309M1612 269L1612 273L1614 277M1620 309L1620 313L1620 317M1626 237L1627 241L1627 249L1630 253M1635 269L1636 273L1636 281L1637 285M1640 293L1643 297L1643 301M1650 333L1650 337L1651 345L1651 349M1651 245L1652 249L1652 253M1653 261L1654 265L1656 273L1662 281L1662 285M1671 309L1671 313L1672 317M1674 325L1676 329L1677 333M1679 349L1680 353L1680 361M1666 221L1667 225L1669 229M1674 245L1675 249L1676 253M1689 285L1691 289L1692 293M1729 317L1730 321L1732 325M1734 333L1735 337L1737 341M1734 253L1737 257L1738 261M1767 341L1769 345L1769 353L1768 361M1755 237L1757 241L1759 245M1762 253L1763 257L1765 261M1795 349L1795 353L1795 361M1789 245L1791 249L1792 253M1824 357L1824 361M1828 269L1830 273L1831 277M1853 349L1853 353L1853 357M1869 293L1870 297L1876 305L1876 309M1882 357L1881 361M1907 309L1907 313L1908 317M1913 349L1912 353L1912 357M1934 269L1934 273L1935 277M1936 301L1936 305L1936 313L1936 317M1967 333L1968 337L1968 341M1995 301L1996 305L1996 313L1996 321L1996 325M1997 349L1997 353L1997 357"/><path class="w" opacity=".2" d="M1388 245L1388 249L1388 253M1388 277L1388 281L1389 285M1417 229L1418 233L1419 237M1418 293L1419 297L1420 301M1445 229L1446 233L1447 237M1449 317L1449 321L1448 325M1477 253L1477 257L1476 265L1476 269M1482 317L1481 321L1480 329L1480 333M1504 229L1505 233L1506 237M1505 269L1504 273L1505 277M1533 285L1534 289L1533 297L1533 301M1612 261L1613 265L1612 269M1619 301L1620 305L1620 309M1630 253L1632 257L1634 265L1635 269M1643 229L1645 233L1647 237M1672 317L1673 321L1674 325M1669 229L1670 233L1671 237M1702 325L1704 329L1706 333M1712 277L1714 281L1715 285M1722 301L1724 305L1726 309M1730 245L1731 249L1734 253M1759 245L1760 249L1762 253M1779 301L1781 305L1783 309M1834 285L1837 289L1837 293M1862 261L1863 265L1864 269M1867 285L1868 289L1869 293M1880 333L1881 337L1881 341M1904 277L1904 281L1904 285M1906 301L1906 305L1907 309M1968 341L1969 345L1969 349M1969 357L1969 361M1997 357L1997 361"/><path class="w" opacity=".24" d="M1388 253L1388 257L1388 265L1388 273L1388 277M1450 309L1449 313L1449 317M1476 269L1476 273L1476 277M1505 285L1506 289L1506 293M1530 229L1530 233L1530 237M1590 285L1590 289L1590 297L1590 301M1617 285L1618 289L1619 297L1619 301M1647 237L1650 241L1651 245M1652 253L1652 257L1653 261M1668 301L1670 305L1671 309M1686 277L1688 281L1689 285M1732 325L1733 329L1734 333M1740 269L1742 273L1743 277M1792 253L1794 257L1795 261M1809 301L1811 305L1813 309M1831 277L1832 281L1834 285M1839 301L1841 305L1843 309M1864 269L1865 273L1866 281L1867 285M1904 285L1904 289L1905 293M1935 277L1935 281L1935 289L1936 297L1936 301M1969 349L1969 353L1969 357"/><path class="w" opacity=".28" d="M1505 277L1505 281L1505 285M1530 237L1530 241L1530 245M1614 277L1616 281L1617 285M1664 293L1665 297L1668 301M1692 293L1694 297L1696 305L1698 313L1701 321L1702 325M1795 261L1796 265L1797 269M1805 293L1807 297L1809 301M1853 357L1854 361M1878 325L1879 329L1880 333M1905 293L1905 297L1906 301M1912 357L1912 361M1940 357L1940 361"/><path class="k" opacity=".04" d="M1406 357L1406 361M1462 253L1462 257L1462 261M1516 217L1516 221M1547 261L1546 265L1547 269M1575 269L1576 273L1576 277M1600 245L1600 249L1601 253M1603 269L1604 273L1604 277M1620 245L1621 249L1622 253M1630 217L1631 221M1706 293L1707 297L1708 301M1722 261L1723 265L1725 273L1726 277M1729 285L1730 289L1732 293M1739 309L1741 313L1742 317M1732 217L1735 225L1736 229M1743 245L1745 249L1747 253M1757 285L1759 289L1760 293M1767 309L1769 313L1771 317M1802 325L1804 329L1807 337L1809 341M1830 317L1830 321L1833 329L1835 333M1861 317L1862 321L1864 329L1865 333M1873 217L1875 225L1875 229M1891 317L1891 321L1892 325M1914 217L1914 221"/><path class="k" opacity=".08" d="M1372 217L1372 225L1372 229M1400 217L1400 225L1401 229M1406 349L1406 353L1406 357M1436 357L1436 361M1458 217L1458 225L1459 229M1465 357L1464 361M1516 221L1517 225L1517 229M1549 309L1549 313L1549 321L1549 325M1575 261L1575 265L1575 269M1599 217L1599 221M1602 261L1602 265L1603 269M1604 277L1605 281L1605 285M1638 349L1638 353L1637 361M1631 221L1632 225L1634 229M1657 237L1658 241L1659 245M1695 349L1695 353L1695 361M1678 217L1680 225L1682 229M1697 269L1699 273L1701 277M1704 285L1705 289L1706 293M1708 301L1710 305L1711 309M1703 217L1705 221M1742 317L1744 321L1745 325M1760 293L1762 297L1764 301M1771 317L1772 321L1775 329L1778 337L1779 341M1763 217L1765 221M1778 261L1780 265L1782 269M1795 217L1796 221M1822 293L1823 297L1825 301M1835 333L1836 337L1838 341M1831 217L1834 225L1836 233L1837 237M1865 333L1866 337L1867 341M1875 229L1876 233L1876 237M1914 221L1915 225L1915 229M1977 217L1977 221"/><path class="k" opacity=".12" d="M1372 229L1372 233L1373 237M1376 301L1376 305L1377 313L1378 321L1378 325M1401 229L1402 233L1404 237M1404 293L1404 297L1405 301M1406 341L1406 345L1406 349M1429 217L1429 221M1431 261L1431 265L1431 269M1436 349L1436 353L1436 357M1463 245L1463 249L1462 253M1517 229L1518 233L1519 237M1520 293L1520 297L1520 305L1520 313L1520 317M1522 357L1522 361M1545 217L1545 221M1549 253L1547 257L1547 261M1547 269L1547 273L1548 277M1549 301L1549 305L1549 309M1549 325L1549 329L1550 333M1552 357L1552 361M1573 217L1573 225L1573 229M1573 245L1573 249L1575 253M1576 277L1577 281L1577 285M1578 301L1578 305L1577 309M1581 357L1581 361M1616 217L1617 221M1622 253L1622 257L1623 261M1637 341L1638 345L1638 349M1650 285L1650 289L1651 293M1657 309L1658 313L1659 317M1651 217L1653 225L1655 233L1657 237M1676 285L1676 289L1677 293M1682 309L1683 313L1684 317M1682 229L1683 233L1686 241L1687 245M1694 261L1695 265L1697 269M1714 317L1715 321L1717 325M1725 357L1725 361M1705 221L1706 225L1708 229M1712 237L1713 241L1715 245M1720 253L1722 257L1722 261M1736 229L1738 233L1740 237M1750 261L1751 265L1754 273L1755 277M1765 221L1767 225L1768 229M1798 309L1799 313L1800 317M1796 221L1798 225L1799 229M1804 245L1805 249L1806 253M1827 309L1829 313L1830 317M1837 237L1839 241L1839 245M1876 237L1877 241L1877 245M1924 333L1925 337L1925 341M1947 217L1947 225L1947 233L1947 241L1948 249L1948 253M1977 221L1977 225L1977 229M1978 253L1979 257L1980 265L1980 269"/><path class="k" opacity=".16" d="M1375 293L1375 297L1376 301M1378 325L1379 329L1379 333M1378 357L1378 361M1404 237L1405 241L1405 245M1403 285L1403 289L1404 293M1405 301L1405 305L1406 313L1406 317M1406 333L1406 337L1406 341M1429 221L1429 225L1430 229M1432 237L1433 241L1433 249L1431 257L1431 261M1431 269L1432 273L1432 277M1435 341L1436 345L1436 349M1459 229L1460 233L1461 237M1463 293L1464 297L1466 305L1466 309M1465 349L1465 353L1465 357M1486 217L1487 221M1489 277L1489 281L1490 289L1490 293M1493 357L1493 361M1519 237L1520 241L1523 249L1520 253M1520 317L1520 321L1520 329L1520 333M1522 349L1522 353L1522 357M1545 221L1545 225L1546 229M1548 245L1551 249L1549 253M1550 333L1550 337L1551 345L1552 353L1552 357M1573 229L1573 233L1573 237M1577 309L1577 313L1578 321L1578 325M1580 349L1581 353L1581 357M1599 221L1599 225L1599 229M1607 325L1608 329L1609 337L1609 341M1617 221L1617 225L1618 229M1623 261L1624 265L1624 273L1625 281L1626 285M1634 229L1635 233L1637 237M1639 245L1639 249L1641 253M1655 301L1657 305L1657 309M1666 357L1666 361M1694 341L1695 345L1695 349M1687 245L1689 249L1691 253M1726 349L1726 353L1725 357M1715 245L1717 249L1720 253M1732 293L1734 297L1737 305L1739 309M1745 325L1747 329L1748 333M1740 237L1742 241L1743 245M1764 301L1765 305L1767 309M1782 269L1783 273L1785 277M1806 253L1808 257L1809 261M1812 269L1814 273L1816 277M1858 301L1861 305L1861 313L1861 317M1890 309L1890 313L1891 317M1917 261L1917 265L1919 273L1919 277M1948 253L1949 257L1949 261M1951 301L1951 305L1951 309M1955 349L1955 353L1955 357M1978 245L1978 249L1978 253M1980 269L1981 273L1981 277M1981 317L1982 321L1982 325"/><path class="k" opacity=".2" d="M1379 333L1379 337L1379 345L1378 353L1378 357M1405 245L1405 249L1404 253M1406 317L1406 321L1406 329L1406 333M1430 229L1431 233L1432 237M1432 277L1433 281L1433 285M1434 333L1435 337L1435 341M1461 237L1462 241L1463 245M1487 221L1487 225L1488 229M1492 245L1492 249L1491 253M1489 261L1489 265L1489 273L1489 277M1490 293L1491 297L1491 301M1492 349L1492 353L1493 357M1519 285L1520 289L1520 293M1520 333L1521 337L1521 345L1522 349M1546 229L1546 233L1545 241L1548 245M1549 293L1549 297L1549 301M1573 237L1573 241L1573 245M1577 293L1578 297L1578 301M1578 325L1578 329L1579 333M1580 341L1580 345L1580 349M1606 317L1607 321L1607 325M1609 341L1610 345L1610 349M1635 333L1636 337L1637 341M1637 237L1638 241L1639 245M1647 269L1648 273L1649 281L1650 285M1651 293L1652 297L1655 301M1673 277L1676 281L1676 285M1679 301L1680 305L1682 309M1691 253L1693 257L1694 261M1748 333L1750 337L1751 341M1795 301L1796 305L1798 309M1799 229L1800 233L1803 241L1804 245M1825 301L1826 305L1827 309M1840 349L1840 353L1840 361M1839 245L1840 249L1841 253M1877 245L1878 249L1879 253M1888 293L1888 297L1889 305L1890 309M1892 325L1893 329L1894 333M1915 229L1915 233L1915 237M1916 253L1916 257L1917 261M1923 325L1923 329L1924 333M1951 293L1951 297L1951 301M1951 309L1952 313L1952 317M1955 357L1955 361M1977 229L1977 233L1977 241L1978 245M1981 309L1981 313L1981 317"/><path class="k" opacity=".24" d="M1373 237L1373 241L1374 245M1375 285L1375 289L1375 293M1433 285L1433 289L1433 293M1462 261L1462 265L1462 269M1462 285L1462 289L1463 293M1466 309L1465 313L1465 317M1466 341L1466 345L1465 349M1490 237L1491 241L1492 245M1491 301L1492 305L1492 309M1575 253L1576 257L1575 261M1579 333L1579 337L1580 341M1600 237L1600 241L1600 245M1626 285L1627 289L1628 293M1662 325L1664 329L1664 333M1666 349L1666 353L1666 357M1690 333L1692 337L1694 341M1701 277L1703 281L1704 285M1724 341L1726 345L1726 349M1708 229L1710 233L1712 237M1752 357L1751 361M1768 229L1769 233L1771 237M1785 277L1787 281L1789 285M1811 349L1811 353L1811 357M1809 261L1811 265L1812 269M1851 285L1852 289L1855 297L1858 301M1868 349L1869 353L1869 357M1897 349L1897 353L1897 357M1915 237L1915 241L1916 249L1916 253M1919 277L1920 281L1921 285M1923 317L1923 321L1923 325M1926 349L1926 353L1926 357M1982 325L1983 329L1983 333"/><path class="k" opacity=".28" d="M1403 277L1403 281L1403 285M1433 325L1434 329L1434 333M1491 253L1490 257L1489 261M1492 309L1492 313L1492 317M1492 341L1492 345L1492 349M1518 277L1519 281L1519 285M1577 285L1577 289L1577 293M1610 349L1610 353L1610 361M1618 229L1618 233L1619 237M1634 325L1635 329L1635 333M1659 317L1660 321L1662 325M1659 245L1660 249L1665 257L1666 261M1751 341L1752 345L1752 353L1752 357M1755 277L1756 281L1757 285M1779 341L1781 345L1780 349M1789 285L1792 289L1793 297L1795 301M1816 277L1817 281L1819 285M1869 357L1869 361M1879 253L1879 257L1880 261M1886 285L1887 289L1888 293M1894 333L1895 337L1896 341M1897 357L1897 361M1949 261L1950 265L1950 269M1951 285L1951 289L1951 293M1952 317L1952 321L1953 325M1981 277L1981 281L1981 285M1981 301L1981 305L1981 309"/><path class="k" opacity=".32" d="M1374 245L1374 249L1374 253M1375 277L1375 281L1375 285M1404 253L1404 257L1403 261M1403 269L1403 273L1403 277M1433 293L1433 297L1433 301M1433 317L1433 321L1433 325M1462 277L1462 281L1462 285M1465 333L1465 337L1466 341M1488 229L1489 233L1490 237M1492 317L1492 321L1492 325M1492 333L1492 337L1492 341M1520 253L1518 257L1517 261M1548 277L1548 281L1549 289L1549 293M1601 253L1601 257L1602 261M1606 309L1606 313L1606 317M1619 237L1619 241L1620 245M1628 293L1629 297L1629 301M1641 253L1642 257L1644 261M1665 341L1666 345L1666 349M1666 261L1667 265L1668 269M1717 325L1719 329L1722 337L1724 341M1726 277L1728 281L1729 285M1747 253L1748 257L1750 261M1819 285L1821 289L1822 293M1841 253L1842 257L1843 261M1884 277L1885 281L1886 285M1921 285L1921 289L1921 293M1954 333L1954 337L1955 341M1981 285L1981 289L1981 293"/><path class="k" opacity=".36" d="M1374 253L1375 257L1375 265L1375 273L1375 277M1403 261L1403 265L1403 269M1433 301L1433 305L1433 313L1433 317M1462 269L1462 273L1462 277M1465 317L1464 321L1465 329L1465 333M1492 325L1492 329L1492 333M1517 261L1517 265L1518 273L1518 277M1599 229L1599 233L1600 237M1605 285L1605 289L1605 297L1606 305L1606 309M1629 301L1630 305L1631 313L1633 321L1634 325M1644 261L1646 265L1647 269M1664 333L1665 337L1665 341M1668 269L1670 273L1673 277M1684 317L1685 321L1689 329L1690 333M1780 349L1780 353L1780 361M1771 237L1772 241L1774 249L1777 257L1778 261M1811 357L1811 361M1843 261L1844 265L1847 273L1849 281L1851 285M1880 261L1881 265L1883 273L1884 277M1921 293L1922 297L1922 305L1922 313L1923 317M1926 357L1927 361M1950 269L1951 273L1951 281L1951 285M1953 325L1953 329L1954 333M1981 293L1981 297L1981 301M1983 333L1984 337L1984 345L1984 353L1984 361"/></g><ellipse class="p1" cx="1868.7" cy="282.7" rx="7.6" ry="13" opacity=".24"/><ellipse class="p1" cx="1897.7" cy="284.3" rx="7.6" ry="13" opacity=".24"/><ellipse class="p1" cx="1925" cy="284.3" rx="7.6" ry="13" opacity=".24"/><ellipse class="p1" cx="1680.3" cy="318" rx="7" ry="9.5" opacity=".29"/><ellipse class="n1" cx="1745.8" cy="290.7" rx="7" ry="9.5" opacity=".29"/><ellipse class="p1" cx="1710.5" cy="248.9" rx="7.6" ry="13" opacity=".29"/><ellipse class="p1" cx="1740.2" cy="252.1" rx="7.6" ry="13" opacity=".29"/><ellipse class="n1" cx="1696" cy="247.3" rx="7.6" ry="13" opacity=".29"/><ellipse class="n1" cx="1725.8" cy="250.5" rx="7.6" ry="13" opacity=".29"/><ellipse class="p1" cx="1839.8" cy="281" rx="7.6" ry="13" opacity=".29"/><ellipse class="p1" cx="1936.2" cy="310" rx="7.6" ry="13" opacity=".29"/><ellipse class="n1" cx="1609.9" cy="247.4" rx="7" ry="10" opacity=".35"/><ellipse class="n1" cx="1668.3" cy="247.6" rx="7" ry="10" opacity=".35"/><ellipse class="p1" cx="1510" cy="256.9" rx="7" ry="9" opacity=".36" transform="rotate(-10 1510 256.9)"/><ellipse class="p1" cx="1645" cy="298.7" rx="7" ry="10" opacity=".35" transform="rotate(-15 1645 298.7)"/><ellipse class="p1" cx="1654.6" cy="321.2" rx="7" ry="9.5" opacity=".35"/><ellipse class="n1" cx="1667.5" cy="321.2" rx="7" ry="9.5" opacity=".35"/><ellipse class="p1" cx="1778" cy="268.2" rx="7.6" ry="9" opacity=".36"/><ellipse class="p1" cx="1810.9" cy="278.6" rx="6.8" ry="9" opacity=".36" transform="rotate(-15 1810.9 278.6)"/><ellipse class="p1" cx="1759.2" cy="290.7" rx="7" ry="9.5" opacity=".35"/><ellipse class="p1" cx="1814.9" cy="290.7" rx="7" ry="9.5" opacity=".35"/><ellipse class="n1" cx="1863.6" cy="301.9" rx="6.8" ry="9" opacity=".36" transform="rotate(-15 1863.6 301.9)"/><ellipse class="p1" cx="1834.2" cy="333.3" rx="6.8" ry="9" opacity=".36" transform="rotate(-15 1834.2 333.3)"/><ellipse class="n1" cx="1847.9" cy="333.3" rx="6.8" ry="9" opacity=".36" transform="rotate(-15 1847.9 333.3)"/><ellipse class="p1" cx="1862.3" cy="332.4" rx="6.8" ry="9" opacity=".36" transform="rotate(-15 1862.3 332.4)"/><ellipse class="n1" cx="1820.2" cy="333.7" rx="6.8" ry="9" opacity=".36" transform="rotate(-15 1820.2 333.7)"/><ellipse class="n1" cx="1580.7" cy="247.3" rx="7" ry="10" opacity=".4"/><ellipse class="p1" cx="1595.3" cy="247.4" rx="7" ry="10" opacity=".4"/><ellipse class="p1" cx="1624.5" cy="247.5" rx="7" ry="10" opacity=".4"/><ellipse class="n1" cx="1639.1" cy="247.5" rx="7" ry="10" opacity=".4"/><ellipse class="n1" cx="1583.1" cy="256.1" rx="7" ry="9" opacity=".42" transform="rotate(-10 1583.1 256.1)"/><ellipse class="n1" cx="1481.1" cy="278.6" rx="7" ry="9.5" opacity=".4"/><ellipse class="p1" cx="1496.4" cy="280.2" rx="7" ry="12" opacity=".4"/><ellipse class="p1" cx="1413.6" cy="284.3" rx="7" ry="13" opacity=".4"/><ellipse class="p1" cx="1452.2" cy="301.9" rx="7" ry="9.5" opacity=".4"/><ellipse class="p1" cx="1485.1" cy="310.8" rx="7" ry="9.5" opacity=".4"/><ellipse class="p1" cx="1722.1" cy="269" rx="7.6" ry="9" opacity=".42"/><ellipse class="n1" cx="1735.4" cy="269" rx="7.6" ry="9" opacity=".42"/><ellipse class="n1" cx="1772.4" cy="290.7" rx="7" ry="9.5" opacity=".4"/><ellipse class="p1" cx="1820.2" cy="301.1" rx="6.8" ry="9" opacity=".42" transform="rotate(-15 1820.2 301.1)"/><ellipse class="p1" cx="1849.1" cy="301.1" rx="6.8" ry="9" opacity=".42" transform="rotate(-15 1849.1 301.1)"/><ellipse class="p1" cx="1878.4" cy="301.9" rx="6.8" ry="9" opacity=".42" transform="rotate(-15 1878.4 301.9)"/><ellipse class="n1" cx="1786.5" cy="322" rx="6.8" ry="9" opacity=".42" transform="rotate(-15 1786.5 322)"/><ellipse class="p1" cx="1888.3" cy="322.8" rx="6.8" ry="9" opacity=".42" transform="rotate(-15 1888.3 322.8)"/><ellipse class="p1" cx="1778" cy="334.1" rx="6.8" ry="9" opacity=".42" transform="rotate(-15 1778 334.1)"/><ellipse class="n1" cx="1792" cy="334.1" rx="6.8" ry="9" opacity=".42" transform="rotate(-15 1792 334.1)"/><ellipse class="p1" cx="1806.1" cy="334.1" rx="6.8" ry="9" opacity=".42" transform="rotate(-15 1806.1 334.1)"/><ellipse class="p1" cx="1810.9" cy="344" rx="7.6" ry="9.5" opacity=".4"/><ellipse class="p1" cx="1653.7" cy="247.6" rx="7" ry="10" opacity=".46"/><ellipse class="p1" cx="1461" cy="258.2" rx="7" ry="9" opacity=".48" transform="rotate(-10 1461 258.2)"/><ellipse class="p1" cx="1547.8" cy="267.9" rx="7" ry="9.5" opacity=".46" transform="rotate(-8 1547.8 267.9)"/><ellipse class="n1" cx="1679.5" cy="275.4" rx="7" ry="9.5" opacity=".46" transform="rotate(-8 1679.5 275.4)"/><ellipse class="n1" cx="1659.4" cy="298.7" rx="7" ry="9.5" opacity=".46"/><ellipse class="p1" cx="1694.9" cy="269.5" rx="7.6" ry="9" opacity=".48"/><ellipse class="n1" cx="1708.4" cy="269.5" rx="7.6" ry="9" opacity=".48"/><ellipse class="p1" cx="1749.1" cy="269" rx="7.6" ry="9" opacity=".48"/><ellipse class="n1" cx="1763.5" cy="269" rx="7.6" ry="9" opacity=".48"/><ellipse class="n1" cx="1767.5" cy="278.6" rx="6.8" ry="9" opacity=".48" transform="rotate(-15 1767.5 278.6)"/><ellipse class="p1" cx="1781.7" cy="278.6" rx="6.8" ry="9" opacity=".48" transform="rotate(-15 1781.7 278.6)"/><ellipse class="n1" cx="1796.4" cy="278.6" rx="6.8" ry="9" opacity=".48" transform="rotate(-15 1796.4 278.6)"/><ellipse class="p1" cx="1732.7" cy="290.7" rx="7" ry="9.5" opacity=".46"/><ellipse class="p1" cx="1786.5" cy="290.4" rx="7" ry="9.5" opacity=".46"/><ellipse class="n1" cx="1800.9" cy="290.4" rx="7" ry="9.5" opacity=".46"/><ellipse class="n1" cx="1834.7" cy="301.1" rx="6.8" ry="9" opacity=".48" transform="rotate(-15 1834.7 301.1)"/><ellipse class="p1" cx="1711.6" cy="314" rx="7" ry="12.5" opacity=".46" transform="rotate(-6 1711.6 314)"/><ellipse class="p1" cx="1770.3" cy="316.4" rx="7" ry="12.5" opacity=".46" transform="rotate(-6 1770.3 316.4)"/><ellipse class="p1" cx="1800.5" cy="322.8" rx="6.8" ry="9" opacity=".48" transform="rotate(-15 1800.5 322.8)"/><ellipse class="n1" cx="1814.9" cy="322.8" rx="6.8" ry="9" opacity=".48" transform="rotate(-15 1814.9 322.8)"/><ellipse class="n1" cx="1873.6" cy="322.8" rx="6.8" ry="9" opacity=".48" transform="rotate(-15 1873.6 322.8)"/><ellipse class="n1" cx="1825" cy="344.5" rx="7.6" ry="9.5" opacity=".46"/><ellipse class="n1" cx="1562.2" cy="267.9" rx="7" ry="9.5" opacity=".51" transform="rotate(-8 1562.2 267.9)"/><ellipse class="n1" cx="1468.3" cy="305.1" rx="7" ry="12" opacity=".51"/><ellipse class="p1" cx="1829.4" cy="322.8" rx="6.8" ry="9" opacity=".53" transform="rotate(-15 1829.4 322.8)"/><ellipse class="n1" cx="1843.8" cy="322.8" rx="6.8" ry="9" opacity=".53" transform="rotate(-15 1843.8 322.8)"/><ellipse class="p1" cx="1858.8" cy="322.8" rx="6.8" ry="9" opacity=".53" transform="rotate(-15 1858.8 322.8)"/><ellipse class="p1" cx="1566.6" cy="245.7" rx="7" ry="9.5" opacity=".55"/><ellipse class="p1" cx="1569.5" cy="256.1" rx="7" ry="9" opacity=".58" transform="rotate(-10 1569.5 256.1)"/><ellipse class="p1" cx="1576.7" cy="267.9" rx="7" ry="9.5" opacity=".55" transform="rotate(-8 1576.7 267.9)"/><ellipse class="p1" cx="1580.7" cy="277" rx="7" ry="9.5" opacity=".55" transform="rotate(-8 1580.7 277)"/><ellipse class="p1" cx="1606.1" cy="269.8" rx="7" ry="9.5" opacity=".55" transform="rotate(-8 1606.1 269.8)"/><ellipse class="p1" cx="1703.3" cy="293.9" rx="7" ry="13" opacity=".55" transform="rotate(10 1703.3 293.9)"/><ellipse class="n1" cx="1717.7" cy="293.1" rx="7" ry="12" opacity=".55" transform="rotate(10 1717.7 293.1)"/><ellipse class="n1" cx="1526.9" cy="256.1" rx="7" ry="9" opacity=".63" transform="rotate(-10 1526.9 256.1)"/><ellipse class="p1" cx="1541.3" cy="256.6" rx="7" ry="9" opacity=".63" transform="rotate(-10 1541.3 256.6)"/><ellipse class="n1" cx="1591.1" cy="267.9" rx="7" ry="9.5" opacity=".6" transform="rotate(-8 1591.1 267.9)"/><ellipse class="p1" cx="1664.6" cy="276.2" rx="7" ry="9.5" opacity=".6" transform="rotate(-8 1664.6 276.2)"/><ellipse class="p1" cx="1673.6" cy="298.7" rx="7" ry="9.5" opacity=".6"/><ellipse class="n1" cx="1688" cy="297.9" rx="7" ry="9.5" opacity=".6"/><ellipse class="p1" cx="1741.3" cy="314.8" rx="7" ry="12.5" opacity=".6" transform="rotate(-6 1741.3 314.8)"/><ellipse class="n1" cx="1755.8" cy="315.6" rx="7" ry="12.5" opacity=".6" transform="rotate(-6 1755.8 315.6)"/><ellipse class="p1" cx="1839.5" cy="345" rx="7.6" ry="9.5" opacity=".6"/><ellipse class="n1" cx="1555.5" cy="256.1" rx="7" ry="9" opacity=".66" transform="rotate(-10 1555.5 256.1)"/><ellipse class="n1" cx="1594.8" cy="277" rx="7" ry="9.5" opacity=".63" transform="rotate(-8 1594.8 277)"/><ellipse class="p1" cx="1608.8" cy="277" rx="7" ry="9.5" opacity=".63" transform="rotate(-8 1608.8 277)"/><ellipse class="p1" cx="1636.1" cy="276.5" rx="7" ry="9.5" opacity=".63" transform="rotate(-8 1636.1 276.5)"/><ellipse class="n1" cx="1726.6" cy="314" rx="7" ry="12.5" opacity=".63" transform="rotate(-6 1726.6 314)"/><ellipse class="n1" cx="1552.1" cy="245.6" rx="7" ry="9.5" opacity=".66"/><ellipse class="n1" cx="1622.2" cy="276.2" rx="7" ry="9.5" opacity=".66" transform="rotate(-8 1622.2 276.2)"/><ellipse class="n1" cx="1650.1" cy="276.5" rx="7" ry="9.5" opacity=".66" transform="rotate(-8 1650.1 276.5)"/><ellipse class="p1" cx="1537.6" cy="245.6" rx="7" ry="9.5" opacity=".72"/><ellipse class="n1" cx="1854.3" cy="345" rx="7.6" ry="9.5" opacity=".79"/><ellipse class="p1" cx="1868.7" cy="345" rx="7.6" ry="9.5" opacity=".79"/><ellipse class="p1" cx="1897.7" cy="345" rx="7.6" ry="9.5" opacity=".87"/><ellipse class="p1" cx="1479.6" cy="245.3" rx="7" ry="9.5" opacity=".95"/><ellipse class="n1" cx="1883.2" cy="345" rx="7.6" ry="9.5" opacity=".95"/><ellipse class="n2" cx="1465.2" cy="245.2" rx="7" ry="9.5"/><ellipse class="n2" cx="1494.1" cy="245.3" rx="7" ry="9.5"/><ellipse class="p2" cx="1508.6" cy="245.4" rx="7" ry="9.5"/><ellipse class="n2" cx="1523.1" cy="245.5" rx="7" ry="9.5"/><ellipse class="n2" cx="1912.1" cy="345.3" rx="7.6" ry="9.5"/><ellipse class="p2" cx="1926.6" cy="345.3" rx="7.6" ry="9.5"/><ellipse class="p2" cx="1450.7" cy="245.1" rx="7" ry="9.5"/><ellipse class="p2" cx="1421.7" cy="245" rx="7.6" ry="9.5"/><ellipse class="n2" cx="1436.2" cy="245" rx="7.6" ry="9.5"/><ellipse class="n2" cx="1940.7" cy="345.6" rx="7.6" ry="9.5"/><ellipse class="p2" cx="1955.5" cy="345.6" rx="7.6" ry="9.5"/><ellipse class="n2" cx="1407.2" cy="244.9" rx="7.6" ry="9.5"/>
</g></g>
<g clip-path="url(#ci)"><g filter="url(#jet)">
<rect x="1384.75" y="350.3" width="599" height="177.5" fill="#808080"/>
<g class="bg"><path class="w" opacity=".04" d="M1394 376L1394 380L1393 384M1395 424L1395 428L1394 436L1394 444L1394 448M1423 364L1423 372L1423 380L1423 384M1456 364L1456 372L1456 380L1456 388L1455 396L1454 400M1498 364L1497 372L1496 376M1495 384L1494 388L1493 396L1491 404L1490 408M1532 364L1530 372L1529 376M1527 384L1527 388L1525 396L1523 404L1521 412L1520 416M1508 464L1507 468L1507 472M1560 364L1558 372L1557 380L1555 388L1553 396L1552 400M1537 464L1535 468L1534 472M1582 364L1580 372L1579 376M1572 424L1571 428L1570 432M1565 480L1564 484L1564 488M1564 496L1564 500L1564 504M1597 364L1597 368M1619 364L1619 372L1619 376M1647 364L1647 372L1647 380L1647 388L1648 392M1678 368L1678 372L1678 380L1678 384M1675 472L1675 476L1675 480M1718 364L1717 372L1716 376M1703 464L1703 468L1703 472M1787 364L1785 372L1783 376M1814 364L1812 368M1787 464L1786 468L1785 472M1832 364L1831 372L1830 376M1844 448L1844 452L1845 456M1843 480L1843 484L1843 488M1872 364L1872 368M1871 448L1871 452L1871 456M1899 448L1898 452L1898 456M1926 364L1926 372L1925 380L1925 384M1955 364L1956 372L1956 376M1983 364L1982 368"/><path class="w" opacity=".08" d="M1393 384L1393 388L1393 396L1394 404L1394 412L1395 420L1395 424M1394 448L1393 452L1393 456M1395 496L1395 500L1394 508M1423 384L1423 388L1422 396L1422 404L1421 408M1454 400L1454 404L1453 408M1451 464L1450 468L1450 472M1496 376L1496 380L1495 384M1490 408L1489 412L1487 420L1487 424M1483 448L1483 452L1482 460L1481 464M1529 376L1528 380L1527 384M1520 416L1519 420L1516 428L1515 432M1507 472L1507 476L1506 480M1505 504L1505 508M1552 400L1551 404L1548 412L1547 416M1534 472L1534 476L1533 480M1533 504L1534 508M1579 376L1578 380L1577 384M1576 392L1575 396L1574 404L1573 412L1572 420L1572 424M1566 464L1567 468L1566 472M1597 368L1597 372L1596 376M1591 448L1591 452L1591 456M1619 376L1618 380L1619 384M1617 448L1618 452L1618 456M1648 392L1648 396L1648 404L1648 408M1646 504L1646 508M1678 384L1678 388L1678 392M1675 456L1675 460L1675 464M1716 376L1715 380L1715 384M1757 364L1755 372L1754 376M1750 392L1750 396L1748 404L1747 408M1783 376L1782 380L1781 384M1770 424L1770 428L1768 436L1766 440M1758 504L1758 508M1812 368L1811 372L1810 376M1803 400L1802 404L1801 412L1799 420L1799 424M1830 376L1829 380L1827 388L1826 396L1825 400M1820 440L1819 444L1819 448M1815 504L1815 508M1848 364L1848 368M1843 472L1843 476L1843 480M1872 368L1872 372L1871 376M1871 440L1871 444L1871 448M1870 488L1870 492L1870 496M1899 364L1899 372L1899 380L1900 384M1899 496L1899 500L1899 508M1925 384L1925 388L1925 392M1927 448L1925 452L1925 460L1925 464M1926 504L1926 508M1956 376L1956 380L1956 384M1982 368L1982 372L1982 376"/><path class="w" opacity=".12" d="M1394 488L1395 492L1395 496M1421 408L1421 412L1422 420L1422 428L1422 436L1423 444L1422 452L1422 460L1421 468L1421 476L1421 484L1421 488M1453 408L1453 412L1452 420L1452 424M1452 448L1452 452L1451 460L1451 464M1450 472L1450 476L1449 480M1487 424L1486 428L1485 436L1484 444L1483 448M1481 464L1480 468L1479 472M1478 504L1479 508M1515 432L1514 436L1513 440M1506 480L1505 484L1504 488M1504 496L1504 500L1505 504M1547 416L1546 420L1545 424M1533 480L1532 484L1531 488M1531 496L1532 500L1533 504M1577 384L1577 388L1576 392M1565 448L1565 452L1566 456M1564 504L1563 508M1596 376L1596 380L1595 384M1593 408L1593 412L1593 420L1591 428L1591 432M1619 384L1619 388L1619 392M1616 440L1617 444L1617 448M1618 464L1618 468L1617 472M1648 408L1648 412L1648 416M1646 488L1645 492L1646 500L1646 504M1678 392L1678 396L1678 400M1675 480L1674 484L1674 488M1710 424L1709 428L1707 436L1706 444L1704 448M1702 504L1702 508M1754 376L1753 380L1751 388L1750 392M1747 408L1746 412L1745 416M1735 472L1734 476L1733 480M1766 440L1765 444L1764 448M1758 496L1758 500L1758 504M1805 392L1804 396L1803 400M1825 400L1824 404L1824 408M1821 432L1821 436L1820 440M1819 448L1819 452L1819 456M1816 464L1813 468L1812 472M1814 496L1815 500L1815 504M1848 368L1847 372L1847 376M1846 424L1845 428L1845 432M1845 456L1845 460L1845 464M1870 408L1870 412L1870 420L1870 424M1871 456L1871 460L1871 464M1869 480L1869 484L1870 488M1870 496L1870 500L1871 508M1900 384L1900 388L1900 396L1900 404L1900 408M1898 440L1899 444L1899 448M1898 456L1898 460L1898 464M1900 480L1899 484L1899 492L1899 496M1925 392L1925 396L1925 404L1925 408M1927 440L1929 444L1927 448M1927 496L1926 500L1926 504M1956 384L1956 388L1956 392M1956 464L1956 468L1956 476L1956 480M1982 440L1982 444L1982 452L1982 460L1982 468L1983 476L1983 480"/><path class="w" opacity=".16" d="M1393 456L1393 460L1393 464M1421 488L1422 492L1422 500L1422 504M1452 424L1452 428L1452 436L1452 444L1452 448M1449 488L1449 492L1449 496M1477 488L1476 492L1477 500L1478 504M1513 440L1512 444L1511 448M1504 488L1503 492L1504 496M1545 424L1544 428L1543 432M1531 488L1530 492L1531 496M1567 440L1565 444L1565 448M1566 472L1566 476L1565 480M1595 384L1595 388L1594 396L1593 404L1593 408M1591 432L1590 436L1591 444L1591 448M1590 464L1590 468L1590 472M1590 480L1590 484L1590 488M1591 496L1591 500L1591 504M1619 392L1619 396L1619 404L1620 408M1619 424L1618 428L1616 436L1616 440M1617 472L1617 476L1617 484L1618 488M1648 416L1647 420L1646 424M1644 432L1643 436L1644 440M1645 448L1646 452L1646 456M1647 480L1647 484L1646 488M1678 400L1678 404L1677 412L1677 416M1675 440L1674 444L1675 452L1675 456M1674 488L1674 492L1674 500L1673 508M1715 384L1714 388L1714 392M1704 448L1702 452L1702 456M1703 472L1703 476L1702 480M1701 488L1700 492L1701 500L1702 504M1745 416L1744 420L1743 424M1735 456L1735 460L1736 468L1735 472M1733 480L1732 484L1732 488M1781 384L1779 388L1778 392M1772 416L1771 420L1770 424M1764 448L1763 452L1761 456M1757 480L1757 484L1758 488M1810 376L1809 380L1806 388L1805 392M1799 424L1798 428L1797 432M1793 448L1792 452L1790 456M1785 472L1785 476L1785 484L1785 488M1787 504L1787 508M1824 408L1823 412L1822 420L1822 428L1821 432M1819 456L1819 460L1816 464M1811 480L1811 484L1813 492L1814 496M1845 464L1844 468L1843 472M1870 400L1870 404L1870 408M1870 424L1870 428L1871 436L1871 440M1900 408L1900 412L1899 416M1897 424L1896 428L1897 432M1899 472L1900 476L1900 480M1925 408L1926 412L1924 420L1922 428L1925 436L1927 440M1925 464L1926 468L1928 476L1929 484L1927 492L1927 496M1956 392L1955 396L1955 400M1957 448L1957 452L1956 460L1956 464M1956 480L1956 484L1955 492L1955 496M1982 376L1982 380L1982 384M1983 424L1983 428L1982 436L1982 440M1983 480L1983 484L1983 488"/><path class="w" opacity=".2" d="M1393 464L1393 468L1394 476L1394 484L1394 488M1449 480L1449 484L1449 488M1479 472L1479 476L1477 484L1477 488M1543 432L1542 436L1541 440M1539 456L1539 460L1537 464M1620 408L1620 412L1620 420L1619 424M1618 504L1618 508M1646 424L1645 428L1644 432M1644 440L1644 444L1645 448M1647 472L1647 476L1647 480M1677 416L1676 420L1675 428L1675 436L1675 440M1714 392L1714 396L1713 400M1711 416L1711 420L1710 424M1702 456L1703 460L1703 464M1702 480L1701 484L1701 488M1743 424L1742 428L1740 432M1732 488L1732 492L1729 500L1730 504M1778 392L1777 396L1775 404L1773 412L1772 416M1761 456L1760 460L1759 464M1757 472L1757 476L1757 480M1758 488L1758 492L1758 496M1797 432L1795 436L1794 440M1785 488L1786 492L1787 496M1812 472L1811 476L1811 480M1847 376L1846 380L1846 384M1846 408L1846 412L1846 420L1846 424M1843 488L1843 492L1843 496M1871 376L1871 380L1871 384M1870 472L1869 476L1869 480M1899 416L1897 420L1897 424M1897 432L1897 436L1898 440M1898 464L1899 468L1899 472M1955 400L1955 404L1955 408M1956 440L1957 444L1957 448M1955 496L1955 500L1955 508M1982 400L1983 404L1983 412L1983 420L1983 424M1983 488L1983 492L1983 500L1982 508"/><path class="w" opacity=".24" d="M1422 504L1422 508M1449 496L1449 500L1450 504M1511 448L1510 452L1509 460L1508 464M1541 440L1540 444L1540 448M1591 504L1591 508M1618 488L1618 492L1618 500L1618 504M1713 400L1713 404L1712 412L1711 416M1740 432L1739 436L1737 444L1735 452L1735 456M1759 464L1757 468L1757 472M1794 440L1793 444L1793 448M1787 496L1787 500L1787 504M1846 400L1846 404L1846 408M1843 504L1842 508M1870 392L1870 396L1870 400M1871 464L1870 468L1870 472M1955 408L1954 412L1954 416M1955 432L1956 436L1956 440M1982 384L1982 388L1982 396L1982 400"/><path class="w" opacity=".28" d="M1450 504L1450 508M1540 448L1539 452L1539 456M1590 472L1589 476L1590 480M1647 464L1647 468L1647 472M1730 504L1731 508M1846 384L1846 388L1846 396L1846 400M1843 496L1843 500L1843 504M1871 384L1871 388L1870 392M1954 416L1954 420L1955 428L1955 432"/><path class="k" opacity=".04" d="M1381 364L1381 372L1380 380L1380 384M1409 364L1409 372L1409 376M1476 364L1475 372L1474 376M1495 464L1494 468L1494 472M1548 364L1545 372L1544 376M1521 464L1520 468L1520 472M1573 364L1572 368M1552 456L1552 460L1550 464M1589 364L1588 372L1587 376M1578 456L1578 460L1577 464M1634 364L1634 372L1634 376M1659 464L1658 468L1657 472M1690 464L1690 468L1690 472M1839 364L1838 368M1856 432L1856 436L1856 444L1857 452L1858 456M1885 448L1885 452L1885 456M1885 480L1885 484L1885 488M1941 364L1941 368"/><path class="k" opacity=".08" d="M1380 384L1380 388L1380 392M1382 424L1382 428L1381 436L1381 444L1380 448M1409 376L1409 380L1409 384M1409 440L1409 444L1409 448M1441 368L1441 372L1440 376M1440 384L1439 388L1439 396L1438 400M1516 364L1514 372L1513 380L1512 388L1510 396L1510 400M1525 448L1524 452L1522 460L1521 464M1572 368L1571 372L1570 376M1587 376L1586 380L1586 384M1578 496L1578 500L1578 504M1607 364L1607 368M1608 392L1608 396L1607 400M1634 376L1633 380L1633 384M1632 448L1633 452L1632 456M1662 364L1662 372L1661 380L1661 388L1660 392M1698 364L1697 368M1739 364L1737 372L1735 380L1733 388L1732 392M1824 364L1822 372L1821 376M1838 368L1838 372L1837 376M1834 424L1833 428L1832 432M1858 364L1857 372L1857 376M1857 480L1857 484L1856 488M1886 472L1886 476L1885 480M1913 364L1912 372L1912 376M1911 440L1912 444L1912 448M1941 368L1940 372L1941 376M1968 364L1968 372L1967 380L1967 384M1998 364L1998 368M1997 400L1997 404L1997 408"/><path class="k" opacity=".12" d="M1380 392L1380 396L1381 400M1380 448L1380 452L1380 456M1409 384L1409 388L1408 392M1408 432L1408 436L1409 440M1409 448L1409 452L1409 456M1441 364L1441 368M1440 376L1440 380L1440 384M1438 400L1438 404L1438 408M1474 376L1474 380L1473 384M1469 432L1468 436L1467 444L1466 448M1463 488L1463 492L1463 496M1496 456L1495 460L1495 464M1544 376L1543 380L1542 384M1548 472L1548 476L1547 480M1586 384L1585 388L1585 392M1578 448L1578 452L1578 456M1607 368L1607 372L1607 380L1608 388L1608 392M1607 400L1607 404L1607 408M1606 464L1606 468L1606 472M1605 480L1605 484L1605 488M1633 384L1633 388L1633 392M1632 464L1632 468L1632 472M1660 392L1660 396L1660 400M1659 448L1659 452L1659 456M1697 368L1697 372L1697 376M1694 416L1694 420L1692 428L1692 432M1732 392L1732 396L1731 400M1720 448L1719 452L1719 456M1717 472L1717 476L1716 480M1773 364L1770 372L1769 376M1764 392L1763 396L1761 404L1760 408M1773 464L1772 468L1772 472M1821 376L1820 380L1819 384M1803 464L1799 468L1798 472M1835 416L1834 420L1834 424M1831 440L1831 444L1831 448M1858 456L1858 460L1858 464M1857 472L1856 476L1857 480M1885 364L1885 368M1885 440L1885 444L1885 448M1885 456L1885 460L1885 464M1912 448L1912 452L1912 456M1942 416L1942 420L1941 424M1967 384L1967 388L1968 392M1998 368L1998 372L1998 376M1998 392L1997 396L1997 400M1997 408L1997 412L1997 416M1997 464L1997 468L1997 472"/><path class="k" opacity=".16" d="M1381 400L1381 404L1381 412L1382 420L1382 424M1382 496L1382 500L1381 508M1408 392L1408 396L1408 400M1408 424L1408 428L1408 432M1409 456L1408 460L1408 464M1408 488L1408 492L1408 496M1438 408L1438 412L1438 416M1438 448L1438 452L1437 460L1437 464M1436 488L1436 492L1436 496M1473 384L1473 388L1473 392M1470 424L1469 428L1469 432M1466 448L1466 452L1465 456M1510 400L1509 404L1508 408M1494 472L1494 476L1493 480M1491 488L1490 492L1491 496M1542 384L1541 388L1540 392M1530 432L1529 436L1527 444L1525 448M1518 488L1517 492L1518 496M1562 408L1561 412L1560 416M1559 424L1558 428L1557 432M1545 488L1544 492L1547 496M1580 432L1577 436L1578 444L1578 448M1578 480L1578 484L1578 488M1578 504L1577 508M1603 432L1603 436L1603 440M1631 432L1630 436L1631 444L1632 448M1658 432L1657 436L1658 444L1659 448M1660 488L1660 492L1660 500L1660 508M1695 408L1695 412L1694 416M1692 432L1691 436L1691 440M1687 488L1687 492L1687 496M1688 504L1688 508M1731 400L1731 404L1730 408M1722 440L1721 444L1720 448M1719 456L1718 460L1717 464M1714 488L1713 492L1714 496M1769 376L1768 380L1765 388L1764 392M1760 408L1759 412L1758 416M1742 480L1741 484L1745 492L1745 496M1800 364L1797 372L1796 376M1792 392L1792 396L1790 404L1789 408M1772 472L1772 476L1771 480M1806 456L1806 460L1803 464M1835 408L1835 412L1835 416M1832 456L1832 460L1831 464M1829 480L1829 484L1829 492L1829 496M1857 376L1857 380L1857 384M1885 368L1885 372L1886 376M1886 384L1886 388L1886 396L1886 404L1886 408M1883 424L1883 428L1883 432M1885 464L1886 468L1886 472M1912 376L1912 380L1912 384M1910 424L1909 428L1911 436L1911 440M1913 488L1913 492L1913 496M1942 488L1941 492L1941 500L1941 504M1968 392L1968 396L1968 400M1967 456L1968 460L1968 468L1969 476L1969 480M1998 456L1998 460L1997 464M1997 472L1997 476L1997 480"/><path class="k" opacity=".2" d="M1382 488L1382 492L1382 496M1408 400L1408 404L1407 412L1408 420L1408 424M1439 440L1439 444L1438 448M1473 392L1473 396L1472 404L1472 412L1471 420L1470 424M1465 456L1465 460L1465 464M1508 408L1507 412L1506 416M1497 448L1497 452L1496 456M1570 376L1568 380L1567 384M1563 400L1562 404L1562 408M1560 416L1560 420L1559 424M1547 480L1546 484L1545 488M1585 392L1585 396L1585 400M1583 424L1583 428L1580 432M1607 408L1607 412L1606 416M1605 448L1606 452L1606 456M1606 472L1605 476L1605 480M1633 392L1633 396L1633 400M1633 424L1632 428L1631 432M1660 400L1661 404L1661 408M1660 424L1659 428L1658 432M1697 376L1697 380L1697 384M1696 400L1696 404L1695 408M1690 472L1690 476L1689 480M1687 496L1688 500L1688 504M1716 504L1716 508M1758 416L1758 420L1757 424M1745 496L1745 500L1745 504M1794 384L1793 388L1792 392M1771 480L1771 484L1772 488M1819 384L1817 388L1816 392M1798 472L1798 476L1798 484L1798 488M1837 376L1837 380L1837 384M1829 496L1829 500L1828 504M1858 464L1857 468L1857 472M1886 376L1886 380L1886 384M1885 488L1885 492L1885 496M1913 496L1913 500L1912 504M1941 376L1941 380L1941 384M1941 424L1941 428L1941 432M1941 504L1940 508M1967 448L1967 452L1967 456M1998 376L1998 380L1998 388L1998 392M1997 416L1997 420L1997 424M1998 504L1998 508"/><path class="k" opacity=".24" d="M1380 456L1380 460L1380 464M1408 464L1408 468L1407 472M1438 416L1438 420L1439 428L1439 436L1439 440M1437 464L1436 468L1436 472M1499 440L1498 444L1497 448M1540 392L1539 396L1538 400M1533 424L1532 428L1530 432M1520 472L1521 476L1520 480M1604 496L1604 500L1604 504M1633 400L1633 404L1633 408M1632 472L1632 476L1633 480M1657 472L1656 476L1658 480M1697 384L1697 388L1696 396L1696 400M1691 440L1691 444L1691 448M1689 480L1688 484L1687 488M1730 408L1729 412L1729 416M1725 432L1724 436L1722 440M1716 480L1715 484L1714 488M1714 496L1715 500L1716 504M1757 424L1756 428L1755 432M1743 472L1743 476L1742 480M1745 504L1745 508M1796 376L1795 380L1794 384M1789 408L1788 412L1787 416M1816 392L1815 396L1815 400M1806 448L1805 452L1806 456M1836 400L1836 404L1835 408M1831 448L1831 452L1832 456M1831 464L1831 468L1829 476L1829 480M1828 504L1828 508M1886 408L1885 412L1884 420L1883 424M1912 416L1911 420L1910 424M1913 480L1913 484L1913 488M1912 504L1912 508M1941 432L1941 436L1943 444L1943 452L1943 456M1942 480L1942 484L1942 488M1968 400L1968 404L1969 408M1969 480L1969 484L1969 488M1968 504L1968 508M1998 448L1998 452L1998 456M1997 480L1997 484L1997 488"/><path class="k" opacity=".28" d="M1506 416L1504 420L1502 428L1500 436L1499 440M1493 480L1492 484L1491 488M1538 400L1538 404L1537 408M1535 416L1534 420L1533 424M1518 496L1519 500L1520 508M1567 384L1566 388L1564 396L1563 400M1553 448L1552 452L1552 456M1585 400L1584 404L1584 408M1584 416L1583 420L1583 424M1577 464L1577 468L1577 472M1606 416L1606 420L1604 428L1603 432M1603 440L1604 444L1605 448M1633 408L1633 412L1634 420L1633 424M1661 408L1661 412L1661 416M1691 456L1690 460L1690 464M1729 416L1728 420L1726 428L1725 432M1755 432L1754 436L1753 440M1745 464L1744 468L1743 472M1836 392L1836 396L1836 400M1857 384L1857 388L1857 392M1857 424L1857 428L1856 432M1883 432L1884 436L1885 440M1912 384L1912 388L1912 392M1969 408L1969 412L1969 416M1968 440L1968 444L1967 448M1969 488L1969 492L1968 500L1968 504M1997 424L1997 428L1998 432M1997 488L1997 492L1997 500L1998 504"/><path class="k" opacity=".32" d="M1380 464L1380 468L1381 472M1381 480L1381 484L1382 488M1408 496L1408 500L1408 504M1465 464L1465 468L1465 472M1463 496L1464 500L1464 504M1537 408L1536 412L1535 416M1520 480L1519 484L1518 488M1584 408L1584 412L1584 416M1633 480L1633 484L1633 488M1634 504L1634 508M1661 416L1661 420L1660 424M1658 480L1660 484L1660 488M1747 456L1746 460L1745 464M1787 416L1786 420L1784 424M1772 488L1772 492L1772 496M1815 400L1814 404L1813 408M1837 384L1836 388L1836 392M1885 504L1885 508M1942 408L1942 412L1942 416M1969 416L1969 420L1969 428L1968 436L1968 440M1998 440L1998 444L1998 448"/><path class="k" opacity=".36" d="M1381 472L1381 476L1381 480M1407 472L1407 476L1408 484L1408 488M1408 504L1408 508M1436 472L1436 476L1436 484L1436 488M1436 496L1437 500L1438 508M1465 472L1465 476L1464 484L1463 488M1464 504L1464 508M1491 496L1491 500L1492 508M1556 440L1554 444L1553 448M1547 496L1549 500L1549 508M1577 472L1577 476L1578 480M1604 504L1604 508M1633 488L1633 492L1634 500L1634 504M1691 448L1691 452L1691 456M1753 440L1751 444L1749 452L1747 456M1784 424L1783 428L1780 436L1778 444L1776 452L1775 456M1772 496L1772 500L1771 508M1813 408L1812 412L1811 420L1810 428L1808 436L1806 444L1806 448M1798 488L1799 492L1801 500L1801 508M1857 392L1858 396L1858 404L1858 412L1858 420L1857 424M1856 488L1856 492L1856 500L1855 508M1885 496L1885 500L1885 504M1912 392L1912 396L1913 404L1913 412L1912 416M1912 456L1912 460L1913 468L1913 476L1913 480M1941 384L1941 388L1942 396L1942 404L1942 408M1943 456L1942 460L1942 468L1942 476L1942 480M1998 432L1998 436L1998 440"/></g><ellipse class="p1" cx="1438.5" cy="408.8" rx="7.6" ry="13" opacity=".23"/><ellipse class="p1" cx="1466.7" cy="408.8" rx="7.6" ry="13" opacity=".23"/><ellipse class="p1" cx="1494.8" cy="408.8" rx="7.6" ry="13" opacity=".23"/><ellipse class="p1" cx="1522.9" cy="408.8" rx="7.6" ry="13" opacity=".23"/><ellipse class="n1" cx="1424.1" cy="408.8" rx="7.6" ry="13" opacity=".23"/><ellipse class="n1" cx="1452.2" cy="408.8" rx="7.6" ry="13" opacity=".23"/><ellipse class="n1" cx="1480.8" cy="408.8" rx="7.6" ry="13" opacity=".23"/><ellipse class="n1" cx="1508.7" cy="408.8" rx="7.6" ry="13" opacity=".23"/><ellipse class="p1" cx="1451.4" cy="431.3" rx="7.6" ry="13" opacity=".23"/><ellipse class="p1" cx="1478.7" cy="431.3" rx="7.6" ry="13" opacity=".23"/><ellipse class="p1" cx="1506" cy="431.3" rx="7.6" ry="13" opacity=".23"/><ellipse class="p1" cx="1533.3" cy="431.3" rx="7.6" ry="13" opacity=".23"/><ellipse class="n1" cx="1437.7" cy="431.3" rx="7.6" ry="13" opacity=".23"/><ellipse class="n1" cx="1465" cy="431.3" rx="7.6" ry="13" opacity=".23"/><ellipse class="n1" cx="1492.4" cy="431.3" rx="7.6" ry="13" opacity=".23"/><ellipse class="n1" cx="1519.7" cy="431.3" rx="7.6" ry="13" opacity=".23"/><ellipse class="n1" cx="1616.9" cy="492" rx="7.6" ry="9" opacity=".24"/><ellipse class="p1" cx="1628.9" cy="492" rx="7.6" ry="9" opacity=".24"/><ellipse class="p1" cx="1651.4" cy="492" rx="7.6" ry="9" opacity=".24"/><ellipse class="p1" cx="1708.1" cy="420" rx="7" ry="13" opacity=".25"/><ellipse class="p1" cx="1735.4" cy="418.4" rx="7" ry="13" opacity=".25"/><ellipse class="p1" cx="1764.3" cy="418.4" rx="7" ry="13" opacity=".25"/><ellipse class="p1" cx="1844.6" cy="427.2" rx="7.6" ry="8.5" opacity=".27"/><ellipse class="p1" cx="1802.1" cy="392.7" rx="7.6" ry="13" opacity=".27"/><ellipse class="p1" cx="1829.4" cy="392.7" rx="7.6" ry="13" opacity=".27"/><ellipse class="p1" cx="1857.2" cy="392.7" rx="7.6" ry="13" opacity=".27"/><ellipse class="p1" cx="1884.8" cy="392.7" rx="7.6" ry="13" opacity=".27"/><ellipse class="p1" cx="1912.1" cy="392.7" rx="7.6" ry="13" opacity=".27"/><ellipse class="p1" cx="1941" cy="392.7" rx="7.6" ry="13" opacity=".27"/><ellipse class="n1" cx="1815.7" cy="392.7" rx="7.6" ry="13" opacity=".27"/><ellipse class="n1" cx="1843" cy="392.7" rx="7.6" ry="13" opacity=".27"/><ellipse class="n1" cx="1871.1" cy="392.7" rx="7.6" ry="13" opacity=".27"/><ellipse class="n1" cx="1898.5" cy="392.7" rx="7.6" ry="13" opacity=".27"/><ellipse class="n1" cx="1926.6" cy="392.7" rx="7.6" ry="13" opacity=".27"/><ellipse class="n1" cx="1953.9" cy="392.7" rx="7.6" ry="13" opacity=".27"/><ellipse class="p1" cx="1725" cy="447.3" rx="7" ry="9.5" opacity=".27"/><ellipse class="n1" cx="1592.8" cy="492" rx="7.6" ry="9" opacity=".29"/><ellipse class="p1" cx="1604.8" cy="492" rx="7.6" ry="9" opacity=".29"/><ellipse class="p1" cx="1673.9" cy="492" rx="7.6" ry="9" opacity=".29"/><ellipse class="p1" cx="1667.5" cy="437.7" rx="7.6" ry="10" opacity=".29"/><ellipse class="n1" cx="1574.3" cy="436.9" rx="7.6" ry="10" opacity=".29"/><ellipse class="n1" cx="1601.3" cy="436.9" rx="7.6" ry="10" opacity=".29"/><ellipse class="n1" cx="1628.1" cy="437.4" rx="7.6" ry="10" opacity=".29"/><ellipse class="n1" cx="1654.6" cy="437.7" rx="7.6" ry="10" opacity=".29"/><ellipse class="p1" cx="1458.6" cy="477.8" rx="7" ry="9.5" opacity=".29"/><ellipse class="p1" cx="1521.3" cy="457" rx="7" ry="9.5" opacity=".29"/><ellipse class="p1" cx="1859.9" cy="481.4" rx="7.6" ry="8.5" opacity=".29"/><ellipse class="p1" cx="1883.2" cy="481.4" rx="7.6" ry="8.5" opacity=".29"/><ellipse class="p1" cx="1907.3" cy="481.4" rx="7.6" ry="8.5" opacity=".29"/><ellipse class="p1" cx="1931.4" cy="481.4" rx="7.6" ry="8.5" opacity=".29"/><ellipse class="p1" cx="1957.1" cy="481.4" rx="7.6" ry="8.5" opacity=".29"/><ellipse class="p1" cx="1896.9" cy="459.7" rx="7.6" ry="8.5" opacity=".29"/><ellipse class="p1" cx="1869.5" cy="427.2" rx="7.6" ry="8.5" opacity=".29"/><ellipse class="p1" cx="1698.5" cy="447.3" rx="7" ry="12" opacity=".29"/><ellipse class="p1" cx="1561.4" cy="436.9" rx="7.6" ry="10" opacity=".31"/><ellipse class="p1" cx="1587.9" cy="436.9" rx="7.6" ry="10" opacity=".31"/><ellipse class="p1" cx="1614.8" cy="437.4" rx="7.6" ry="10" opacity=".31"/><ellipse class="p1" cx="1641.4" cy="437.7" rx="7.6" ry="10" opacity=".31"/><ellipse class="n1" cx="1847.1" cy="437.7" rx="7.6" ry="8.5" opacity=".34"/><ellipse class="n1" cx="1881.9" cy="427.7" rx="7.6" ry="8.5" opacity=".34"/><ellipse class="n1" cx="1907.6" cy="427.7" rx="7.6" ry="8.5" opacity=".34"/><ellipse class="p1" cx="1615.2" cy="481.1" rx="7.6" ry="8.5" opacity=".36"/><ellipse class="p1" cx="1490.7" cy="469.8" rx="6.5" ry="10" opacity=".35" transform="rotate(25 1490.7 469.8)"/><ellipse class="n1" cx="1847.5" cy="481.4" rx="7.6" ry="8.5" opacity=".36"/><ellipse class="n1" cx="1725" cy="469.5" rx="7.6" ry="8.5" opacity=".36"/><ellipse class="p1" cx="1737.8" cy="469.5" rx="7.6" ry="8.5" opacity=".36"/><ellipse class="p1" cx="1833.7" cy="437.7" rx="7.6" ry="8.5" opacity=".38"/><ellipse class="p1" cx="1859.9" cy="437.7" rx="7.6" ry="8.5" opacity=".38"/><ellipse class="p1" cx="1894.8" cy="427.7" rx="7.6" ry="8.5" opacity=".38"/><ellipse class="p1" cx="1920.1" cy="427.7" rx="7.6" ry="8.5" opacity=".38"/><ellipse class="n1" cx="1933" cy="427.7" rx="7.6" ry="8.5" opacity=".38"/><ellipse class="p1" cx="1946.2" cy="427.7" rx="7.6" ry="8.5" opacity=".38"/><ellipse class="n1" cx="1567.9" cy="492" rx="7.6" ry="9" opacity=".42"/><ellipse class="p1" cx="1580.2" cy="492" rx="7.6" ry="9" opacity=".42"/><ellipse class="p1" cx="1661.8" cy="469.8" rx="6.8" ry="9" opacity=".42" transform="rotate(-15 1661.8 469.8)"/><ellipse class="p1" cx="1770.7" cy="459.7" rx="7.6" ry="8.5" opacity=".42"/><ellipse class="n1" cx="1884.8" cy="459.7" rx="7.6" ry="8.5" opacity=".42"/><ellipse class="n1" cx="1844.2" cy="448.9" rx="7.6" ry="8.5" opacity=".42"/><ellipse class="p1" cx="1555.3" cy="492" rx="7" ry="9.5" opacity=".46"/><ellipse class="p1" cx="1640.1" cy="481.4" rx="7.6" ry="8.5" opacity=".48"/><ellipse class="n1" cx="1652.7" cy="481.4" rx="7.6" ry="8.5" opacity=".48"/><ellipse class="p1" cx="1665" cy="481.4" rx="7.6" ry="8.5" opacity=".48"/><ellipse class="n1" cx="1503.6" cy="470.6" rx="6.8" ry="9" opacity=".48" transform="rotate(18 1503.6 470.6)"/><ellipse class="p1" cx="1569.5" cy="469.8" rx="6.8" ry="9" opacity=".48" transform="rotate(18 1569.5 469.8)"/><ellipse class="n1" cx="1674.7" cy="469" rx="6.8" ry="9" opacity=".48" transform="rotate(-15 1674.7 469)"/><ellipse class="n1" cx="1685.6" cy="491.5" rx="7.6" ry="8.5" opacity=".48"/><ellipse class="p1" cx="1749.9" cy="491.5" rx="7.6" ry="8.5" opacity=".48"/><ellipse class="p1" cx="1757.6" cy="481.4" rx="7.6" ry="8.5" opacity=".48"/><ellipse class="p1" cx="1834.5" cy="481.4" rx="7.6" ry="8.5" opacity=".48"/><ellipse class="p1" cx="1686.9" cy="469.5" rx="7.6" ry="8.5" opacity=".48"/><ellipse class="p1" cx="1712.1" cy="469.5" rx="7.6" ry="8.5" opacity=".48"/><ellipse class="n1" cx="1783.1" cy="459.7" rx="7.6" ry="8.5" opacity=".48"/><ellipse class="p1" cx="1857.2" cy="448.9" rx="7.6" ry="8.5" opacity=".48"/><ellipse class="p1" cx="1654.9" cy="459.7" rx="7.6" ry="9" opacity=".51"/><ellipse class="n1" cx="1542" cy="492" rx="7" ry="9.5" opacity=".51"/><ellipse class="p1" cx="1516.9" cy="469.8" rx="6.8" ry="9" opacity=".53" transform="rotate(18 1516.9 469.8)"/><ellipse class="n1" cx="1530.1" cy="469.8" rx="6.8" ry="9" opacity=".53" transform="rotate(18 1530.1 469.8)"/><ellipse class="n1" cx="1556.3" cy="469.8" rx="6.8" ry="9" opacity=".53" transform="rotate(18 1556.3 469.8)"/><ellipse class="p1" cx="1549.4" cy="458.9" rx="7.6" ry="9" opacity=".53"/><ellipse class="n1" cx="1770.4" cy="481.4" rx="7.6" ry="8.5" opacity=".53"/><ellipse class="n1" cx="1821.7" cy="481.4" rx="7.6" ry="8.5" opacity=".53"/><ellipse class="n1" cx="1699.6" cy="469.5" rx="7.6" ry="8.5" opacity=".53"/><ellipse class="n1" cx="1869.9" cy="448.9" rx="7.6" ry="8.5" opacity=".53"/><ellipse class="p1" cx="1882.7" cy="448.9" rx="7.6" ry="8.5" opacity=".53"/><ellipse class="n1" cx="1895.2" cy="448.9" rx="7.6" ry="8.5" opacity=".53"/><ellipse class="p1" cx="1907.6" cy="448.9" rx="7.6" ry="8.5" opacity=".53"/><ellipse class="n1" cx="1920.1" cy="448.9" rx="7.6" ry="8.5" opacity=".53"/><ellipse class="p1" cx="1957.6" cy="449.2" rx="7.6" ry="8.5" opacity=".53"/><ellipse class="p1" cx="1528.6" cy="492.1" rx="7" ry="9.5" opacity=".55"/><ellipse class="p1" cx="1543" cy="469.8" rx="6.8" ry="9" opacity=".58" transform="rotate(18 1543 469.8)"/><ellipse class="n1" cx="1642.1" cy="459.7" rx="7.6" ry="9" opacity=".58"/><ellipse class="n1" cx="1737" cy="491.5" rx="7.6" ry="8.5" opacity=".58"/><ellipse class="p1" cx="1783.3" cy="481.4" rx="7.6" ry="8.5" opacity=".58"/><ellipse class="p1" cx="1808.8" cy="481.4" rx="7.6" ry="8.5" opacity=".58"/><ellipse class="p1" cx="1795.6" cy="459.7" rx="7.6" ry="8.5" opacity=".58"/><ellipse class="p1" cx="1872.3" cy="459.7" rx="7.6" ry="8.5" opacity=".58"/><ellipse class="p1" cx="1932.7" cy="449.2" rx="7.6" ry="8.5" opacity=".58"/><ellipse class="n1" cx="1563" cy="458.9" rx="7.6" ry="9" opacity=".63"/><ellipse class="p1" cx="1628.9" cy="459.7" rx="7.6" ry="9" opacity=".63"/><ellipse class="p1" cx="1698.5" cy="491.5" rx="7.6" ry="8.5" opacity=".63"/><ellipse class="p1" cx="1724.2" cy="491.5" rx="7.6" ry="8.5" opacity=".63"/><ellipse class="n1" cx="1796" cy="481.4" rx="7.6" ry="8.5" opacity=".63"/><ellipse class="n1" cx="1945" cy="449.2" rx="7.6" ry="8.5" opacity=".63"/><ellipse class="p1" cx="1576.4" cy="459.4" rx="7.6" ry="9" opacity=".64"/><ellipse class="p1" cx="1602.7" cy="459.7" rx="7.6" ry="9" opacity=".66"/><ellipse class="n1" cx="1615.7" cy="459.7" rx="7.6" ry="9" opacity=".66"/><ellipse class="n1" cx="1808.2" cy="459.7" rx="7.6" ry="8.5" opacity=".66"/><ellipse class="p1" cx="1821" cy="459.7" rx="7.6" ry="8.5" opacity=".66"/><ellipse class="n1" cx="1589.5" cy="459.4" rx="7.6" ry="9" opacity=".68"/><ellipse class="n1" cx="1515.3" cy="492.2" rx="7" ry="9.5" opacity=".66"/><ellipse class="n1" cx="1711.3" cy="491.5" rx="7.6" ry="8.5" opacity=".69"/><ellipse class="p1" cx="1846.7" cy="459.7" rx="7.6" ry="8.5" opacity=".69"/><ellipse class="n1" cx="1859.6" cy="459.7" rx="7.6" ry="8.5" opacity=".69"/><ellipse class="p1" cx="1501.9" cy="492.2" rx="7" ry="9.5" opacity=".69"/><ellipse class="n1" cx="1833.9" cy="459.7" rx="7.6" ry="8.5" opacity=".76"/><ellipse class="n1" cx="1488.6" cy="492.3" rx="7" ry="9.5" opacity=".87"/><ellipse class="p1" cx="1475.2" cy="492.3" rx="7" ry="9.5" opacity=".95"/><ellipse class="n2" cx="1461.9" cy="492.4" rx="7" ry="9.5"/><ellipse class="n2" cx="1435.2" cy="492.5" rx="7.6" ry="9.5"/><ellipse class="p2" cx="1448.5" cy="492.4" rx="7.6" ry="9.5"/><ellipse class="n2" cx="1408.5" cy="492.6" rx="7.6" ry="9.5"/><ellipse class="p2" cx="1421.8" cy="492.6" rx="7.6" ry="9.5"/>
</g></g>
<path d="M110.9 224.1V357.5" stroke="#000" stroke-width="1.9" stroke-dasharray="7.9 6.1" fill="none"/><path d="M110.9 368.1V505.4" stroke="#000" stroke-width="1.9" stroke-dasharray="8 6.35" fill="none"/>
<path d="M359.3 224.1V357.5" stroke="#000" stroke-width="1.9" stroke-dasharray="7.9 6.1" fill="none"/><path d="M359.3 368.1V505.4" stroke="#000" stroke-width="1.9" stroke-dasharray="8 6.35" fill="none"/>
<path d="M627.9 224.1V357.5" stroke="#000" stroke-width="1.9" stroke-dasharray="7.9 6.1" fill="none"/><path d="M627.9 368.1V505.4" stroke="#000" stroke-width="1.9" stroke-dasharray="8 6.35" fill="none"/>
<path d="M765 224.1V357.5" stroke="#000" stroke-width="1.9" stroke-dasharray="7.9 6.1" fill="none"/><path d="M765 368.1V505.4" stroke="#000" stroke-width="1.9" stroke-dasharray="8 6.35" fill="none"/>
<path d="M1016.5 224.1V357.5" stroke="#000" stroke-width="1.9" stroke-dasharray="7.9 6.1" fill="none"/><path d="M1016.5 368.1V505.4" stroke="#000" stroke-width="1.9" stroke-dasharray="8 6.35" fill="none"/>
<path d="M1281 224.1V357.5" stroke="#000" stroke-width="1.9" stroke-dasharray="7.9 6.1" fill="none"/><path d="M1281 368.1V505.4" stroke="#000" stroke-width="1.9" stroke-dasharray="8 6.35" fill="none"/>
<path d="M1422 224.1V357.5" stroke="#000" stroke-width="1.9" stroke-dasharray="7.9 6.1" fill="none"/><path d="M1422 368.1V505.4" stroke="#000" stroke-width="1.9" stroke-dasharray="8 6.35" fill="none"/>
<path d="M1681 224.1V357.5" stroke="#000" stroke-width="1.9" stroke-dasharray="7.9 6.1" fill="none"/><path d="M1681 368.1V505.4" stroke="#000" stroke-width="1.9" stroke-dasharray="8 6.35" fill="none"/>
<path d="M1940.1 224.1V357.5" stroke="#000" stroke-width="1.9" stroke-dasharray="7.9 6.1" fill="none"/><path d="M1940.1 368.1V505.4" stroke="#000" stroke-width="1.9" stroke-dasharray="8 6.35" fill="none"/>
<path d="M87.6 505.4H647.25" stroke="#000" stroke-width="1.6" fill="none"/>
<path d="M88.4 505V509.8" stroke="#000" stroke-width="1.5" fill="none"/>
<path d="M367 505V509.8" stroke="#000" stroke-width="1.5" fill="none"/>
<path d="M646.3 505V509.8" stroke="#000" stroke-width="1.5" fill="none"/>
<path d="M744.3 505.4H1304.75" stroke="#000" stroke-width="1.6" fill="none"/>
<path d="M745.1 505V509.8" stroke="#000" stroke-width="1.5" fill="none"/>
<path d="M1023.7 505V509.8" stroke="#000" stroke-width="1.5" fill="none"/>
<path d="M1303.7 505V509.8" stroke="#000" stroke-width="1.5" fill="none"/>
<path d="M1403.95 505.4H1963.75" stroke="#000" stroke-width="1.6" fill="none"/>
<path d="M1404.75 505V509.8" stroke="#000" stroke-width="1.5" fill="none"/>
<path d="M1683.3 505V509.8" stroke="#000" stroke-width="1.5" fill="none"/>
<path d="M1962.8 505V509.8" stroke="#000" stroke-width="1.5" fill="none"/>
<text x="87.1" y="540.8" font-size="36.5" text-anchor="middle">0</text>
<text x="363.75" y="540.8" font-size="36.5" text-anchor="middle">21</text>
<text x="643.75" y="540.8" font-size="36.5" text-anchor="middle">42</text>
<text x="743.9" y="540.8" font-size="36.5" text-anchor="middle">0</text>
<text x="1020.5" y="540.8" font-size="36.5" text-anchor="middle">21</text>
<text x="1300.4" y="540.8" font-size="36.5" text-anchor="middle">42</text>
<text x="1403.4" y="540.8" font-size="36.5" text-anchor="middle">0</text>
<text x="1680" y="540.8" font-size="36.5" text-anchor="middle">21</text>
<text x="1960" y="540.8" font-size="36.5" text-anchor="middle">42</text>
<text x="367.5" y="578.3" font-size="37.5" text-anchor="middle">Propagation direction <tspan font-style="italic">z</tspan> (cm)</text>
<text x="1024" y="578.3" font-size="37.5" text-anchor="middle">Propagation direction <tspan font-style="italic">z</tspan> (cm)</text>
<text x="1682.6" y="578.3" font-size="37.5" text-anchor="middle">Propagation direction <tspan font-style="italic">z</tspan> (cm)</text>
<text x="572.4" y="260.6" font-size="34" text-anchor="middle">11GHz</text>
<text x="1227.5" y="261" font-size="33.5" text-anchor="middle">11GHz</text>
<text x="1888.8" y="256.3" font-size="33.5" text-anchor="middle">11GHz</text>
<text x="64.5" y="260.5" font-size="34.5" text-anchor="middle">1</text>
<text x="65.3" y="365.6" font-size="34.5" text-anchor="middle">10</text>
<text x="63.8" y="401.9" font-size="34.5" text-anchor="middle">1</text>
<text x="65" y="507.3" font-size="34.5" text-anchor="middle">10</text>
<defs><linearGradient id="cb" x1="0" x2="1" y1="0" y2="0"><stop offset="0" stop-color="#000080"/><stop offset="0.25" stop-color="#00ffff"/><stop offset="0.5" stop-color="#00ff80"/><stop offset="0.75" stop-color="#ffff80"/><stop offset="1" stop-color="#ff0000"/></linearGradient></defs>
<rect x="1679.8" y="183.7" width="204.2" height="27.2" fill="url(#cb)"/>
<text x="1676.5" y="172.9" font-size="36" text-anchor="middle">-1</text>
<text x="1881.8" y="172.9" font-size="36" text-anchor="middle">1</text>
<text x="1732" y="167.5" font-size="36" font-style="italic">Re<tspan font-style="normal">(</tspan>E<tspan font-size="25" dy="8">y</tspan><tspan font-style="normal" dy="-8">)</tspan></text>
<text x="62" y="34.2" font-size="48" text-anchor="middle">a</text>
<text x="723.5" y="33.6" font-size="48" text-anchor="middle">b</text>
<text x="1377" y="34" font-size="48" text-anchor="middle">c</text>
<text x="55" y="216" font-size="48" text-anchor="middle">d</text>
<text x="717.6" y="215.6" font-size="48" text-anchor="middle">e</text>
<text x="1383" y="216" font-size="48" text-anchor="middle">f</text>
<text x="18.5" y="377" font-size="48" text-anchor="middle">g</text>
<text x="722.7" y="376.6" font-size="48" text-anchor="middle">h</text>
<text x="1387.8" y="375.9" font-size="48" text-anchor="middle">i</text>
<text x="13.2" y="574.2" font-size="50" text-anchor="middle">j</text>
<text x="695.6" y="575" font-size="48" text-anchor="middle">k</text>
<text x="1359.5" y="575.6" font-size="48" text-anchor="middle">l</text>
<path fill="#ff8080" d="M95.5 711.5h12.6v-105.4h-12.6zM113 711.5h12.6v-26.2h-12.6zM130.5 711.5h12.6v-6.5h-12.6zM148 711.5h12.6v-16.2h-12.6zM165.5 711.5h12.6v-23.5h-12.6zM183 711.5h12.6v-15h-12.6zM200.5 711.5h12.6v-12.5h-12.6zM218 711.5h12.6v-11h-12.6zM235.5 711.5h12.6v-2h-12.6zM253 711.5h12.6v-1.5h-12.6zM281.25 711.5h12.6v-65.2h-12.6zM298.75 711.5h12.6v-38.5h-12.6zM316.25 711.5h12.6v-83.4h-12.6zM333.75 711.5h12.6v-83.7h-12.6zM351.25 711.5h12.6v-97.7h-12.6zM368.75 711.5h12.6v-105.4h-12.6zM386.25 711.5h12.6v-86.4h-12.6zM403.75 711.5h12.6v-81.9h-12.6zM421.25 711.5h12.6v-26.5h-12.6zM438.75 711.5h12.6v-4h-12.6zM466.5 711.5h12.6v-4h-12.6zM484 711.5h12.6v-17.5h-12.6zM501.5 711.5h12.6v-18.5h-12.6zM519 711.5h12.6v-24.5h-12.6zM536.5 711.5h12.6v-40.2h-12.6zM554 711.5h12.6v-17.2h-12.6zM571.5 711.5h12.6v-29h-12.6zM589 711.5h12.6v-12.2h-12.6zM606.5 711.5h12.6v-0.3h-12.6zM624 711.5h12.6v-105.4h-12.6z"/>
<path fill="#8080ff" d="M95.5 822.4h12.6v-6.2h-12.6zM113 822.4h12.6v-23.7h-12.6zM130.5 822.4h12.6v-3h-12.6zM148 822.4h12.6v-19h-12.6zM165.5 822.4h12.6v-22.5h-12.6zM183 822.4h12.6v-13.2h-12.6zM200.5 822.4h12.6v-10.2h-12.6zM218 822.4h12.6v-17.5h-12.6zM235.5 822.4h12.6v-0.5h-12.6zM253 822.4h12.6v-100.4h-12.6zM281.25 822.4h12.6v-47.5h-12.6zM298.75 822.4h12.6v-34.7h-12.6zM316.25 822.4h12.6v-37.2h-12.6zM333.75 822.4h12.6v-4.5h-12.6zM351.25 822.4h12.6v-22.2h-12.6zM368.75 822.4h12.6v-16.5h-12.6zM386.25 822.4h12.6v-68.9h-12.6zM403.75 822.4h12.6v-105.4h-12.6zM421.25 822.4h12.6v-67.4h-12.6zM438.75 822.4h12.6v-55.9h-12.6zM466.5 822.4h12.6v-35.2h-12.6zM484 822.4h12.6v-13.2h-12.6zM501.5 822.4h12.6v-9.2h-12.6zM519 822.4h12.6v-72.4h-12.6zM536.5 822.4h12.6v-72.2h-12.6zM554 822.4h12.6v-102.6h-12.6zM571.5 822.4h12.6v-105.4h-12.6zM589 822.4h12.6v-11h-12.6zM606.5 822.4h12.6v-13h-12.6zM624 822.4h12.6v-40.5h-12.6z"/>
<rect x="153.4" y="607" width="43.2" height="20.8" fill="#ff8080"/>
<rect x="153.4" y="718" width="42.2" height="19.9" fill="#8080ff"/>
<text x="202.6" y="624.2" font-size="19.5" text-anchor="start">up</text>
<text x="202" y="734.4" font-size="19.5" text-anchor="start">down</text>
<path d="M88 601.2H645" stroke="#6e6e6e" stroke-width="1.3" fill="none"/>
<path d="M645 601.2V822.4" stroke="#6e6e6e" stroke-width="1.2" fill="none"/>
<path d="M88 601.2V822.4" stroke="#000" stroke-width="1.5" fill="none"/>
<path d="M273.75 601.2V822.4" stroke="#111" stroke-width="1.1" fill="none"/>
<path d="M459 601.2V822.4" stroke="#111" stroke-width="1.1" fill="none"/>
<path d="M88 711.5H645" stroke="#222" stroke-width="1.3" fill="none"/>
<path d="M84.5 822.4H645" stroke="#000" stroke-width="1.1" fill="none"/>
<path d="M88 606.2h-3.6M88 659h-3.6M88 702.5h-3.6M88 725.9h-3.6M88 772.5h-3.6M273.75 606.2h4M273.75 659h4M273.75 705.3h4M273.75 721.4h4M273.75 769.8h4M459 606.2h4M459 659h4M459 705.3h4M459 721.4h4M459 769.8h4M101.75 711.5v-2.2M119.25 711.5v-2.2M136.75 711.5v-2.2M154.25 711.5v-2.2M171.75 711.5v-2.2M189.25 711.5v-2.2M206.75 711.5v-2.2M224.25 711.5v-2.2M241.75 711.5v-2.2M259.25 711.5v-2.2M101.75 822.4v4M259.25 822.4v4M287.5 711.5v-2.2M305 711.5v-2.2M322.5 711.5v-2.2M340 711.5v-2.2M357.5 711.5v-2.2M375 711.5v-2.2M392.5 711.5v-2.2M410 711.5v-2.2M427.5 711.5v-2.2M445 711.5v-2.2M287.5 822.4v4M445 822.4v4M472.75 711.5v-2.2M490.25 711.5v-2.2M507.75 711.5v-2.2M525.25 711.5v-2.2M542.75 711.5v-2.2M560.25 711.5v-2.2M577.75 711.5v-2.2M595.25 711.5v-2.2M612.75 711.5v-2.2M630.25 711.5v-2.2M472.75 822.4v4M630.25 822.4v4" stroke="#000" stroke-width="1" fill="none"/>
<text x="81.2" y="616" font-size="33.2" text-anchor="end">1.0</text>
<text x="81.2" y="669" font-size="33.2" text-anchor="end">0.5</text>
<text x="81.2" y="711.5" font-size="33.2" text-anchor="end">0.0</text>
<text x="81.2" y="736" font-size="33.2" text-anchor="end">1.0</text>
<text x="81.2" y="782.5" font-size="33.2" text-anchor="end">0.5</text>
<text x="81.2" y="832.8" font-size="33.2" text-anchor="end">0.0</text>
<text x="101.75" y="854.2" font-size="34" text-anchor="middle">1</text>
<text x="259.25" y="854.2" font-size="34" text-anchor="middle">10</text>
<text x="287.5" y="854.2" font-size="34" text-anchor="middle">1</text>
<text x="445" y="854.2" font-size="34" text-anchor="middle">10</text>
<text x="472.75" y="854.2" font-size="34" text-anchor="middle">1</text>
<text x="630.25" y="854.2" font-size="34" text-anchor="middle">10</text>
<text x="366.5" y="881.8" font-size="33.7" text-anchor="middle">Waveguide site</text>
<text transform="translate(24.8 714) rotate(-90)" font-size="33" text-anchor="middle">Intensity (a.u.)</text>
<path fill="#ff8080" d="M751.8 711.5h12.6v-105.4h-12.6zM769.3 711.5h12.6v-2.2h-12.6zM804.3 711.5h12.6v-11.7h-12.6zM821.8 711.5h12.6v-22.2h-12.6zM839.3 711.5h12.6v-0.3h-12.6zM856.8 711.5h12.6v-3.5h-12.6zM874.3 711.5h12.6v-2.7h-12.6zM891.8 711.5h12.6v-1h-12.6zM909.3 711.5h12.6v-9h-12.6zM938 711.5h12.6v-21.2h-12.6zM955.5 711.5h12.6v-19.2h-12.6zM973 711.5h12.6v-50.2h-12.6zM990.5 711.5h12.6v-31.2h-12.6zM1008 711.5h12.6v-105.4h-12.6zM1025.5 711.5h12.6v-70.7h-12.6zM1043 711.5h12.6v-43h-12.6zM1060.5 711.5h12.6v-41.5h-12.6zM1078 711.5h12.6v-35.2h-12.6zM1095.5 711.5h12.6v-10.5h-12.6zM1123.3 711.5h12.6v-2.2h-12.6zM1140.8 711.5h12.6v-15h-12.6zM1158.3 711.5h12.6v-12.5h-12.6zM1175.8 711.5h12.6v-0.5h-12.6zM1193.3 711.5h12.6v-6.2h-12.6zM1210.8 711.5h12.6v-0.7h-12.6zM1228.3 711.5h12.6v-2.2h-12.6zM1245.8 711.5h12.6v-3.5h-12.6zM1263.3 711.5h12.6v-14h-12.6zM1280.8 711.5h12.6v-105.4h-12.6z"/>
<path fill="#8080ff" d="M751.8 822.4h12.6v-9.2h-12.6zM769.3 822.4h12.6v-6h-12.6zM786.8 822.4h12.6v-5.2h-12.6zM804.3 822.4h12.6v-1h-12.6zM839.3 822.4h12.6v-6.7h-12.6zM856.8 822.4h12.6v-2.7h-12.6zM874.3 822.4h12.6v-11h-12.6zM891.8 822.4h12.6v-13.2h-12.6zM909.3 822.4h12.6v-100.4h-12.6zM938 822.4h12.6v-44.5h-12.6zM955.5 822.4h12.6v-58.4h-12.6zM973 822.4h12.6v-49.7h-12.6zM990.5 822.4h12.6v-43.2h-12.6zM1008 822.4h12.6v-20.2h-12.6zM1025.5 822.4h12.6v-25.7h-12.6zM1043 822.4h12.6v-24.2h-12.6zM1060.5 822.4h12.6v-105.4h-12.6zM1078 822.4h12.6v-100.1h-12.6zM1095.5 822.4h12.6v-44.7h-12.6zM1123.3 822.4h12.6v-44.7h-12.6zM1140.8 822.4h12.6v-42.5h-12.6zM1158.3 822.4h12.6v-82.9h-12.6zM1175.8 822.4h12.6v-105.4h-12.6zM1193.3 822.4h12.6v-14h-12.6zM1210.8 822.4h12.6v-80.4h-12.6zM1228.3 822.4h12.6v-48.2h-12.6zM1245.8 822.4h12.6v-30.2h-12.6zM1263.3 822.4h12.6v-81.2h-12.6zM1280.8 822.4h12.6v-7.2h-12.6z"/>
<rect x="809.7" y="607" width="43.2" height="20.8" fill="#ff8080"/>
<rect x="809.7" y="718" width="42.2" height="19.9" fill="#8080ff"/>
<text x="858.9" y="624.2" font-size="19.5" text-anchor="start">up</text>
<text x="858.3" y="734.4" font-size="19.5" text-anchor="start">down</text>
<path d="M744.3 601.2H1302.3" stroke="#6e6e6e" stroke-width="1.3" fill="none"/>
<path d="M1302.3 601.2V822.4" stroke="#6e6e6e" stroke-width="1.2" fill="none"/>
<path d="M744.3 601.2V822.4" stroke="#555" stroke-width="1.2" fill="none"/>
<path d="M930.5 601.2V822.4" stroke="#111" stroke-width="1.1" fill="none"/>
<path d="M1115.8 601.2V822.4" stroke="#111" stroke-width="1.1" fill="none"/>
<path d="M744.3 711.5H1302.3" stroke="#222" stroke-width="1.3" fill="none"/>
<path d="M740.8 822.4H1302.3" stroke="#000" stroke-width="1.1" fill="none"/>
<path d="M744.3 606.2h-3.6M744.3 659h-3.6M744.3 702.5h-3.6M744.3 725.9h-3.6M744.3 772.5h-3.6M930.5 606.2h4M930.5 659h4M930.5 705.3h4M930.5 721.4h4M930.5 769.8h4M1115.8 606.2h4M1115.8 659h4M1115.8 705.3h4M1115.8 721.4h4M1115.8 769.8h4M758.05 711.5v-2.2M775.55 711.5v-2.2M793.05 711.5v-2.2M810.55 711.5v-2.2M828.05 711.5v-2.2M845.55 711.5v-2.2M863.05 711.5v-2.2M880.55 711.5v-2.2M898.05 711.5v-2.2M915.55 711.5v-2.2M758.05 822.4v4M915.55 822.4v4M944.25 711.5v-2.2M961.75 711.5v-2.2M979.25 711.5v-2.2M996.75 711.5v-2.2M1014.25 711.5v-2.2M1031.75 711.5v-2.2M1049.25 711.5v-2.2M1066.75 711.5v-2.2M1084.25 711.5v-2.2M1101.75 711.5v-2.2M944.25 822.4v4M1101.75 822.4v4M1129.55 711.5v-2.2M1147.05 711.5v-2.2M1164.55 711.5v-2.2M1182.05 711.5v-2.2M1199.55 711.5v-2.2M1217.05 711.5v-2.2M1234.55 711.5v-2.2M1252.05 711.5v-2.2M1269.55 711.5v-2.2M1287.05 711.5v-2.2M1129.55 822.4v4M1287.05 822.4v4" stroke="#000" stroke-width="1" fill="none"/>
<text x="737.5" y="616" font-size="33.2" text-anchor="end">1.0</text>
<text x="737.5" y="669" font-size="33.2" text-anchor="end">0.5</text>
<text x="737.5" y="711.5" font-size="33.2" text-anchor="end">0.0</text>
<text x="737.5" y="736" font-size="33.2" text-anchor="end">1.0</text>
<text x="737.5" y="782.5" font-size="33.2" text-anchor="end">0.5</text>
<text x="737.5" y="832.8" font-size="33.2" text-anchor="end">0.0</text>
<text x="758.05" y="854.2" font-size="34" text-anchor="middle">1</text>
<text x="915.55" y="854.2" font-size="34" text-anchor="middle">10</text>
<text x="944.25" y="854.2" font-size="34" text-anchor="middle">1</text>
<text x="1101.75" y="854.2" font-size="34" text-anchor="middle">10</text>
<text x="1129.55" y="854.2" font-size="34" text-anchor="middle">1</text>
<text x="1287.05" y="854.2" font-size="34" text-anchor="middle">10</text>
<text x="1023.3" y="881.8" font-size="33.7" text-anchor="middle">Waveguide site</text>
<text transform="translate(681.1 714) rotate(-90)" font-size="33" text-anchor="middle">Intensity (a.u.)</text>
<path fill="#ff8080" d="M1411.2 711.5h12.6v-105.4h-12.6zM1428.7 711.5h12.6v-24.2h-12.6zM1446.2 711.5h12.6v-12.5h-12.6zM1463.7 711.5h12.6v-1.5h-12.6zM1481.2 711.5h12.6v-3.5h-12.6zM1498.7 711.5h12.6v-6.7h-12.6zM1516.2 711.5h12.6v-7.5h-12.6zM1533.7 711.5h12.6v-6h-12.6zM1551.2 711.5h12.6v-3h-12.6zM1568.7 711.5h12.6v-13.5h-12.6zM1597.3 711.5h12.6v-81.7h-12.6zM1614.8 711.5h12.6v-61.9h-12.6zM1632.3 711.5h12.6v-105.4h-12.6zM1649.8 711.5h12.6v-90.4h-12.6zM1667.3 711.5h12.6v-8.5h-12.6zM1684.8 711.5h12.6v-16.7h-12.6zM1702.3 711.5h12.6v-71.9h-12.6zM1719.8 711.5h12.6v-89.7h-12.6zM1737.3 711.5h12.6v-6.7h-12.6zM1754.8 711.5h12.6v-70.7h-12.6zM1783.1 711.5h12.6v-21.5h-12.6zM1800.6 711.5h12.6v-9.2h-12.6zM1818.1 711.5h12.6v-1.5h-12.6zM1835.6 711.5h12.6v-24.7h-12.6zM1853.1 711.5h12.6v-16.2h-12.6zM1870.6 711.5h12.6v-23.2h-12.6zM1888.1 711.5h12.6v-27.2h-12.6zM1905.6 711.5h12.6v-13.2h-12.6zM1923.1 711.5h12.6v-6.2h-12.6zM1940.6 711.5h12.6v-105.4h-12.6z"/>
<path fill="#8080ff" d="M1411.2 822.4h12.6v-9.2h-12.6zM1428.7 822.4h12.6v-8.2h-12.6zM1446.2 822.4h12.6v-5.5h-12.6zM1463.7 822.4h12.6v-4.5h-12.6zM1481.2 822.4h12.6v-5h-12.6zM1498.7 822.4h12.6v-5.7h-12.6zM1516.2 822.4h12.6v-5.5h-12.6zM1533.7 822.4h12.6v-1.2h-12.6zM1551.2 822.4h12.6v-5.5h-12.6zM1568.7 822.4h12.6v-100.4h-12.6zM1597.3 822.4h12.6v-13.2h-12.6zM1614.8 822.4h12.6v-1h-12.6zM1632.3 822.4h12.6v-0.7h-12.6zM1649.8 822.4h12.6v-5.2h-12.6zM1667.3 822.4h12.6v-18.5h-12.6zM1684.8 822.4h12.6v-69.2h-12.6zM1702.3 822.4h12.6v-23h-12.6zM1719.8 822.4h12.6v-105.4h-12.6zM1737.3 822.4h12.6v-52.7h-12.6zM1754.8 822.4h12.6v-102.6h-12.6zM1783.1 822.4h12.6v-25.2h-12.6zM1800.6 822.4h12.6v-3.2h-12.6zM1818.1 822.4h12.6v-47.5h-12.6zM1835.6 822.4h12.6v-83.9h-12.6zM1853.1 822.4h12.6v-35.5h-12.6zM1870.6 822.4h12.6v-105.4h-12.6zM1888.1 822.4h12.6v-4.2h-12.6zM1905.6 822.4h12.6v-42.7h-12.6zM1923.1 822.4h12.6v-50.4h-12.6zM1940.6 822.4h12.6v-10h-12.6z"/>
<rect x="1469.1" y="607" width="43.2" height="20.8" fill="#ff8080"/>
<rect x="1469.1" y="718" width="42.2" height="19.9" fill="#8080ff"/>
<text x="1518.3" y="624.2" font-size="19.5" text-anchor="start">up</text>
<text x="1517.7" y="734.4" font-size="19.5" text-anchor="start">down</text>
<path d="M1403.7 601.2H1962" stroke="#6e6e6e" stroke-width="1.3" fill="none"/>
<path d="M1962 601.2V822.4" stroke="#6e6e6e" stroke-width="1.2" fill="none"/>
<path d="M1403.7 601.2V822.4" stroke="#555" stroke-width="1.2" fill="none"/>
<path d="M1589.8 601.2V822.4" stroke="#111" stroke-width="1.1" fill="none"/>
<path d="M1775.6 601.2V822.4" stroke="#111" stroke-width="1.1" fill="none"/>
<path d="M1403.7 711.5H1962" stroke="#222" stroke-width="1.3" fill="none"/>
<path d="M1400.2 822.4H1962" stroke="#000" stroke-width="1.1" fill="none"/>
<path d="M1403.7 606.2h-3.6M1403.7 659h-3.6M1403.7 702.5h-3.6M1403.7 725.9h-3.6M1403.7 772.5h-3.6M1589.8 606.2h4M1589.8 659h4M1589.8 705.3h4M1589.8 721.4h4M1589.8 769.8h4M1775.6 606.2h4M1775.6 659h4M1775.6 705.3h4M1775.6 721.4h4M1775.6 769.8h4M1417.45 711.5v-2.2M1434.95 711.5v-2.2M1452.45 711.5v-2.2M1469.95 711.5v-2.2M1487.45 711.5v-2.2M1504.95 711.5v-2.2M1522.45 711.5v-2.2M1539.95 711.5v-2.2M1557.45 711.5v-2.2M1574.95 711.5v-2.2M1417.45 822.4v4M1574.95 822.4v4M1603.55 711.5v-2.2M1621.05 711.5v-2.2M1638.55 711.5v-2.2M1656.05 711.5v-2.2M1673.55 711.5v-2.2M1691.05 711.5v-2.2M1708.55 711.5v-2.2M1726.05 711.5v-2.2M1743.55 711.5v-2.2M1761.05 711.5v-2.2M1603.55 822.4v4M1761.05 822.4v4M1789.35 711.5v-2.2M1806.85 711.5v-2.2M1824.35 711.5v-2.2M1841.85 711.5v-2.2M1859.35 711.5v-2.2M1876.85 711.5v-2.2M1894.35 711.5v-2.2M1911.85 711.5v-2.2M1929.35 711.5v-2.2M1946.85 711.5v-2.2M1789.35 822.4v4M1946.85 822.4v4" stroke="#000" stroke-width="1" fill="none"/>
<text x="1396.9" y="616" font-size="33.2" text-anchor="end">1.0</text>
<text x="1396.9" y="669" font-size="33.2" text-anchor="end">0.5</text>
<text x="1396.9" y="711.5" font-size="33.2" text-anchor="end">0.0</text>
<text x="1396.9" y="736" font-size="33.2" text-anchor="end">1.0</text>
<text x="1396.9" y="782.5" font-size="33.2" text-anchor="end">0.5</text>
<text x="1396.9" y="832.8" font-size="33.2" text-anchor="end">0.0</text>
<text x="1417.45" y="854.2" font-size="34" text-anchor="middle">1</text>
<text x="1574.95" y="854.2" font-size="34" text-anchor="middle">10</text>
<text x="1603.55" y="854.2" font-size="34" text-anchor="middle">1</text>
<text x="1761.05" y="854.2" font-size="34" text-anchor="middle">10</text>
<text x="1789.35" y="854.2" font-size="34" text-anchor="middle">1</text>
<text x="1946.85" y="854.2" font-size="34" text-anchor="middle">10</text>
<text x="1682.85" y="881.8" font-size="33.7" text-anchor="middle">Waveguide site</text>
<text transform="translate(1340.5 714) rotate(-90)" font-size="33" text-anchor="middle">Intensity (a.u.)</text>
</svg></body></html>
